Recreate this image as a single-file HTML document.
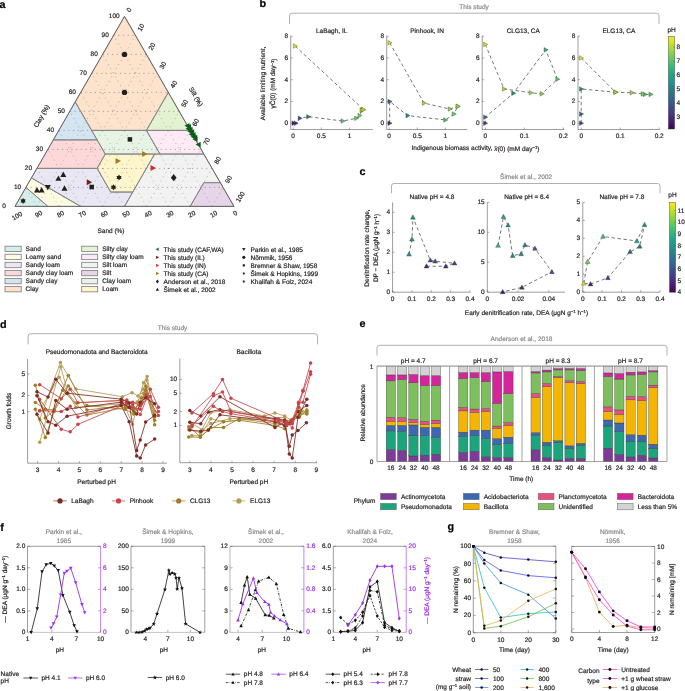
<!DOCTYPE html><html><head><meta charset="utf-8"><style>html,body{margin:0;padding:0;background:#fff;width:685px;height:691px;overflow:hidden}</style></head><body><svg width="685" height="691" viewBox="0 0 685 691" style="display:block;will-change:transform;text-rendering:geometricPrecision;font-family:'Liberation Sans',sans-serif"><text x="-0.40" y="7.80" font-size="10.8" text-anchor="start" fill="#000" stroke="#000" stroke-width="0.2" font-weight="bold">a</text>
<polygon points="15.00,206.40 47.85,206.40 25.95,187.40" fill="#d5eeea" stroke="none" stroke-width="0.6" stroke-linejoin="round" />
<polygon points="25.95,187.40 47.85,206.40 80.70,206.40 31.43,177.90" fill="#fdfbe1" stroke="none" stroke-width="0.6" stroke-linejoin="round" />
<polygon points="31.43,177.90 80.70,206.40 124.50,206.40 132.77,192.06 110.76,192.06 97.12,168.40 36.90,168.40" fill="#e9e7f4" stroke="none" stroke-width="0.6" stroke-linejoin="round" />
<polygon points="36.90,168.40 97.12,168.40 105.28,154.06 97.12,139.90 53.33,139.90" fill="#fcd8d8" stroke="none" stroke-width="0.6" stroke-linejoin="round" />
<polygon points="53.33,139.90 97.12,139.90 75.22,101.90" fill="#d5e4f1" stroke="none" stroke-width="0.6" stroke-linejoin="round" />
<polygon points="75.22,101.90 91.65,130.40 146.40,130.40 168.30,92.40 124.50,16.40" fill="#fde2cc" stroke="none" stroke-width="0.6" stroke-linejoin="round" />
<polygon points="146.40,130.40 190.20,130.40 168.30,92.40" fill="#e3f2d0" stroke="none" stroke-width="0.6" stroke-linejoin="round" />
<polygon points="160.03,154.06 203.83,154.06 190.20,130.40 146.40,130.40" fill="#fdeaf4" stroke="none" stroke-width="0.6" stroke-linejoin="round" />
<polygon points="124.50,206.40 190.20,206.40 203.89,182.65 220.31,182.65 203.83,154.06 154.67,154.06 132.77,192.06" fill="#f2f2f2" stroke="none" stroke-width="0.6" stroke-linejoin="round" />
<polygon points="190.20,206.40 234.00,206.40 220.31,182.65 203.89,182.65" fill="#e6d4e8" stroke="none" stroke-width="0.6" stroke-linejoin="round" />
<polygon points="105.28,154.06 160.03,154.06 146.40,130.40 91.65,130.40" fill="#e7f4e5" stroke="none" stroke-width="0.6" stroke-linejoin="round" />
<polygon points="132.77,192.06 110.76,192.06 97.12,168.40 105.28,154.06 154.67,154.06" fill="#fdf6cc" stroke="none" stroke-width="0.6" stroke-linejoin="round" />
<line x1="25.95" y1="187.40" x2="223.05" y2="187.40" stroke="#6a6a6a" stroke-width="0.55" stroke-dasharray="1.2 3.5" />
<line x1="212.10" y1="206.40" x2="113.55" y2="35.40" stroke="#7a7a7a" stroke-width="0.5" stroke-dasharray="1.1 3.7" />
<line x1="36.90" y1="206.40" x2="135.45" y2="35.40" stroke="#7a7a7a" stroke-width="0.5" stroke-dasharray="1.1 3.7" />
<line x1="36.90" y1="168.40" x2="212.10" y2="168.40" stroke="#6a6a6a" stroke-width="0.55" stroke-dasharray="1.2 3.5" />
<line x1="190.20" y1="206.40" x2="102.60" y2="54.40" stroke="#7a7a7a" stroke-width="0.5" stroke-dasharray="1.1 3.7" />
<line x1="58.80" y1="206.40" x2="146.40" y2="54.40" stroke="#7a7a7a" stroke-width="0.5" stroke-dasharray="1.1 3.7" />
<line x1="47.85" y1="149.40" x2="201.15" y2="149.40" stroke="#6a6a6a" stroke-width="0.55" stroke-dasharray="1.2 3.5" />
<line x1="168.30" y1="206.40" x2="91.65" y2="73.40" stroke="#7a7a7a" stroke-width="0.5" stroke-dasharray="1.1 3.7" />
<line x1="80.70" y1="206.40" x2="157.35" y2="73.40" stroke="#7a7a7a" stroke-width="0.5" stroke-dasharray="1.1 3.7" />
<line x1="58.80" y1="130.40" x2="190.20" y2="130.40" stroke="#6a6a6a" stroke-width="0.55" stroke-dasharray="1.2 3.5" />
<line x1="146.40" y1="206.40" x2="80.70" y2="92.40" stroke="#7a7a7a" stroke-width="0.5" stroke-dasharray="1.1 3.7" />
<line x1="102.60" y1="206.40" x2="168.30" y2="92.40" stroke="#7a7a7a" stroke-width="0.5" stroke-dasharray="1.1 3.7" />
<line x1="69.75" y1="111.40" x2="179.25" y2="111.40" stroke="#6a6a6a" stroke-width="0.55" stroke-dasharray="1.2 3.5" />
<line x1="124.50" y1="206.40" x2="69.75" y2="111.40" stroke="#7a7a7a" stroke-width="0.5" stroke-dasharray="1.1 3.7" />
<line x1="124.50" y1="206.40" x2="179.25" y2="111.40" stroke="#7a7a7a" stroke-width="0.5" stroke-dasharray="1.1 3.7" />
<line x1="80.70" y1="92.40" x2="168.30" y2="92.40" stroke="#6a6a6a" stroke-width="0.55" stroke-dasharray="1.2 3.5" />
<line x1="102.60" y1="206.40" x2="58.80" y2="130.40" stroke="#7a7a7a" stroke-width="0.5" stroke-dasharray="1.1 3.7" />
<line x1="146.40" y1="206.40" x2="190.20" y2="130.40" stroke="#7a7a7a" stroke-width="0.5" stroke-dasharray="1.1 3.7" />
<line x1="91.65" y1="73.40" x2="157.35" y2="73.40" stroke="#6a6a6a" stroke-width="0.55" stroke-dasharray="1.2 3.5" />
<line x1="80.70" y1="206.40" x2="47.85" y2="149.40" stroke="#7a7a7a" stroke-width="0.5" stroke-dasharray="1.1 3.7" />
<line x1="168.30" y1="206.40" x2="201.15" y2="149.40" stroke="#7a7a7a" stroke-width="0.5" stroke-dasharray="1.1 3.7" />
<line x1="102.60" y1="54.40" x2="146.40" y2="54.40" stroke="#6a6a6a" stroke-width="0.55" stroke-dasharray="1.2 3.5" />
<line x1="58.80" y1="206.40" x2="36.90" y2="168.40" stroke="#7a7a7a" stroke-width="0.5" stroke-dasharray="1.1 3.7" />
<line x1="190.20" y1="206.40" x2="212.10" y2="168.40" stroke="#7a7a7a" stroke-width="0.5" stroke-dasharray="1.1 3.7" />
<line x1="113.55" y1="35.40" x2="135.45" y2="35.40" stroke="#6a6a6a" stroke-width="0.55" stroke-dasharray="1.2 3.5" />
<line x1="36.90" y1="206.40" x2="25.95" y2="187.40" stroke="#7a7a7a" stroke-width="0.5" stroke-dasharray="1.1 3.7" />
<line x1="212.10" y1="206.40" x2="223.05" y2="187.40" stroke="#7a7a7a" stroke-width="0.5" stroke-dasharray="1.1 3.7" />
<polygon points="15.00,206.40 47.85,206.40 25.95,187.40" fill="none" stroke="#858585" stroke-width="0.9" stroke-linejoin="round" />
<polygon points="25.95,187.40 47.85,206.40 80.70,206.40 31.43,177.90" fill="none" stroke="#858585" stroke-width="0.9" stroke-linejoin="round" />
<polygon points="31.43,177.90 80.70,206.40 124.50,206.40 132.77,192.06 110.76,192.06 97.12,168.40 36.90,168.40" fill="none" stroke="#858585" stroke-width="0.9" stroke-linejoin="round" />
<polygon points="36.90,168.40 97.12,168.40 105.28,154.06 97.12,139.90 53.33,139.90" fill="none" stroke="#858585" stroke-width="0.9" stroke-linejoin="round" />
<polygon points="53.33,139.90 97.12,139.90 75.22,101.90" fill="none" stroke="#858585" stroke-width="0.9" stroke-linejoin="round" />
<polygon points="75.22,101.90 91.65,130.40 146.40,130.40 168.30,92.40 124.50,16.40" fill="none" stroke="#858585" stroke-width="0.9" stroke-linejoin="round" />
<polygon points="146.40,130.40 190.20,130.40 168.30,92.40" fill="none" stroke="#858585" stroke-width="0.9" stroke-linejoin="round" />
<polygon points="160.03,154.06 203.83,154.06 190.20,130.40 146.40,130.40" fill="none" stroke="#858585" stroke-width="0.9" stroke-linejoin="round" />
<polygon points="124.50,206.40 190.20,206.40 203.89,182.65 220.31,182.65 203.83,154.06 154.67,154.06 132.77,192.06" fill="none" stroke="#858585" stroke-width="0.9" stroke-linejoin="round" />
<polygon points="190.20,206.40 234.00,206.40 220.31,182.65 203.89,182.65" fill="none" stroke="#858585" stroke-width="0.9" stroke-linejoin="round" />
<polygon points="105.28,154.06 160.03,154.06 146.40,130.40 91.65,130.40" fill="none" stroke="#858585" stroke-width="0.9" stroke-linejoin="round" />
<polygon points="132.77,192.06 110.76,192.06 97.12,168.40 105.28,154.06 154.67,154.06" fill="none" stroke="#858585" stroke-width="0.9" stroke-linejoin="round" />
<polygon points="124.50,16.40 15.00,206.40 234.00,206.40" fill="none" stroke="#555" stroke-width="0.7" stroke-linejoin="round" />
<text x="5.80" y="206.90" font-size="6.5" text-anchor="end" fill="#231f20" stroke="#231f20" stroke-width="0.2" dominant-baseline="central">0</text>
<text x="21.15" y="187.90" font-size="6.5" text-anchor="end" fill="#231f20" stroke="#231f20" stroke-width="0.2" dominant-baseline="central">10</text>
<text x="32.10" y="168.90" font-size="6.5" text-anchor="end" fill="#231f20" stroke="#231f20" stroke-width="0.2" dominant-baseline="central">20</text>
<text x="43.05" y="149.90" font-size="6.5" text-anchor="end" fill="#231f20" stroke="#231f20" stroke-width="0.2" dominant-baseline="central">30</text>
<text x="54.00" y="130.90" font-size="6.5" text-anchor="end" fill="#231f20" stroke="#231f20" stroke-width="0.2" dominant-baseline="central">40</text>
<text x="64.95" y="111.90" font-size="6.5" text-anchor="end" fill="#231f20" stroke="#231f20" stroke-width="0.2" dominant-baseline="central">50</text>
<text x="75.90" y="92.90" font-size="6.5" text-anchor="end" fill="#231f20" stroke="#231f20" stroke-width="0.2" dominant-baseline="central">60</text>
<text x="86.85" y="73.90" font-size="6.5" text-anchor="end" fill="#231f20" stroke="#231f20" stroke-width="0.2" dominant-baseline="central">70</text>
<text x="97.80" y="54.90" font-size="6.5" text-anchor="end" fill="#231f20" stroke="#231f20" stroke-width="0.2" dominant-baseline="central">80</text>
<text x="108.75" y="35.90" font-size="6.5" text-anchor="end" fill="#231f20" stroke="#231f20" stroke-width="0.2" dominant-baseline="central">90</text>
<text x="119.70" y="16.90" font-size="6.5" text-anchor="end" fill="#231f20" stroke="#231f20" stroke-width="0.2" dominant-baseline="central">100</text>
<text x="129.68" y="10.28" font-size="6.5" text-anchor="middle" fill="#231f20" stroke="#231f20" stroke-width="0.2" dominant-baseline="central" transform="rotate(-60 129.68 10.28)">0</text>
<text x="141.50" y="27.77" font-size="6.5" text-anchor="middle" fill="#231f20" stroke="#231f20" stroke-width="0.2" dominant-baseline="central" transform="rotate(-60 141.50 27.77)">10</text>
<text x="152.45" y="46.77" font-size="6.5" text-anchor="middle" fill="#231f20" stroke="#231f20" stroke-width="0.2" dominant-baseline="central" transform="rotate(-60 152.45 46.77)">20</text>
<text x="163.40" y="65.77" font-size="6.5" text-anchor="middle" fill="#231f20" stroke="#231f20" stroke-width="0.2" dominant-baseline="central" transform="rotate(-60 163.40 65.77)">30</text>
<text x="174.35" y="84.77" font-size="6.5" text-anchor="middle" fill="#231f20" stroke="#231f20" stroke-width="0.2" dominant-baseline="central" transform="rotate(-60 174.35 84.77)">40</text>
<text x="185.30" y="103.77" font-size="6.5" text-anchor="middle" fill="#231f20" stroke="#231f20" stroke-width="0.2" dominant-baseline="central" transform="rotate(-60 185.30 103.77)">50</text>
<text x="196.25" y="122.77" font-size="6.5" text-anchor="middle" fill="#231f20" stroke="#231f20" stroke-width="0.2" dominant-baseline="central" transform="rotate(-60 196.25 122.77)">60</text>
<text x="207.20" y="141.77" font-size="6.5" text-anchor="middle" fill="#231f20" stroke="#231f20" stroke-width="0.2" dominant-baseline="central" transform="rotate(-60 207.20 141.77)">70</text>
<text x="218.15" y="160.77" font-size="6.5" text-anchor="middle" fill="#231f20" stroke="#231f20" stroke-width="0.2" dominant-baseline="central" transform="rotate(-60 218.15 160.77)">80</text>
<text x="229.10" y="179.77" font-size="6.5" text-anchor="middle" fill="#231f20" stroke="#231f20" stroke-width="0.2" dominant-baseline="central" transform="rotate(-60 229.10 179.77)">90</text>
<text x="240.93" y="197.25" font-size="6.5" text-anchor="middle" fill="#231f20" stroke="#231f20" stroke-width="0.2" dominant-baseline="central" transform="rotate(-60 240.93 197.25)">100</text>
<text x="235.65" y="213.88" font-size="6.5" text-anchor="middle" fill="#231f20" stroke="#231f20" stroke-width="0.2" dominant-baseline="central" transform="rotate(-30 235.65 213.88)">0</text>
<text x="214.10" y="214.75" font-size="6.5" text-anchor="middle" fill="#231f20" stroke="#231f20" stroke-width="0.2" dominant-baseline="central" transform="rotate(-30 214.10 214.75)">10</text>
<text x="192.20" y="214.75" font-size="6.5" text-anchor="middle" fill="#231f20" stroke="#231f20" stroke-width="0.2" dominant-baseline="central" transform="rotate(-30 192.20 214.75)">20</text>
<text x="170.30" y="214.75" font-size="6.5" text-anchor="middle" fill="#231f20" stroke="#231f20" stroke-width="0.2" dominant-baseline="central" transform="rotate(-30 170.30 214.75)">30</text>
<text x="148.40" y="214.75" font-size="6.5" text-anchor="middle" fill="#231f20" stroke="#231f20" stroke-width="0.2" dominant-baseline="central" transform="rotate(-30 148.40 214.75)">40</text>
<text x="126.50" y="214.75" font-size="6.5" text-anchor="middle" fill="#231f20" stroke="#231f20" stroke-width="0.2" dominant-baseline="central" transform="rotate(-30 126.50 214.75)">50</text>
<text x="104.60" y="214.75" font-size="6.5" text-anchor="middle" fill="#231f20" stroke="#231f20" stroke-width="0.2" dominant-baseline="central" transform="rotate(-30 104.60 214.75)">60</text>
<text x="82.70" y="214.75" font-size="6.5" text-anchor="middle" fill="#231f20" stroke="#231f20" stroke-width="0.2" dominant-baseline="central" transform="rotate(-30 82.70 214.75)">70</text>
<text x="60.80" y="214.75" font-size="6.5" text-anchor="middle" fill="#231f20" stroke="#231f20" stroke-width="0.2" dominant-baseline="central" transform="rotate(-30 60.80 214.75)">80</text>
<text x="38.90" y="214.75" font-size="6.5" text-anchor="middle" fill="#231f20" stroke="#231f20" stroke-width="0.2" dominant-baseline="central" transform="rotate(-30 38.90 214.75)">90</text>
<text x="17.35" y="216.53" font-size="6.5" text-anchor="middle" fill="#231f20" stroke="#231f20" stroke-width="0.2" dominant-baseline="central" transform="rotate(-30 17.35 216.53)">100</text>
<text x="111.00" y="231.70" font-size="6.5" text-anchor="middle" fill="#231f20" stroke="#231f20" stroke-width="0.2" dominant-baseline="central">Sand (%)</text>
<text x="42.10" y="116.40" font-size="6.5" text-anchor="middle" fill="#231f20" stroke="#231f20" stroke-width="0.2" dominant-baseline="central" transform="rotate(-60 42.10 116.40)">Clay (%)</text>
<text x="195.40" y="97.10" font-size="6.5" text-anchor="middle" fill="#231f20" stroke="#231f20" stroke-width="0.2" dominant-baseline="central" transform="rotate(60 195.40 97.10)">Silt (%)</text>
<circle cx="124.50" cy="54.40" r="2.70" fill="#231f20" stroke="none" stroke-width="0.5"/>
<circle cx="124.50" cy="92.40" r="2.70" fill="#231f20" stroke="none" stroke-width="0.5"/>
<rect x="127.65" y="137.15" width="4.50" height="4.50" fill="#231f20" stroke="none" stroke-width="0.6" />
<rect x="89.45" y="184.75" width="4.50" height="4.50" fill="#231f20" stroke="none" stroke-width="0.6" />
<polygon points="173.70,174.10 176.58,177.70 173.70,181.30 170.82,177.70" fill="#231f20" stroke="none" stroke-width="0.6" stroke-linejoin="round" />
<polygon points="119.00,174.50 118.10,175.94 116.40,176.00 117.20,177.50 116.40,179.00 118.10,179.06 119.00,180.50 119.90,179.06 121.60,179.00 120.80,177.50 121.60,176.00 119.90,175.94" fill="#231f20" stroke="none" stroke-width="0.6" stroke-linejoin="round" />
<polygon points="113.50,184.30 112.60,185.74 110.90,185.80 111.70,187.30 110.90,188.80 112.60,188.86 113.50,190.30 114.40,188.86 116.10,188.80 115.30,187.30 116.10,185.80 114.40,185.74" fill="#231f20" stroke="none" stroke-width="0.6" stroke-linejoin="round" />
<polygon points="23.10,197.90 22.20,199.34 20.50,199.40 21.30,200.90 20.50,202.40 22.20,202.46 23.10,203.90 24.00,202.46 25.70,202.40 24.90,200.90 25.70,199.40 24.00,199.34" fill="#231f20" stroke="none" stroke-width="0.6" stroke-linejoin="round" />
<polygon points="63.30,171.55 66.30,176.95 60.30,176.95" fill="#231f20" stroke="none" stroke-width="0.4" stroke-linejoin="round" />
<polygon points="58.40,175.45 61.40,180.85 55.40,180.85" fill="#231f20" stroke="none" stroke-width="0.4" stroke-linejoin="round" />
<polygon points="64.50,185.25 67.50,190.65 61.50,190.65" fill="#231f20" stroke="none" stroke-width="0.4" stroke-linejoin="round" />
<polygon points="37.00,187.05 40.00,192.45 34.00,192.45" fill="#231f20" stroke="none" stroke-width="0.4" stroke-linejoin="round" />
<polygon points="41.60,187.05 44.60,192.45 38.60,192.45" fill="#231f20" stroke="none" stroke-width="0.4" stroke-linejoin="round" />
<polygon points="47.80,190.35 50.80,184.95 44.80,184.95" fill="#231f20" stroke="none" stroke-width="0.4" stroke-linejoin="round" />
<polygon points="120.95,161.00 115.55,158.00 115.55,164.00" fill="#a27b1f" stroke="none" stroke-width="0.4" stroke-linejoin="round" />
<polygon points="147.55,154.00 142.15,151.00 142.15,157.00" fill="#a27b1f" stroke="none" stroke-width="0.4" stroke-linejoin="round" />
<polygon points="155.95,167.90 150.55,164.90 150.55,170.90" fill="#d02a2a" stroke="none" stroke-width="0.4" stroke-linejoin="round" />
<polygon points="92.15,182.30 86.75,179.30 86.75,185.30" fill="#7a1f14" stroke="none" stroke-width="0.4" stroke-linejoin="round" />
<polygon points="184.46,125.80 189.50,123.00 189.50,128.60" fill="#0b5e17" stroke="none" stroke-width="0.4" stroke-linejoin="round" />
<polygon points="186.04,126.69 191.08,123.89 191.08,129.49" fill="#0b5e17" stroke="none" stroke-width="0.4" stroke-linejoin="round" />
<polygon points="185.54,128.78 190.58,125.98 190.58,131.58" fill="#0b5e17" stroke="none" stroke-width="0.4" stroke-linejoin="round" />
<polygon points="187.47,129.47 192.51,126.67 192.51,132.27" fill="#0b5e17" stroke="none" stroke-width="0.4" stroke-linejoin="round" />
<polygon points="187.31,131.36 192.35,128.56 192.35,134.16" fill="#0b5e17" stroke="none" stroke-width="0.4" stroke-linejoin="round" />
<polygon points="189.15,132.10 194.19,129.30 194.19,134.90" fill="#0b5e17" stroke="none" stroke-width="0.4" stroke-linejoin="round" />
<polygon points="188.65,134.19 193.69,131.39 193.69,136.99" fill="#0b5e17" stroke="none" stroke-width="0.4" stroke-linejoin="round" />
<polygon points="190.49,134.93 195.53,132.13 195.53,137.73" fill="#0b5e17" stroke="none" stroke-width="0.4" stroke-linejoin="round" />
<polygon points="190.60,136.67 195.64,133.87 195.64,139.47" fill="#0b5e17" stroke="none" stroke-width="0.4" stroke-linejoin="round" />
<polygon points="192.18,137.56 197.22,134.76 197.22,140.36" fill="#0b5e17" stroke="none" stroke-width="0.4" stroke-linejoin="round" />
<polygon points="192.46,139.20 197.50,136.40 197.50,142.00" fill="#0b5e17" stroke="none" stroke-width="0.4" stroke-linejoin="round" />
<polygon points="195.66,144.60 200.70,141.80 200.70,147.40" fill="#0b5e17" stroke="none" stroke-width="0.4" stroke-linejoin="round" />
<rect x="5.00" y="246.20" width="16.20" height="5.40" fill="#d5eeea" stroke="#7c7c7c" stroke-width="0.8" />
<text x="25.60" y="249.40" font-size="6.5" text-anchor="start" fill="#231f20" stroke="#231f20" stroke-width="0.2" dominant-baseline="central">Sand</text>
<rect x="5.00" y="254.25" width="16.20" height="5.40" fill="#fdfbe1" stroke="#7c7c7c" stroke-width="0.8" />
<text x="25.60" y="257.45" font-size="6.5" text-anchor="start" fill="#231f20" stroke="#231f20" stroke-width="0.2" dominant-baseline="central">Loamy sand</text>
<rect x="5.00" y="262.30" width="16.20" height="5.40" fill="#e9e7f4" stroke="#7c7c7c" stroke-width="0.8" />
<text x="25.60" y="265.50" font-size="6.5" text-anchor="start" fill="#231f20" stroke="#231f20" stroke-width="0.2" dominant-baseline="central">Sandy loam</text>
<rect x="5.00" y="270.35" width="16.20" height="5.40" fill="#fcd8d8" stroke="#7c7c7c" stroke-width="0.8" />
<text x="25.60" y="273.55" font-size="6.5" text-anchor="start" fill="#231f20" stroke="#231f20" stroke-width="0.2" dominant-baseline="central">Sandy clay loam</text>
<rect x="5.00" y="278.40" width="16.20" height="5.40" fill="#d5e4f1" stroke="#7c7c7c" stroke-width="0.8" />
<text x="25.60" y="281.60" font-size="6.5" text-anchor="start" fill="#231f20" stroke="#231f20" stroke-width="0.2" dominant-baseline="central">Sandy clay</text>
<rect x="5.00" y="286.45" width="16.20" height="5.40" fill="#fde2cc" stroke="#7c7c7c" stroke-width="0.8" />
<text x="25.60" y="289.65" font-size="6.5" text-anchor="start" fill="#231f20" stroke="#231f20" stroke-width="0.2" dominant-baseline="central">Clay</text>
<rect x="81.70" y="246.20" width="16.00" height="5.40" fill="#e3f2d0" stroke="#7c7c7c" stroke-width="0.8" />
<text x="102.20" y="249.40" font-size="6.5" text-anchor="start" fill="#231f20" stroke="#231f20" stroke-width="0.2" dominant-baseline="central">Silty clay</text>
<rect x="81.70" y="254.25" width="16.00" height="5.40" fill="#fdeaf4" stroke="#7c7c7c" stroke-width="0.8" />
<text x="102.20" y="257.45" font-size="6.5" text-anchor="start" fill="#231f20" stroke="#231f20" stroke-width="0.2" dominant-baseline="central">Silty clay loam</text>
<rect x="81.70" y="262.30" width="16.00" height="5.40" fill="#f2f2f2" stroke="#7c7c7c" stroke-width="0.8" />
<text x="102.20" y="265.50" font-size="6.5" text-anchor="start" fill="#231f20" stroke="#231f20" stroke-width="0.2" dominant-baseline="central">Silt loam</text>
<rect x="81.70" y="270.35" width="16.00" height="5.40" fill="#e6d4e8" stroke="#7c7c7c" stroke-width="0.8" />
<text x="102.20" y="273.55" font-size="6.5" text-anchor="start" fill="#231f20" stroke="#231f20" stroke-width="0.2" dominant-baseline="central">Silt</text>
<rect x="81.70" y="278.40" width="16.00" height="5.40" fill="#e7f4e5" stroke="#7c7c7c" stroke-width="0.8" />
<text x="102.20" y="281.60" font-size="6.5" text-anchor="start" fill="#231f20" stroke="#231f20" stroke-width="0.2" dominant-baseline="central">Clay loam</text>
<rect x="81.70" y="286.45" width="16.00" height="5.40" fill="#fdf6cc" stroke="#7c7c7c" stroke-width="0.8" />
<text x="102.20" y="289.65" font-size="6.5" text-anchor="start" fill="#231f20" stroke="#231f20" stroke-width="0.2" dominant-baseline="central">Loam</text>
<polygon points="155.62,249.30 158.68,247.60 158.68,251.00" fill="#1f6b2a" stroke="none" stroke-width="0.4" stroke-linejoin="round" />
<text x="163.60" y="250.20" font-size="6.5" text-anchor="start" fill="#231f20" stroke="#231f20" stroke-width="0.2" dominant-baseline="central">This study (CAF,WA)</text>
<polygon points="159.19,257.35 156.12,255.65 156.12,259.05" fill="#7a1f14" stroke="none" stroke-width="0.4" stroke-linejoin="round" />
<text x="163.60" y="258.25" font-size="6.5" text-anchor="start" fill="#231f20" stroke="#231f20" stroke-width="0.2" dominant-baseline="central">This study (IL)</text>
<polygon points="159.19,265.40 156.12,263.70 156.12,267.10" fill="#d02a2a" stroke="none" stroke-width="0.4" stroke-linejoin="round" />
<text x="163.60" y="266.30" font-size="6.5" text-anchor="start" fill="#231f20" stroke="#231f20" stroke-width="0.2" dominant-baseline="central">This study (IN)</text>
<polygon points="159.19,273.45 156.12,271.75 156.12,275.15" fill="#a27b1f" stroke="none" stroke-width="0.4" stroke-linejoin="round" />
<text x="163.60" y="274.35" font-size="6.5" text-anchor="start" fill="#231f20" stroke="#231f20" stroke-width="0.2" dominant-baseline="central">This study (CA)</text>
<polygon points="157.40,279.60 158.92,281.50 157.40,283.40 155.88,281.50" fill="#231f20" stroke="none" stroke-width="0.6" stroke-linejoin="round" />
<text x="163.60" y="282.40" font-size="6.5" text-anchor="start" fill="#231f20" stroke="#231f20" stroke-width="0.2" dominant-baseline="central">Anderson et al., 2018</text>
<polygon points="157.40,287.76 159.10,290.82 155.70,290.82" fill="#231f20" stroke="none" stroke-width="0.4" stroke-linejoin="round" />
<text x="163.60" y="290.45" font-size="6.5" text-anchor="start" fill="#231f20" stroke="#231f20" stroke-width="0.2" dominant-baseline="central">Šimek et al., 2002</text>
<polygon points="243.80,251.09 245.50,248.03 242.10,248.03" fill="#231f20" stroke="none" stroke-width="0.4" stroke-linejoin="round" />
<text x="250.50" y="250.20" font-size="6.5" text-anchor="start" fill="#231f20" stroke="#231f20" stroke-width="0.2" dominant-baseline="central">Parkin et al., 1985</text>
<circle cx="243.80" cy="257.35" r="1.60" fill="#231f20" stroke="none" stroke-width="0.5"/>
<text x="250.50" y="258.25" font-size="6.5" text-anchor="start" fill="#231f20" stroke="#231f20" stroke-width="0.2" dominant-baseline="central">Nõmmik, 1956</text>
<rect x="242.70" y="264.30" width="2.20" height="2.20" fill="#231f20" stroke="none" stroke-width="0.6" />
<text x="250.50" y="266.30" font-size="6.5" text-anchor="start" fill="#231f20" stroke="#231f20" stroke-width="0.2" dominant-baseline="central">Bremner &amp; Shaw, 1958</text>
<polygon points="243.80,272.05 243.38,272.72 242.59,272.75 242.96,273.45 242.59,274.15 243.38,274.18 243.80,274.85 244.22,274.18 245.01,274.15 244.64,273.45 245.01,272.75 244.22,272.72" fill="#231f20" stroke="none" stroke-width="0.6" stroke-linejoin="round" />
<text x="250.50" y="274.35" font-size="6.5" text-anchor="start" fill="#231f20" stroke="#231f20" stroke-width="0.2" dominant-baseline="central">Šimek &amp; Hopkins, 1999</text>
<polygon points="243.80,280.10 243.38,280.77 242.59,280.80 242.96,281.50 242.59,282.20 243.38,282.23 243.80,282.90 244.22,282.23 245.01,282.20 244.64,281.50 245.01,280.80 244.22,280.77" fill="#231f20" stroke="none" stroke-width="0.6" stroke-linejoin="round" />
<text x="250.50" y="282.40" font-size="6.5" text-anchor="start" fill="#231f20" stroke="#231f20" stroke-width="0.2" dominant-baseline="central">Khalifah &amp; Folz, 2024</text>
<text x="259.40" y="7.30" font-size="10.8" text-anchor="start" fill="#000" stroke="#000" stroke-width="0.2" font-weight="bold">b</text>
<path d="M289.50,24.00 L289.50,15.70 Q289.50,13.20 292.00,13.20 L656.50,13.20 Q659.00,13.20 659.00,15.70 L659.00,24.00" fill="none" stroke="#8f8f8f" stroke-width="0.7"/>
<text x="474.00" y="7.70" font-size="6.5" text-anchor="middle" fill="#8a8a8a" stroke="#8a8a8a" stroke-width="0.2" dominant-baseline="central">This study</text>
<text x="331.65" y="31.30" font-size="6.5" text-anchor="middle" fill="#231f20" stroke="#231f20" stroke-width="0.2" dominant-baseline="central">LaBagh, IL</text>
<line x1="290.70" y1="35.80" x2="290.70" y2="129.50" stroke="#5a5a5a" stroke-width="0.6" />
<line x1="290.70" y1="129.50" x2="372.60" y2="129.50" stroke="#5a5a5a" stroke-width="0.6" />
<line x1="290.70" y1="123.20" x2="292.70" y2="123.20" stroke="#5a5a5a" stroke-width="0.5" />
<text x="288.10" y="123.70" font-size="6.5" text-anchor="end" fill="#231f20" stroke="#231f20" stroke-width="0.2" dominant-baseline="central">0</text>
<line x1="290.70" y1="101.46" x2="292.70" y2="101.46" stroke="#5a5a5a" stroke-width="0.5" />
<text x="288.10" y="101.96" font-size="6.5" text-anchor="end" fill="#231f20" stroke="#231f20" stroke-width="0.2" dominant-baseline="central">2</text>
<line x1="290.70" y1="79.72" x2="292.70" y2="79.72" stroke="#5a5a5a" stroke-width="0.5" />
<text x="288.10" y="80.22" font-size="6.5" text-anchor="end" fill="#231f20" stroke="#231f20" stroke-width="0.2" dominant-baseline="central">4</text>
<line x1="290.70" y1="57.98" x2="292.70" y2="57.98" stroke="#5a5a5a" stroke-width="0.5" />
<text x="288.10" y="58.48" font-size="6.5" text-anchor="end" fill="#231f20" stroke="#231f20" stroke-width="0.2" dominant-baseline="central">6</text>
<line x1="290.70" y1="36.24" x2="292.70" y2="36.24" stroke="#5a5a5a" stroke-width="0.5" />
<text x="288.10" y="36.74" font-size="6.5" text-anchor="end" fill="#231f20" stroke="#231f20" stroke-width="0.2" dominant-baseline="central">8</text>
<line x1="293.10" y1="129.50" x2="293.10" y2="127.50" stroke="#5a5a5a" stroke-width="0.5" />
<text x="293.10" y="136.80" font-size="6.5" text-anchor="middle" fill="#231f20" stroke="#231f20" stroke-width="0.2" dominant-baseline="central">0</text>
<line x1="321.30" y1="129.50" x2="321.30" y2="127.50" stroke="#5a5a5a" stroke-width="0.5" />
<text x="321.30" y="136.80" font-size="6.5" text-anchor="middle" fill="#231f20" stroke="#231f20" stroke-width="0.2" dominant-baseline="central">0.5</text>
<line x1="349.50" y1="129.50" x2="349.50" y2="127.50" stroke="#5a5a5a" stroke-width="0.5" />
<text x="349.50" y="136.80" font-size="6.5" text-anchor="middle" fill="#231f20" stroke="#231f20" stroke-width="0.2" dominant-baseline="central">1</text>
<polyline points="295.07,46.02 363.60,109.61 361.91,110.16" fill="none" stroke="#4a4a4a" stroke-width="0.75" stroke-dasharray="3.4 2.6" stroke-linejoin="round" />
<polyline points="293.66,123.20 295.92,123.20 299.87,118.31 308.33,116.68 342.73,121.03 356.27,118.31 359.65,115.59 361.91,110.16" fill="none" stroke="#4a4a4a" stroke-width="0.75" stroke-dasharray="3.4 2.6" stroke-linejoin="round" />
<polygon points="296.08,123.20 291.94,120.90 291.94,125.50" fill="#471c6d" stroke="#333" stroke-width="0.35" stroke-linejoin="round" />
<polygon points="298.34,123.20 294.19,120.90 294.19,125.50" fill="#45307c" stroke="#333" stroke-width="0.35" stroke-linejoin="round" />
<polygon points="302.28,118.31 298.14,116.01 298.14,120.61" fill="#38588b" stroke="#333" stroke-width="0.35" stroke-linejoin="round" />
<polygon points="310.74,116.68 306.60,114.38 306.60,118.98" fill="#287e8e" stroke="#333" stroke-width="0.35" stroke-linejoin="round" />
<polygon points="345.15,121.03 341.01,118.73 341.01,123.33" fill="#53c468" stroke="#333" stroke-width="0.35" stroke-linejoin="round" />
<polygon points="358.68,118.31 354.54,116.01 354.54,120.61" fill="#63c95e" stroke="#333" stroke-width="0.35" stroke-linejoin="round" />
<polygon points="362.07,115.59 357.93,113.29 357.93,117.89" fill="#73cf55" stroke="#333" stroke-width="0.35" stroke-linejoin="round" />
<polygon points="364.32,110.16 360.18,107.86 360.18,112.46" fill="#a5da36" stroke="#333" stroke-width="0.35" stroke-linejoin="round" />
<polygon points="364.32,110.16 360.18,107.86 360.18,112.46" fill="#a5da36" stroke="#333" stroke-width="0.35" stroke-linejoin="round" />
<polygon points="366.02,109.61 361.88,107.31 361.88,111.91" fill="#afdc2f" stroke="#333" stroke-width="0.35" stroke-linejoin="round" />
<polygon points="297.49,46.02 293.35,43.72 293.35,48.32" fill="#d6e226" stroke="#333" stroke-width="0.35" stroke-linejoin="round" />
<text x="427.05" y="31.30" font-size="6.5" text-anchor="middle" fill="#231f20" stroke="#231f20" stroke-width="0.2" dominant-baseline="central">Pinhook, IN</text>
<line x1="386.70" y1="35.80" x2="386.70" y2="129.50" stroke="#5a5a5a" stroke-width="0.6" />
<line x1="386.70" y1="129.50" x2="467.40" y2="129.50" stroke="#5a5a5a" stroke-width="0.6" />
<line x1="386.70" y1="123.20" x2="388.70" y2="123.20" stroke="#5a5a5a" stroke-width="0.5" />
<text x="384.10" y="123.70" font-size="6.5" text-anchor="end" fill="#231f20" stroke="#231f20" stroke-width="0.2" dominant-baseline="central">0</text>
<line x1="386.70" y1="101.46" x2="388.70" y2="101.46" stroke="#5a5a5a" stroke-width="0.5" />
<text x="384.10" y="101.96" font-size="6.5" text-anchor="end" fill="#231f20" stroke="#231f20" stroke-width="0.2" dominant-baseline="central">2</text>
<line x1="386.70" y1="79.72" x2="388.70" y2="79.72" stroke="#5a5a5a" stroke-width="0.5" />
<text x="384.10" y="80.22" font-size="6.5" text-anchor="end" fill="#231f20" stroke="#231f20" stroke-width="0.2" dominant-baseline="central">4</text>
<line x1="386.70" y1="57.98" x2="388.70" y2="57.98" stroke="#5a5a5a" stroke-width="0.5" />
<text x="384.10" y="58.48" font-size="6.5" text-anchor="end" fill="#231f20" stroke="#231f20" stroke-width="0.2" dominant-baseline="central">6</text>
<line x1="386.70" y1="36.24" x2="388.70" y2="36.24" stroke="#5a5a5a" stroke-width="0.5" />
<text x="384.10" y="36.74" font-size="6.5" text-anchor="end" fill="#231f20" stroke="#231f20" stroke-width="0.2" dominant-baseline="central">8</text>
<line x1="389.10" y1="129.50" x2="389.10" y2="127.50" stroke="#5a5a5a" stroke-width="0.5" />
<text x="389.10" y="136.80" font-size="6.5" text-anchor="middle" fill="#231f20" stroke="#231f20" stroke-width="0.2" dominant-baseline="central">0</text>
<line x1="417.25" y1="129.50" x2="417.25" y2="127.50" stroke="#5a5a5a" stroke-width="0.5" />
<text x="417.25" y="136.80" font-size="6.5" text-anchor="middle" fill="#231f20" stroke="#231f20" stroke-width="0.2" dominant-baseline="central">0.5</text>
<line x1="445.40" y1="129.50" x2="445.40" y2="127.50" stroke="#5a5a5a" stroke-width="0.5" />
<text x="445.40" y="136.80" font-size="6.5" text-anchor="middle" fill="#231f20" stroke="#231f20" stroke-width="0.2" dominant-baseline="central">1</text>
<polyline points="389.66,42.76 424.01,103.09 449.90,109.07 457.79,106.35" fill="none" stroke="#4a4a4a" stroke-width="0.75" stroke-dasharray="3.4 2.6" stroke-linejoin="round" />
<polyline points="389.66,123.20 389.66,101.46 407.68,115.59 445.40,119.94 453.85,113.96 457.79,106.35" fill="none" stroke="#4a4a4a" stroke-width="0.75" stroke-dasharray="3.4 2.6" stroke-linejoin="round" />
<polygon points="392.08,123.20 387.94,120.90 387.94,125.50" fill="#472b79" stroke="#333" stroke-width="0.35" stroke-linejoin="round" />
<polygon points="392.08,101.46 387.94,99.16 387.94,103.76" fill="#35608d" stroke="#333" stroke-width="0.35" stroke-linejoin="round" />
<polygon points="410.09,115.59 405.95,113.29 405.95,117.89" fill="#24898d" stroke="#333" stroke-width="0.35" stroke-linejoin="round" />
<polygon points="447.82,119.94 443.68,117.64 443.68,122.24" fill="#43be71" stroke="#333" stroke-width="0.35" stroke-linejoin="round" />
<polygon points="456.26,113.96 452.12,111.66 452.12,116.26" fill="#5bc763" stroke="#333" stroke-width="0.35" stroke-linejoin="round" />
<polygon points="452.32,109.07 448.18,106.77 448.18,111.37" fill="#86d449" stroke="#333" stroke-width="0.35" stroke-linejoin="round" />
<polygon points="426.42,103.09 422.28,100.79 422.28,105.39" fill="#9ad83c" stroke="#333" stroke-width="0.35" stroke-linejoin="round" />
<polygon points="460.20,106.35 456.06,104.05 456.06,108.65" fill="#9ad83c" stroke="#333" stroke-width="0.35" stroke-linejoin="round" />
<polygon points="460.20,106.35 456.06,104.05 456.06,108.65" fill="#9ad83c" stroke="#333" stroke-width="0.35" stroke-linejoin="round" />
<polygon points="392.08,42.76 387.94,40.46 387.94,45.06" fill="#d6e226" stroke="#333" stroke-width="0.35" stroke-linejoin="round" />
<text x="523.25" y="31.30" font-size="6.5" text-anchor="middle" fill="#231f20" stroke="#231f20" stroke-width="0.2" dominant-baseline="central">CLG13, CA</text>
<line x1="482.20" y1="35.80" x2="482.20" y2="129.50" stroke="#5a5a5a" stroke-width="0.6" />
<line x1="482.20" y1="129.50" x2="564.30" y2="129.50" stroke="#5a5a5a" stroke-width="0.6" />
<line x1="482.20" y1="123.20" x2="484.20" y2="123.20" stroke="#5a5a5a" stroke-width="0.5" />
<text x="479.60" y="123.70" font-size="6.5" text-anchor="end" fill="#231f20" stroke="#231f20" stroke-width="0.2" dominant-baseline="central">0</text>
<line x1="482.20" y1="101.46" x2="484.20" y2="101.46" stroke="#5a5a5a" stroke-width="0.5" />
<text x="479.60" y="101.96" font-size="6.5" text-anchor="end" fill="#231f20" stroke="#231f20" stroke-width="0.2" dominant-baseline="central">2</text>
<line x1="482.20" y1="79.72" x2="484.20" y2="79.72" stroke="#5a5a5a" stroke-width="0.5" />
<text x="479.60" y="80.22" font-size="6.5" text-anchor="end" fill="#231f20" stroke="#231f20" stroke-width="0.2" dominant-baseline="central">4</text>
<line x1="482.20" y1="57.98" x2="484.20" y2="57.98" stroke="#5a5a5a" stroke-width="0.5" />
<text x="479.60" y="58.48" font-size="6.5" text-anchor="end" fill="#231f20" stroke="#231f20" stroke-width="0.2" dominant-baseline="central">6</text>
<line x1="482.20" y1="36.24" x2="484.20" y2="36.24" stroke="#5a5a5a" stroke-width="0.5" />
<text x="479.60" y="36.74" font-size="6.5" text-anchor="end" fill="#231f20" stroke="#231f20" stroke-width="0.2" dominant-baseline="central">8</text>
<line x1="485.30" y1="129.50" x2="485.30" y2="127.50" stroke="#5a5a5a" stroke-width="0.5" />
<text x="485.30" y="136.80" font-size="6.5" text-anchor="middle" fill="#231f20" stroke="#231f20" stroke-width="0.2" dominant-baseline="central">0</text>
<line x1="524.30" y1="129.50" x2="524.30" y2="127.50" stroke="#5a5a5a" stroke-width="0.5" />
<text x="524.30" y="136.80" font-size="6.5" text-anchor="middle" fill="#231f20" stroke="#231f20" stroke-width="0.2" dominant-baseline="central">0.1</text>
<line x1="563.30" y1="129.50" x2="563.30" y2="127.50" stroke="#5a5a5a" stroke-width="0.5" />
<text x="563.30" y="136.80" font-size="6.5" text-anchor="middle" fill="#231f20" stroke="#231f20" stroke-width="0.2" dominant-baseline="central">0.2</text>
<polyline points="485.30,44.39 504.02,88.96 530.93,92.76 541.85,93.85 557.45,79.18 545.75,49.83 513.38,93.31 485.30,117.22 485.30,123.20" fill="none" stroke="#4a4a4a" stroke-width="0.75" stroke-dasharray="3.4 2.6" stroke-linejoin="round" />
<polygon points="487.72,123.20 483.57,120.90 483.57,125.50" fill="#423e84" stroke="#333" stroke-width="0.35" stroke-linejoin="round" />
<polygon points="487.72,117.22 483.57,114.92 483.57,119.52" fill="#33648d" stroke="#333" stroke-width="0.35" stroke-linejoin="round" />
<polygon points="515.79,93.31 511.65,91.01 511.65,95.61" fill="#228d8c" stroke="#333" stroke-width="0.35" stroke-linejoin="round" />
<polygon points="548.16,49.83 544.02,47.53 544.02,52.13" fill="#34b47a" stroke="#333" stroke-width="0.35" stroke-linejoin="round" />
<polygon points="559.87,79.18 555.73,76.88 555.73,81.48" fill="#53c468" stroke="#333" stroke-width="0.35" stroke-linejoin="round" />
<polygon points="544.26,93.85 540.12,91.55 540.12,96.15" fill="#86d449" stroke="#333" stroke-width="0.35" stroke-linejoin="round" />
<polygon points="533.35,92.76 529.21,90.46 529.21,95.06" fill="#9ad83c" stroke="#333" stroke-width="0.35" stroke-linejoin="round" />
<polygon points="506.44,88.96 502.29,86.66 502.29,91.26" fill="#a5da36" stroke="#333" stroke-width="0.35" stroke-linejoin="round" />
<polygon points="487.72,44.39 483.57,42.09 483.57,46.69" fill="#d6e226" stroke="#333" stroke-width="0.35" stroke-linejoin="round" />
<text x="618.85" y="31.30" font-size="6.5" text-anchor="middle" fill="#231f20" stroke="#231f20" stroke-width="0.2" dominant-baseline="central">ELG13, CA</text>
<line x1="578.00" y1="35.80" x2="578.00" y2="129.50" stroke="#5a5a5a" stroke-width="0.6" />
<line x1="578.00" y1="129.50" x2="659.70" y2="129.50" stroke="#5a5a5a" stroke-width="0.6" />
<line x1="578.00" y1="123.20" x2="580.00" y2="123.20" stroke="#5a5a5a" stroke-width="0.5" />
<text x="575.40" y="123.70" font-size="6.5" text-anchor="end" fill="#231f20" stroke="#231f20" stroke-width="0.2" dominant-baseline="central">0</text>
<line x1="578.00" y1="101.46" x2="580.00" y2="101.46" stroke="#5a5a5a" stroke-width="0.5" />
<text x="575.40" y="101.96" font-size="6.5" text-anchor="end" fill="#231f20" stroke="#231f20" stroke-width="0.2" dominant-baseline="central">2</text>
<line x1="578.00" y1="79.72" x2="580.00" y2="79.72" stroke="#5a5a5a" stroke-width="0.5" />
<text x="575.40" y="80.22" font-size="6.5" text-anchor="end" fill="#231f20" stroke="#231f20" stroke-width="0.2" dominant-baseline="central">4</text>
<line x1="578.00" y1="57.98" x2="580.00" y2="57.98" stroke="#5a5a5a" stroke-width="0.5" />
<text x="575.40" y="58.48" font-size="6.5" text-anchor="end" fill="#231f20" stroke="#231f20" stroke-width="0.2" dominant-baseline="central">6</text>
<line x1="578.00" y1="36.24" x2="580.00" y2="36.24" stroke="#5a5a5a" stroke-width="0.5" />
<text x="575.40" y="36.74" font-size="6.5" text-anchor="end" fill="#231f20" stroke="#231f20" stroke-width="0.2" dominant-baseline="central">8</text>
<line x1="581.20" y1="129.50" x2="581.20" y2="127.50" stroke="#5a5a5a" stroke-width="0.5" />
<text x="581.20" y="136.80" font-size="6.5" text-anchor="middle" fill="#231f20" stroke="#231f20" stroke-width="0.2" dominant-baseline="central">0</text>
<line x1="620.20" y1="129.50" x2="620.20" y2="127.50" stroke="#5a5a5a" stroke-width="0.5" />
<text x="620.20" y="136.80" font-size="6.5" text-anchor="middle" fill="#231f20" stroke="#231f20" stroke-width="0.2" dominant-baseline="central">0.1</text>
<line x1="659.20" y1="129.50" x2="659.20" y2="127.50" stroke="#5a5a5a" stroke-width="0.5" />
<text x="659.20" y="136.80" font-size="6.5" text-anchor="middle" fill="#231f20" stroke="#231f20" stroke-width="0.2" dominant-baseline="central">0.2</text>
<polyline points="581.20,57.98 615.52,92.22 631.90,92.76 642.82,93.85 644.77,94.39 650.62,94.39" fill="none" stroke="#4a4a4a" stroke-width="0.75" stroke-dasharray="3.4 2.6" stroke-linejoin="round" />
<polyline points="581.20,123.20 581.20,113.96 581.20,88.96 615.52,92.22" fill="none" stroke="#4a4a4a" stroke-width="0.75" stroke-dasharray="3.4 2.6" stroke-linejoin="round" />
<polygon points="583.62,123.20 579.48,120.90 579.48,125.50" fill="#404788" stroke="#333" stroke-width="0.35" stroke-linejoin="round" />
<polygon points="583.62,113.96 579.48,111.66 579.48,116.26" fill="#35608d" stroke="#333" stroke-width="0.35" stroke-linejoin="round" />
<polygon points="583.62,88.96 579.48,86.66 579.48,91.26" fill="#24898d" stroke="#333" stroke-width="0.35" stroke-linejoin="round" />
<polygon points="653.03,94.39 648.89,92.09 648.89,96.69" fill="#43be71" stroke="#333" stroke-width="0.35" stroke-linejoin="round" />
<polygon points="647.19,94.39 643.05,92.09 643.05,96.69" fill="#5bc763" stroke="#333" stroke-width="0.35" stroke-linejoin="round" />
<polygon points="645.24,93.85 641.10,91.55 641.10,96.15" fill="#6bcc59" stroke="#333" stroke-width="0.35" stroke-linejoin="round" />
<polygon points="634.32,92.76 630.18,90.46 630.18,95.06" fill="#90d643" stroke="#333" stroke-width="0.35" stroke-linejoin="round" />
<polygon points="617.94,92.22 613.80,89.92 613.80,94.52" fill="#a5da36" stroke="#333" stroke-width="0.35" stroke-linejoin="round" />
<polygon points="617.94,92.22 613.80,89.92 613.80,94.52" fill="#a5da36" stroke="#333" stroke-width="0.35" stroke-linejoin="round" />
<polygon points="583.62,57.98 579.48,55.68 579.48,60.28" fill="#d6e226" stroke="#333" stroke-width="0.35" stroke-linejoin="round" />
<text x="263.80" y="83.50" font-size="6.5" text-anchor="middle" fill="#231f20" stroke="#231f20" stroke-width="0.2" dominant-baseline="central" transform="rotate(-90 263.80 83.50)">Available limiting nutrient,</text>
<text x="273.60" y="83.50" font-size="6.5" text-anchor="middle" fill="#231f20" stroke="#231f20" stroke-width="0.2" dominant-baseline="central" transform="rotate(-90 273.60 83.50)">γC̃(0) (mM day<tspan dy="-2" font-size="4.3">−1</tspan><tspan dy="2">)</tspan></text>
<text x="475.50" y="148.80" font-size="6.5" text-anchor="middle" fill="#231f20" stroke="#231f20" stroke-width="0.2" dominant-baseline="central">Indigenous biomass activity, <tspan font-style="italic">x</tspan><tspan dx="-2.9" dy="-2.9" font-size="4.5">~</tspan><tspan dx="0.27" dy="2.9">(0) (mM day</tspan><tspan dy="-2" font-size="4.3">−1</tspan><tspan dy="2">)</tspan></text>
<defs><linearGradient id="gb" x1="0" y1="0" x2="0" y2="1"><stop offset="0.00" stop-color="#fde725"/><stop offset="0.10" stop-color="#bddf26"/><stop offset="0.20" stop-color="#7ad151"/><stop offset="0.30" stop-color="#44bf70"/><stop offset="0.40" stop-color="#22a884"/><stop offset="0.50" stop-color="#21918c"/><stop offset="0.60" stop-color="#2a788e"/><stop offset="0.70" stop-color="#355f8d"/><stop offset="0.80" stop-color="#414487"/><stop offset="0.90" stop-color="#482475"/><stop offset="1.00" stop-color="#440154"/></linearGradient></defs>
<rect x="668.40" y="36.20" width="6.20" height="92.80" fill="url(#gb)" stroke="#333" stroke-width="0.4" />
<line x1="673.30" y1="117.35" x2="674.60" y2="117.35" stroke="#333" stroke-width="0.4" />
<text x="676.60" y="117.85" font-size="6.5" text-anchor="start" fill="#231f20" stroke="#231f20" stroke-width="0.2" dominant-baseline="central">3</text>
<line x1="673.30" y1="103.30" x2="674.60" y2="103.30" stroke="#333" stroke-width="0.4" />
<text x="676.60" y="103.80" font-size="6.5" text-anchor="start" fill="#231f20" stroke="#231f20" stroke-width="0.2" dominant-baseline="central">4</text>
<line x1="673.30" y1="89.25" x2="674.60" y2="89.25" stroke="#333" stroke-width="0.4" />
<text x="676.60" y="89.75" font-size="6.5" text-anchor="start" fill="#231f20" stroke="#231f20" stroke-width="0.2" dominant-baseline="central">5</text>
<line x1="673.30" y1="75.20" x2="674.60" y2="75.20" stroke="#333" stroke-width="0.4" />
<text x="676.60" y="75.70" font-size="6.5" text-anchor="start" fill="#231f20" stroke="#231f20" stroke-width="0.2" dominant-baseline="central">6</text>
<line x1="673.30" y1="61.15" x2="674.60" y2="61.15" stroke="#333" stroke-width="0.4" />
<text x="676.60" y="61.65" font-size="6.5" text-anchor="start" fill="#231f20" stroke="#231f20" stroke-width="0.2" dominant-baseline="central">7</text>
<line x1="673.30" y1="47.10" x2="674.60" y2="47.10" stroke="#333" stroke-width="0.4" />
<text x="676.60" y="47.60" font-size="6.5" text-anchor="start" fill="#231f20" stroke="#231f20" stroke-width="0.2" dominant-baseline="central">8</text>
<text x="671.60" y="30.10" font-size="6.5" text-anchor="middle" fill="#231f20" stroke="#231f20" stroke-width="0.2" dominant-baseline="central">pH</text>
<text x="359.60" y="175.20" font-size="10.8" text-anchor="start" fill="#000" stroke="#000" stroke-width="0.2" font-weight="bold">c</text>
<path d="M391.50,193.30 L391.50,186.00 Q391.50,183.50 394.00,183.50 L657.50,183.50 Q660.00,183.50 660.00,186.00 L660.00,193.30" fill="none" stroke="#8f8f8f" stroke-width="0.7"/>
<text x="526.10" y="177.50" font-size="6.5" text-anchor="middle" fill="#8a8a8a" stroke="#8a8a8a" stroke-width="0.2" dominant-baseline="central">Šimek et al., 2002</text>
<text x="431.95" y="197.80" font-size="6.5" text-anchor="middle" fill="#231f20" stroke="#231f20" stroke-width="0.2" dominant-baseline="central">Native pH = 4.8</text>
<line x1="392.60" y1="202.40" x2="392.60" y2="292.20" stroke="#5a5a5a" stroke-width="0.6" />
<line x1="392.60" y1="292.20" x2="470.30" y2="292.20" stroke="#5a5a5a" stroke-width="0.6" />
<line x1="392.60" y1="292.20" x2="394.60" y2="292.20" stroke="#5a5a5a" stroke-width="0.5" />
<text x="390.00" y="292.70" font-size="6.5" text-anchor="end" fill="#231f20" stroke="#231f20" stroke-width="0.2" dominant-baseline="central">0</text>
<line x1="392.60" y1="272.24" x2="394.60" y2="272.24" stroke="#5a5a5a" stroke-width="0.5" />
<text x="390.00" y="272.74" font-size="6.5" text-anchor="end" fill="#231f20" stroke="#231f20" stroke-width="0.2" dominant-baseline="central">1</text>
<line x1="392.60" y1="252.29" x2="394.60" y2="252.29" stroke="#5a5a5a" stroke-width="0.5" />
<text x="390.00" y="252.79" font-size="6.5" text-anchor="end" fill="#231f20" stroke="#231f20" stroke-width="0.2" dominant-baseline="central">2</text>
<line x1="392.60" y1="232.33" x2="394.60" y2="232.33" stroke="#5a5a5a" stroke-width="0.5" />
<text x="390.00" y="232.83" font-size="6.5" text-anchor="end" fill="#231f20" stroke="#231f20" stroke-width="0.2" dominant-baseline="central">3</text>
<line x1="392.60" y1="212.38" x2="394.60" y2="212.38" stroke="#5a5a5a" stroke-width="0.5" />
<text x="390.00" y="212.88" font-size="6.5" text-anchor="end" fill="#231f20" stroke="#231f20" stroke-width="0.2" dominant-baseline="central">4</text>
<line x1="392.60" y1="292.20" x2="392.60" y2="290.20" stroke="#5a5a5a" stroke-width="0.5" />
<text x="392.60" y="299.50" font-size="6.5" text-anchor="middle" fill="#231f20" stroke="#231f20" stroke-width="0.2" dominant-baseline="central">0</text>
<line x1="411.95" y1="292.20" x2="411.95" y2="290.20" stroke="#5a5a5a" stroke-width="0.5" />
<text x="411.95" y="299.50" font-size="6.5" text-anchor="middle" fill="#231f20" stroke="#231f20" stroke-width="0.2" dominant-baseline="central">0.1</text>
<line x1="431.30" y1="292.20" x2="431.30" y2="290.20" stroke="#5a5a5a" stroke-width="0.5" />
<text x="431.30" y="299.50" font-size="6.5" text-anchor="middle" fill="#231f20" stroke="#231f20" stroke-width="0.2" dominant-baseline="central">0.2</text>
<line x1="450.65" y1="292.20" x2="450.65" y2="290.20" stroke="#5a5a5a" stroke-width="0.5" />
<text x="450.65" y="299.50" font-size="6.5" text-anchor="middle" fill="#231f20" stroke="#231f20" stroke-width="0.2" dominant-baseline="central">0.3</text>
<line x1="470.00" y1="292.20" x2="470.00" y2="290.20" stroke="#5a5a5a" stroke-width="0.5" />
<text x="470.00" y="299.50" font-size="6.5" text-anchor="middle" fill="#231f20" stroke="#231f20" stroke-width="0.2" dominant-baseline="central">0.4</text>
<polyline points="409.05,254.28 411.95,239.32 412.92,217.37 430.33,260.27 435.17,261.27 454.52,263.26" fill="none" stroke="#4a4a4a" stroke-width="0.75" stroke-dasharray="3.4 2.6" stroke-linejoin="round" />
<polyline points="426.46,266.26 445.81,266.26 454.52,263.26" fill="none" stroke="#4a4a4a" stroke-width="0.75" stroke-dasharray="3.4 2.6" stroke-linejoin="round" />
<polygon points="409.05,251.76 411.45,256.08 406.65,256.08" fill="#228f8c" stroke="#333" stroke-width="0.35" stroke-linejoin="round" />
<polygon points="411.95,236.80 414.35,241.12 409.55,241.12" fill="#21928b" stroke="#333" stroke-width="0.35" stroke-linejoin="round" />
<polygon points="412.92,214.85 415.32,219.17 410.52,219.17" fill="#238c8c" stroke="#333" stroke-width="0.35" stroke-linejoin="round" />
<polygon points="430.33,257.75 432.73,262.07 427.93,262.07" fill="#3a548b" stroke="#333" stroke-width="0.35" stroke-linejoin="round" />
<polygon points="435.17,258.75 437.57,263.07 432.77,263.07" fill="#3d4d89" stroke="#333" stroke-width="0.35" stroke-linejoin="round" />
<polygon points="454.52,260.74 456.92,265.06 452.12,265.06" fill="#423e84" stroke="#333" stroke-width="0.35" stroke-linejoin="round" />
<polygon points="426.46,263.74 428.86,268.06 424.06,268.06" fill="#472978" stroke="#333" stroke-width="0.35" stroke-linejoin="round" />
<polygon points="445.81,263.74 448.21,268.06 443.41,268.06" fill="#462e7a" stroke="#333" stroke-width="0.35" stroke-linejoin="round" />
<text x="526.65" y="197.80" font-size="6.5" text-anchor="middle" fill="#231f20" stroke="#231f20" stroke-width="0.2" dominant-baseline="central">Native pH = 6.4</text>
<line x1="487.30" y1="202.40" x2="487.30" y2="292.20" stroke="#5a5a5a" stroke-width="0.6" />
<line x1="487.30" y1="292.20" x2="565.00" y2="292.20" stroke="#5a5a5a" stroke-width="0.6" />
<line x1="487.30" y1="292.20" x2="489.30" y2="292.20" stroke="#5a5a5a" stroke-width="0.5" />
<text x="484.70" y="292.70" font-size="6.5" text-anchor="end" fill="#231f20" stroke="#231f20" stroke-width="0.2" dominant-baseline="central">0</text>
<line x1="487.30" y1="262.27" x2="489.30" y2="262.27" stroke="#5a5a5a" stroke-width="0.5" />
<text x="484.70" y="262.77" font-size="6.5" text-anchor="end" fill="#231f20" stroke="#231f20" stroke-width="0.2" dominant-baseline="central">5</text>
<line x1="487.30" y1="232.33" x2="489.30" y2="232.33" stroke="#5a5a5a" stroke-width="0.5" />
<text x="484.70" y="232.83" font-size="6.5" text-anchor="end" fill="#231f20" stroke="#231f20" stroke-width="0.2" dominant-baseline="central">10</text>
<line x1="487.30" y1="202.40" x2="489.30" y2="202.40" stroke="#5a5a5a" stroke-width="0.5" />
<text x="484.70" y="202.90" font-size="6.5" text-anchor="end" fill="#231f20" stroke="#231f20" stroke-width="0.2" dominant-baseline="central">15</text>
<line x1="487.30" y1="292.20" x2="487.30" y2="290.20" stroke="#5a5a5a" stroke-width="0.5" />
<text x="487.30" y="299.50" font-size="6.5" text-anchor="middle" fill="#231f20" stroke="#231f20" stroke-width="0.2" dominant-baseline="central">0</text>
<line x1="518.05" y1="292.20" x2="518.05" y2="290.20" stroke="#5a5a5a" stroke-width="0.5" />
<text x="518.05" y="299.50" font-size="6.5" text-anchor="middle" fill="#231f20" stroke="#231f20" stroke-width="0.2" dominant-baseline="central">0.02</text>
<line x1="548.80" y1="292.20" x2="548.80" y2="290.20" stroke="#5a5a5a" stroke-width="0.5" />
<text x="548.80" y="299.50" font-size="6.5" text-anchor="middle" fill="#231f20" stroke="#231f20" stroke-width="0.2" dominant-baseline="central">0.04</text>
<polyline points="498.06,245.50 503.44,216.77 508.06,225.15 512.67,255.68 521.12,253.89 524.97,244.91 534.96,248.50 551.88,271.85 521.89,287.41 502.68,291.90" fill="none" stroke="#4a4a4a" stroke-width="0.75" stroke-dasharray="3.4 2.6" stroke-linejoin="round" />
<polygon points="498.06,242.98 500.46,247.30 495.66,247.30" fill="#3cb975" stroke="#333" stroke-width="0.35" stroke-linejoin="round" />
<polygon points="503.44,214.25 505.84,218.57 501.04,218.57" fill="#22a784" stroke="#333" stroke-width="0.35" stroke-linejoin="round" />
<polygon points="508.06,222.63 510.46,226.95 505.66,226.95" fill="#21958a" stroke="#333" stroke-width="0.35" stroke-linejoin="round" />
<polygon points="512.67,253.16 515.07,257.48 510.27,257.48" fill="#238c8c" stroke="#333" stroke-width="0.35" stroke-linejoin="round" />
<polygon points="521.12,251.37 523.52,255.69 518.73,255.69" fill="#25868d" stroke="#333" stroke-width="0.35" stroke-linejoin="round" />
<polygon points="524.97,242.39 527.37,246.71 522.57,246.71" fill="#297c8e" stroke="#333" stroke-width="0.35" stroke-linejoin="round" />
<polygon points="534.96,245.98 537.36,250.30 532.56,250.30" fill="#375b8c" stroke="#333" stroke-width="0.35" stroke-linejoin="round" />
<polygon points="551.88,269.33 554.27,273.65 549.48,273.65" fill="#3b518a" stroke="#333" stroke-width="0.35" stroke-linejoin="round" />
<polygon points="521.89,284.89 524.29,289.21 519.49,289.21" fill="#472978" stroke="#333" stroke-width="0.35" stroke-linejoin="round" />
<polygon points="502.68,289.38 505.07,293.70 500.28,293.70" fill="#471869" stroke="#333" stroke-width="0.35" stroke-linejoin="round" />
<text x="621.90" y="197.80" font-size="6.5" text-anchor="middle" fill="#231f20" stroke="#231f20" stroke-width="0.2" dominant-baseline="central">Native pH = 7.8</text>
<line x1="582.80" y1="202.40" x2="582.80" y2="292.20" stroke="#5a5a5a" stroke-width="0.6" />
<line x1="582.80" y1="292.20" x2="660.00" y2="292.20" stroke="#5a5a5a" stroke-width="0.6" />
<line x1="582.80" y1="292.20" x2="584.80" y2="292.20" stroke="#5a5a5a" stroke-width="0.5" />
<text x="580.20" y="292.70" font-size="6.5" text-anchor="end" fill="#231f20" stroke="#231f20" stroke-width="0.2" dominant-baseline="central">0</text>
<line x1="582.80" y1="274.24" x2="584.80" y2="274.24" stroke="#5a5a5a" stroke-width="0.5" />
<text x="580.20" y="274.74" font-size="6.5" text-anchor="end" fill="#231f20" stroke="#231f20" stroke-width="0.2" dominant-baseline="central">1</text>
<line x1="582.80" y1="256.28" x2="584.80" y2="256.28" stroke="#5a5a5a" stroke-width="0.5" />
<text x="580.20" y="256.78" font-size="6.5" text-anchor="end" fill="#231f20" stroke="#231f20" stroke-width="0.2" dominant-baseline="central">2</text>
<line x1="582.80" y1="238.32" x2="584.80" y2="238.32" stroke="#5a5a5a" stroke-width="0.5" />
<text x="580.20" y="238.82" font-size="6.5" text-anchor="end" fill="#231f20" stroke="#231f20" stroke-width="0.2" dominant-baseline="central">3</text>
<line x1="582.80" y1="220.36" x2="584.80" y2="220.36" stroke="#5a5a5a" stroke-width="0.5" />
<text x="580.20" y="220.86" font-size="6.5" text-anchor="end" fill="#231f20" stroke="#231f20" stroke-width="0.2" dominant-baseline="central">4</text>
<line x1="582.80" y1="202.40" x2="584.80" y2="202.40" stroke="#5a5a5a" stroke-width="0.5" />
<text x="580.20" y="202.90" font-size="6.5" text-anchor="end" fill="#231f20" stroke="#231f20" stroke-width="0.2" dominant-baseline="central">5</text>
<line x1="582.80" y1="292.20" x2="582.80" y2="290.20" stroke="#5a5a5a" stroke-width="0.5" />
<text x="582.80" y="299.50" font-size="6.5" text-anchor="middle" fill="#231f20" stroke="#231f20" stroke-width="0.2" dominant-baseline="central">0</text>
<line x1="602.10" y1="292.20" x2="602.10" y2="290.20" stroke="#5a5a5a" stroke-width="0.5" />
<text x="602.10" y="299.50" font-size="6.5" text-anchor="middle" fill="#231f20" stroke="#231f20" stroke-width="0.2" dominant-baseline="central">0.1</text>
<line x1="621.40" y1="292.20" x2="621.40" y2="290.20" stroke="#5a5a5a" stroke-width="0.5" />
<text x="621.40" y="299.50" font-size="6.5" text-anchor="middle" fill="#231f20" stroke="#231f20" stroke-width="0.2" dominant-baseline="central">0.2</text>
<line x1="640.70" y1="292.20" x2="640.70" y2="290.20" stroke="#5a5a5a" stroke-width="0.5" />
<text x="640.70" y="299.50" font-size="6.5" text-anchor="middle" fill="#231f20" stroke="#231f20" stroke-width="0.2" dominant-baseline="central">0.3</text>
<line x1="660.00" y1="292.20" x2="660.00" y2="290.20" stroke="#5a5a5a" stroke-width="0.5" />
<text x="660.00" y="299.50" font-size="6.5" text-anchor="middle" fill="#231f20" stroke="#231f20" stroke-width="0.2" dominant-baseline="central">0.4</text>
<polyline points="583.76,283.22 587.62,261.67 603.06,236.52 636.84,241.01 644.56,224.85 639.73,246.40 630.08,251.79 607.89,277.83 590.52,284.12 583.76,283.22" fill="none" stroke="#4a4a4a" stroke-width="0.75" stroke-dasharray="3.4 2.6" stroke-linejoin="round" />
<polygon points="583.76,280.70 586.16,285.02 581.37,285.02" fill="#dce326" stroke="#333" stroke-width="0.35" stroke-linejoin="round" />
<polygon points="587.62,259.15 590.02,263.47 585.23,263.47" fill="#68cb5b" stroke="#333" stroke-width="0.35" stroke-linejoin="round" />
<polygon points="603.06,234.00 605.46,238.32 600.66,238.32" fill="#40bc72" stroke="#333" stroke-width="0.35" stroke-linejoin="round" />
<polygon points="636.84,238.49 639.24,242.81 634.44,242.81" fill="#22a784" stroke="#333" stroke-width="0.35" stroke-linejoin="round" />
<polygon points="644.56,222.33 646.96,226.65 642.16,226.65" fill="#238c8c" stroke="#333" stroke-width="0.35" stroke-linejoin="round" />
<polygon points="639.73,243.88 642.13,248.20 637.33,248.20" fill="#2d728e" stroke="#333" stroke-width="0.35" stroke-linejoin="round" />
<polygon points="630.08,249.27 632.48,253.59 627.68,253.59" fill="#375b8c" stroke="#333" stroke-width="0.35" stroke-linejoin="round" />
<polygon points="607.89,275.31 610.29,279.63 605.49,279.63" fill="#404687" stroke="#333" stroke-width="0.35" stroke-linejoin="round" />
<polygon points="590.52,281.60 592.92,285.92 588.12,285.92" fill="#482576" stroke="#333" stroke-width="0.35" stroke-linejoin="round" />
<text x="367.80" y="248.00" font-size="6.5" text-anchor="middle" fill="#231f20" stroke="#231f20" stroke-width="0.2" dominant-baseline="central" transform="rotate(-90 367.80 248.00)">Denitrification rate change,</text>
<text x="376.80" y="248.00" font-size="6.5" text-anchor="middle" fill="#231f20" stroke="#231f20" stroke-width="0.2" dominant-baseline="central" transform="rotate(-90 376.80 248.00)">DP − DEA (μgN g<tspan dy="-2" font-size="4.3">−1</tspan><tspan dy="2"> h</tspan><tspan dy="-2" font-size="4.3">−1</tspan><tspan dy="2">)</tspan></text>
<text x="526.50" y="313.10" font-size="6.5" text-anchor="middle" fill="#231f20" stroke="#231f20" stroke-width="0.2" dominant-baseline="central">Early denitrification rate, DEA (μgN g<tspan dy="-2" font-size="4.3">−1</tspan><tspan dy="2"> h</tspan><tspan dy="-2" font-size="4.3">−1</tspan><tspan dy="2">)</tspan></text>
<defs><linearGradient id="gc" x1="0" y1="0" x2="0" y2="1"><stop offset="0.00" stop-color="#fde725"/><stop offset="0.10" stop-color="#bddf26"/><stop offset="0.20" stop-color="#7ad151"/><stop offset="0.30" stop-color="#44bf70"/><stop offset="0.40" stop-color="#22a884"/><stop offset="0.50" stop-color="#21918c"/><stop offset="0.60" stop-color="#2a788e"/><stop offset="0.70" stop-color="#355f8d"/><stop offset="0.80" stop-color="#414487"/><stop offset="0.90" stop-color="#482475"/><stop offset="1.00" stop-color="#440154"/></linearGradient></defs>
<rect x="669.50" y="202.40" width="6.10" height="89.80" fill="url(#gc)" stroke="#333" stroke-width="0.4" />
<line x1="674.30" y1="292.20" x2="675.60" y2="292.20" stroke="#333" stroke-width="0.4" />
<text x="677.60" y="292.70" font-size="6.5" text-anchor="start" fill="#231f20" stroke="#231f20" stroke-width="0.2" dominant-baseline="central">4</text>
<line x1="674.30" y1="280.55" x2="675.60" y2="280.55" stroke="#333" stroke-width="0.4" />
<text x="677.60" y="281.05" font-size="6.5" text-anchor="start" fill="#231f20" stroke="#231f20" stroke-width="0.2" dominant-baseline="central">5</text>
<line x1="674.30" y1="268.90" x2="675.60" y2="268.90" stroke="#333" stroke-width="0.4" />
<text x="677.60" y="269.40" font-size="6.5" text-anchor="start" fill="#231f20" stroke="#231f20" stroke-width="0.2" dominant-baseline="central">6</text>
<line x1="674.30" y1="257.25" x2="675.60" y2="257.25" stroke="#333" stroke-width="0.4" />
<text x="677.60" y="257.75" font-size="6.5" text-anchor="start" fill="#231f20" stroke="#231f20" stroke-width="0.2" dominant-baseline="central">7</text>
<line x1="674.30" y1="245.60" x2="675.60" y2="245.60" stroke="#333" stroke-width="0.4" />
<text x="677.60" y="246.10" font-size="6.5" text-anchor="start" fill="#231f20" stroke="#231f20" stroke-width="0.2" dominant-baseline="central">8</text>
<line x1="674.30" y1="233.95" x2="675.60" y2="233.95" stroke="#333" stroke-width="0.4" />
<text x="677.60" y="234.45" font-size="6.5" text-anchor="start" fill="#231f20" stroke="#231f20" stroke-width="0.2" dominant-baseline="central">9</text>
<line x1="674.30" y1="222.30" x2="675.60" y2="222.30" stroke="#333" stroke-width="0.4" />
<text x="677.60" y="222.80" font-size="6.5" text-anchor="start" fill="#231f20" stroke="#231f20" stroke-width="0.2" dominant-baseline="central">10</text>
<line x1="674.30" y1="210.65" x2="675.60" y2="210.65" stroke="#333" stroke-width="0.4" />
<text x="677.60" y="211.15" font-size="6.5" text-anchor="start" fill="#231f20" stroke="#231f20" stroke-width="0.2" dominant-baseline="central">11</text>
<text x="672.50" y="195.90" font-size="6.5" text-anchor="middle" fill="#231f20" stroke="#231f20" stroke-width="0.2" dominant-baseline="central">pH</text>
<text x="0.00" y="327.80" font-size="10.8" text-anchor="start" fill="#000" stroke="#000" stroke-width="0.2" font-weight="bold">d</text>
<path d="M28.10,344.40 L28.10,336.20 Q28.10,333.70 30.60,333.70 L315.00,333.70 Q317.50,333.70 317.50,336.20 L317.50,344.40" fill="none" stroke="#8f8f8f" stroke-width="0.7"/>
<text x="172.50" y="328.60" font-size="6.5" text-anchor="middle" fill="#8a8a8a" stroke="#8a8a8a" stroke-width="0.2" dominant-baseline="central">This study</text>
<text x="96.60" y="352.80" font-size="6.5" text-anchor="middle" fill="#231f20" stroke="#231f20" stroke-width="0.2" dominant-baseline="central">Pseudomonadota and Bacteroidota</text>
<line x1="27.60" y1="359.00" x2="27.60" y2="463.20" stroke="#5a5a5a" stroke-width="0.6" />
<line x1="27.60" y1="463.20" x2="167.00" y2="463.20" stroke="#5a5a5a" stroke-width="0.6" />
<line x1="27.60" y1="411.60" x2="29.60" y2="411.60" stroke="#5a5a5a" stroke-width="0.5" />
<text x="25.00" y="412.10" font-size="6.5" text-anchor="end" fill="#231f20" stroke="#231f20" stroke-width="0.2" dominant-baseline="central">1</text>
<line x1="27.60" y1="395.40" x2="29.60" y2="395.40" stroke="#5a5a5a" stroke-width="0.5" />
<text x="25.00" y="395.90" font-size="6.5" text-anchor="end" fill="#231f20" stroke="#231f20" stroke-width="0.2" dominant-baseline="central">2</text>
<line x1="27.60" y1="374.00" x2="29.60" y2="374.00" stroke="#5a5a5a" stroke-width="0.5" />
<text x="25.00" y="374.50" font-size="6.5" text-anchor="end" fill="#231f20" stroke="#231f20" stroke-width="0.2" dominant-baseline="central">5</text>
<line x1="37.60" y1="463.20" x2="37.60" y2="461.20" stroke="#5a5a5a" stroke-width="0.5" />
<text x="37.60" y="470.50" font-size="6.5" text-anchor="middle" fill="#231f20" stroke="#231f20" stroke-width="0.2" dominant-baseline="central">3</text>
<line x1="58.50" y1="463.20" x2="58.50" y2="461.20" stroke="#5a5a5a" stroke-width="0.5" />
<text x="58.50" y="470.50" font-size="6.5" text-anchor="middle" fill="#231f20" stroke="#231f20" stroke-width="0.2" dominant-baseline="central">4</text>
<line x1="79.40" y1="463.20" x2="79.40" y2="461.20" stroke="#5a5a5a" stroke-width="0.5" />
<text x="79.40" y="470.50" font-size="6.5" text-anchor="middle" fill="#231f20" stroke="#231f20" stroke-width="0.2" dominant-baseline="central">5</text>
<line x1="100.30" y1="463.20" x2="100.30" y2="461.20" stroke="#5a5a5a" stroke-width="0.5" />
<text x="100.30" y="470.50" font-size="6.5" text-anchor="middle" fill="#231f20" stroke="#231f20" stroke-width="0.2" dominant-baseline="central">6</text>
<line x1="121.20" y1="463.20" x2="121.20" y2="461.20" stroke="#5a5a5a" stroke-width="0.5" />
<text x="121.20" y="470.50" font-size="6.5" text-anchor="middle" fill="#231f20" stroke="#231f20" stroke-width="0.2" dominant-baseline="central">7</text>
<line x1="142.10" y1="463.20" x2="142.10" y2="461.20" stroke="#5a5a5a" stroke-width="0.5" />
<text x="142.10" y="470.50" font-size="6.5" text-anchor="middle" fill="#231f20" stroke="#231f20" stroke-width="0.2" dominant-baseline="central">8</text>
<line x1="163.00" y1="463.20" x2="163.00" y2="461.20" stroke="#5a5a5a" stroke-width="0.5" />
<text x="163.00" y="470.50" font-size="6.5" text-anchor="middle" fill="#231f20" stroke="#231f20" stroke-width="0.2" dominant-baseline="central">9</text>
<polyline points="39.69,419.28 60.38,362.58 75.85,388.92 122.45,396.73 132.07,392.65 137.92,396.00 143.15,389.18 146.70,380.10 154.64,411.60" fill="none" stroke="#b49c55" stroke-width="0.85" stroke-linejoin="round" />
<circle cx="39.69" cy="419.28" r="1.75" fill="#b49c55" stroke="none" stroke-width="0.5"/>
<circle cx="60.38" cy="362.58" r="1.75" fill="#b49c55" stroke="none" stroke-width="0.5"/>
<circle cx="75.85" cy="388.92" r="1.75" fill="#b49c55" stroke="none" stroke-width="0.5"/>
<circle cx="122.45" cy="396.73" r="1.75" fill="#b49c55" stroke="none" stroke-width="0.5"/>
<circle cx="132.07" cy="392.65" r="1.75" fill="#b49c55" stroke="none" stroke-width="0.5"/>
<circle cx="137.92" cy="396.00" r="1.75" fill="#b49c55" stroke="none" stroke-width="0.5"/>
<circle cx="143.15" cy="389.18" r="1.75" fill="#b49c55" stroke="none" stroke-width="0.5"/>
<circle cx="146.70" cy="380.10" r="1.75" fill="#b49c55" stroke="none" stroke-width="0.5"/>
<circle cx="154.64" cy="411.60" r="1.75" fill="#b49c55" stroke="none" stroke-width="0.5"/>
<polyline points="39.69,442.19 60.80,366.81 67.91,393.18 75.85,402.76 122.45,400.62 132.49,424.33 137.92,402.13 143.56,382.80 147.12,376.51 154.64,416.81" fill="none" stroke="#b49c55" stroke-width="0.85" stroke-linejoin="round" />
<circle cx="39.69" cy="442.19" r="1.75" fill="#b49c55" stroke="none" stroke-width="0.5"/>
<circle cx="60.80" cy="366.81" r="1.75" fill="#b49c55" stroke="none" stroke-width="0.5"/>
<circle cx="67.91" cy="393.18" r="1.75" fill="#b49c55" stroke="none" stroke-width="0.5"/>
<circle cx="75.85" cy="402.76" r="1.75" fill="#b49c55" stroke="none" stroke-width="0.5"/>
<circle cx="122.45" cy="400.62" r="1.75" fill="#b49c55" stroke="none" stroke-width="0.5"/>
<circle cx="132.49" cy="424.33" r="1.75" fill="#b49c55" stroke="none" stroke-width="0.5"/>
<circle cx="137.92" cy="402.13" r="1.75" fill="#b49c55" stroke="none" stroke-width="0.5"/>
<circle cx="143.56" cy="382.80" r="1.75" fill="#b49c55" stroke="none" stroke-width="0.5"/>
<circle cx="147.12" cy="376.51" r="1.75" fill="#b49c55" stroke="none" stroke-width="0.5"/>
<circle cx="154.64" cy="416.81" r="1.75" fill="#b49c55" stroke="none" stroke-width="0.5"/>
<polyline points="39.69,410.68 59.13,377.30 75.85,407.34 122.45,403.74 127.47,407.34 137.08,401.97 143.15,393.18 146.28,387.54 154.64,414.06" fill="none" stroke="#b49c55" stroke-width="0.85" stroke-linejoin="round" />
<circle cx="39.69" cy="410.68" r="1.75" fill="#b49c55" stroke="none" stroke-width="0.5"/>
<circle cx="59.13" cy="377.30" r="1.75" fill="#b49c55" stroke="none" stroke-width="0.5"/>
<circle cx="75.85" cy="407.34" r="1.75" fill="#b49c55" stroke="none" stroke-width="0.5"/>
<circle cx="122.45" cy="403.74" r="1.75" fill="#b49c55" stroke="none" stroke-width="0.5"/>
<circle cx="127.47" cy="407.34" r="1.75" fill="#b49c55" stroke="none" stroke-width="0.5"/>
<circle cx="137.08" cy="401.97" r="1.75" fill="#b49c55" stroke="none" stroke-width="0.5"/>
<circle cx="143.15" cy="393.18" r="1.75" fill="#b49c55" stroke="none" stroke-width="0.5"/>
<circle cx="146.28" cy="387.54" r="1.75" fill="#b49c55" stroke="none" stroke-width="0.5"/>
<circle cx="154.64" cy="414.06" r="1.75" fill="#b49c55" stroke="none" stroke-width="0.5"/>
<polyline points="35.30,385.16 45.33,418.01 54.11,410.02 68.32,375.44 86.92,410.02 125.38,405.47 133.74,411.60 141.68,398.00 145.86,394.04 154.64,420.27" fill="none" stroke="#a27b27" stroke-width="0.85" stroke-linejoin="round" />
<circle cx="35.30" cy="385.16" r="1.75" fill="#a27b27" stroke="none" stroke-width="0.5"/>
<circle cx="45.33" cy="418.01" r="1.75" fill="#a27b27" stroke="none" stroke-width="0.5"/>
<circle cx="54.11" cy="410.02" r="1.75" fill="#a27b27" stroke="none" stroke-width="0.5"/>
<circle cx="68.32" cy="375.44" r="1.75" fill="#a27b27" stroke="none" stroke-width="0.5"/>
<circle cx="86.92" cy="410.02" r="1.75" fill="#a27b27" stroke="none" stroke-width="0.5"/>
<circle cx="125.38" cy="405.47" r="1.75" fill="#a27b27" stroke="none" stroke-width="0.5"/>
<circle cx="133.74" cy="411.60" r="1.75" fill="#a27b27" stroke="none" stroke-width="0.5"/>
<circle cx="141.68" cy="398.00" r="1.75" fill="#a27b27" stroke="none" stroke-width="0.5"/>
<circle cx="145.86" cy="394.04" r="1.75" fill="#a27b27" stroke="none" stroke-width="0.5"/>
<circle cx="154.64" cy="420.27" r="1.75" fill="#a27b27" stroke="none" stroke-width="0.5"/>
<polyline points="35.30,402.44 45.33,409.16 54.11,410.02 62.68,390.19 86.92,415.12 125.38,407.34 133.74,409.37 141.68,402.13 145.86,385.93 154.64,424.73" fill="none" stroke="#a27b27" stroke-width="0.85" stroke-linejoin="round" />
<circle cx="35.30" cy="402.44" r="1.75" fill="#a27b27" stroke="none" stroke-width="0.5"/>
<circle cx="45.33" cy="409.16" r="1.75" fill="#a27b27" stroke="none" stroke-width="0.5"/>
<circle cx="54.11" cy="410.02" r="1.75" fill="#a27b27" stroke="none" stroke-width="0.5"/>
<circle cx="62.68" cy="390.19" r="1.75" fill="#a27b27" stroke="none" stroke-width="0.5"/>
<circle cx="86.92" cy="415.12" r="1.75" fill="#a27b27" stroke="none" stroke-width="0.5"/>
<circle cx="125.38" cy="407.34" r="1.75" fill="#a27b27" stroke="none" stroke-width="0.5"/>
<circle cx="133.74" cy="409.37" r="1.75" fill="#a27b27" stroke="none" stroke-width="0.5"/>
<circle cx="141.68" cy="402.13" r="1.75" fill="#a27b27" stroke="none" stroke-width="0.5"/>
<circle cx="145.86" cy="385.93" r="1.75" fill="#a27b27" stroke="none" stroke-width="0.5"/>
<circle cx="154.64" cy="424.73" r="1.75" fill="#a27b27" stroke="none" stroke-width="0.5"/>
<polyline points="35.30,409.37 45.33,437.50 54.11,411.60 68.32,385.93 86.92,405.47 125.38,409.37 133.74,414.06 141.68,403.74 145.86,390.19 154.64,416.81" fill="none" stroke="#a27b27" stroke-width="0.85" stroke-linejoin="round" />
<circle cx="35.30" cy="409.37" r="1.75" fill="#a27b27" stroke="none" stroke-width="0.5"/>
<circle cx="45.33" cy="437.50" r="1.75" fill="#a27b27" stroke="none" stroke-width="0.5"/>
<circle cx="54.11" cy="411.60" r="1.75" fill="#a27b27" stroke="none" stroke-width="0.5"/>
<circle cx="68.32" cy="385.93" r="1.75" fill="#a27b27" stroke="none" stroke-width="0.5"/>
<circle cx="86.92" cy="405.47" r="1.75" fill="#a27b27" stroke="none" stroke-width="0.5"/>
<circle cx="125.38" cy="409.37" r="1.75" fill="#a27b27" stroke="none" stroke-width="0.5"/>
<circle cx="133.74" cy="414.06" r="1.75" fill="#a27b27" stroke="none" stroke-width="0.5"/>
<circle cx="141.68" cy="403.74" r="1.75" fill="#a27b27" stroke="none" stroke-width="0.5"/>
<circle cx="145.86" cy="390.19" r="1.75" fill="#a27b27" stroke="none" stroke-width="0.5"/>
<circle cx="154.64" cy="416.81" r="1.75" fill="#a27b27" stroke="none" stroke-width="0.5"/>
<polyline points="39.69,384.64 61.22,398.66 70.20,389.18 77.94,402.76 126.84,400.04 132.69,404.59 140.22,414.59 150.25,389.18 158.40,407.15" fill="none" stroke="#c9454d" stroke-width="0.85" stroke-linejoin="round" />
<circle cx="39.69" cy="384.64" r="1.75" fill="#c9454d" stroke="none" stroke-width="0.5"/>
<circle cx="61.22" cy="398.66" r="1.75" fill="#c9454d" stroke="none" stroke-width="0.5"/>
<circle cx="70.20" cy="389.18" r="1.75" fill="#c9454d" stroke="none" stroke-width="0.5"/>
<circle cx="77.94" cy="402.76" r="1.75" fill="#c9454d" stroke="none" stroke-width="0.5"/>
<circle cx="126.84" cy="400.04" r="1.75" fill="#c9454d" stroke="none" stroke-width="0.5"/>
<circle cx="132.69" cy="404.59" r="1.75" fill="#c9454d" stroke="none" stroke-width="0.5"/>
<circle cx="140.22" cy="414.59" r="1.75" fill="#c9454d" stroke="none" stroke-width="0.5"/>
<circle cx="150.25" cy="389.18" r="1.75" fill="#c9454d" stroke="none" stroke-width="0.5"/>
<circle cx="158.40" cy="407.15" r="1.75" fill="#c9454d" stroke="none" stroke-width="0.5"/>
<polyline points="39.69,399.48 61.22,429.24 70.20,431.87 77.94,424.33 126.84,403.74 132.69,407.34 140.22,409.37 146.28,395.40 158.40,415.40" fill="none" stroke="#c9454d" stroke-width="0.85" stroke-linejoin="round" />
<circle cx="39.69" cy="399.48" r="1.75" fill="#c9454d" stroke="none" stroke-width="0.5"/>
<circle cx="61.22" cy="429.24" r="1.75" fill="#c9454d" stroke="none" stroke-width="0.5"/>
<circle cx="70.20" cy="431.87" r="1.75" fill="#c9454d" stroke="none" stroke-width="0.5"/>
<circle cx="77.94" cy="424.33" r="1.75" fill="#c9454d" stroke="none" stroke-width="0.5"/>
<circle cx="126.84" cy="403.74" r="1.75" fill="#c9454d" stroke="none" stroke-width="0.5"/>
<circle cx="132.69" cy="407.34" r="1.75" fill="#c9454d" stroke="none" stroke-width="0.5"/>
<circle cx="140.22" cy="409.37" r="1.75" fill="#c9454d" stroke="none" stroke-width="0.5"/>
<circle cx="146.28" cy="395.40" r="1.75" fill="#c9454d" stroke="none" stroke-width="0.5"/>
<circle cx="158.40" cy="415.40" r="1.75" fill="#c9454d" stroke="none" stroke-width="0.5"/>
<polyline points="39.69,410.68 61.22,411.60 70.20,406.20 77.94,417.11 126.84,402.13 132.69,402.13 140.22,405.47 150.25,396.60 158.40,411.60" fill="none" stroke="#c9454d" stroke-width="0.85" stroke-linejoin="round" />
<circle cx="39.69" cy="410.68" r="1.75" fill="#c9454d" stroke="none" stroke-width="0.5"/>
<circle cx="61.22" cy="411.60" r="1.75" fill="#c9454d" stroke="none" stroke-width="0.5"/>
<circle cx="70.20" cy="406.20" r="1.75" fill="#c9454d" stroke="none" stroke-width="0.5"/>
<circle cx="77.94" cy="417.11" r="1.75" fill="#c9454d" stroke="none" stroke-width="0.5"/>
<circle cx="126.84" cy="402.13" r="1.75" fill="#c9454d" stroke="none" stroke-width="0.5"/>
<circle cx="132.69" cy="402.13" r="1.75" fill="#c9454d" stroke="none" stroke-width="0.5"/>
<circle cx="140.22" cy="405.47" r="1.75" fill="#c9454d" stroke="none" stroke-width="0.5"/>
<circle cx="150.25" cy="396.60" r="1.75" fill="#c9454d" stroke="none" stroke-width="0.5"/>
<circle cx="158.40" cy="411.60" r="1.75" fill="#c9454d" stroke="none" stroke-width="0.5"/>
<polyline points="36.97,391.64 48.05,397.10 55.78,379.21 67.07,393.18 121.20,399.20 129.14,402.92 136.67,450.40 140.22,440.04 145.65,422.03 154.64,415.40" fill="none" stroke="#7b2b22" stroke-width="0.85" stroke-linejoin="round" />
<circle cx="36.97" cy="391.64" r="1.75" fill="#7b2b22" stroke="none" stroke-width="0.5"/>
<circle cx="48.05" cy="397.10" r="1.75" fill="#7b2b22" stroke="none" stroke-width="0.5"/>
<circle cx="55.78" cy="379.21" r="1.75" fill="#7b2b22" stroke="none" stroke-width="0.5"/>
<circle cx="67.07" cy="393.18" r="1.75" fill="#7b2b22" stroke="none" stroke-width="0.5"/>
<circle cx="121.20" cy="399.20" r="1.75" fill="#7b2b22" stroke="none" stroke-width="0.5"/>
<circle cx="129.14" cy="402.92" r="1.75" fill="#7b2b22" stroke="none" stroke-width="0.5"/>
<circle cx="136.67" cy="450.40" r="1.75" fill="#7b2b22" stroke="none" stroke-width="0.5"/>
<circle cx="140.22" cy="440.04" r="1.75" fill="#7b2b22" stroke="none" stroke-width="0.5"/>
<circle cx="145.65" cy="422.03" r="1.75" fill="#7b2b22" stroke="none" stroke-width="0.5"/>
<circle cx="154.64" cy="415.40" r="1.75" fill="#7b2b22" stroke="none" stroke-width="0.5"/>
<polyline points="36.97,395.64 48.05,421.67 55.78,425.15 67.07,416.24 121.20,405.47 129.14,421.67 136.67,455.93 140.22,458.04 145.65,444.94 154.64,438.96" fill="none" stroke="#7b2b22" stroke-width="0.85" stroke-linejoin="round" />
<circle cx="36.97" cy="395.64" r="1.75" fill="#7b2b22" stroke="none" stroke-width="0.5"/>
<circle cx="48.05" cy="421.67" r="1.75" fill="#7b2b22" stroke="none" stroke-width="0.5"/>
<circle cx="55.78" cy="425.15" r="1.75" fill="#7b2b22" stroke="none" stroke-width="0.5"/>
<circle cx="67.07" cy="416.24" r="1.75" fill="#7b2b22" stroke="none" stroke-width="0.5"/>
<circle cx="121.20" cy="405.47" r="1.75" fill="#7b2b22" stroke="none" stroke-width="0.5"/>
<circle cx="129.14" cy="421.67" r="1.75" fill="#7b2b22" stroke="none" stroke-width="0.5"/>
<circle cx="136.67" cy="455.93" r="1.75" fill="#7b2b22" stroke="none" stroke-width="0.5"/>
<circle cx="140.22" cy="458.04" r="1.75" fill="#7b2b22" stroke="none" stroke-width="0.5"/>
<circle cx="145.65" cy="444.94" r="1.75" fill="#7b2b22" stroke="none" stroke-width="0.5"/>
<circle cx="154.64" cy="438.96" r="1.75" fill="#7b2b22" stroke="none" stroke-width="0.5"/>
<polyline points="36.97,414.32 48.05,433.01 55.78,400.62 67.07,409.16 121.20,402.13 129.14,407.34 136.67,414.06 140.22,402.13 145.65,397.87 154.64,403.74" fill="none" stroke="#7b2b22" stroke-width="0.85" stroke-linejoin="round" />
<circle cx="36.97" cy="414.32" r="1.75" fill="#7b2b22" stroke="none" stroke-width="0.5"/>
<circle cx="48.05" cy="433.01" r="1.75" fill="#7b2b22" stroke="none" stroke-width="0.5"/>
<circle cx="55.78" cy="400.62" r="1.75" fill="#7b2b22" stroke="none" stroke-width="0.5"/>
<circle cx="67.07" cy="409.16" r="1.75" fill="#7b2b22" stroke="none" stroke-width="0.5"/>
<circle cx="121.20" cy="402.13" r="1.75" fill="#7b2b22" stroke="none" stroke-width="0.5"/>
<circle cx="129.14" cy="407.34" r="1.75" fill="#7b2b22" stroke="none" stroke-width="0.5"/>
<circle cx="136.67" cy="414.06" r="1.75" fill="#7b2b22" stroke="none" stroke-width="0.5"/>
<circle cx="140.22" cy="402.13" r="1.75" fill="#7b2b22" stroke="none" stroke-width="0.5"/>
<circle cx="145.65" cy="397.87" r="1.75" fill="#7b2b22" stroke="none" stroke-width="0.5"/>
<circle cx="154.64" cy="403.74" r="1.75" fill="#7b2b22" stroke="none" stroke-width="0.5"/>
<text x="96.60" y="482.10" font-size="6.5" text-anchor="middle" fill="#231f20" stroke="#231f20" stroke-width="0.2" dominant-baseline="central">Perturbed pH</text>
<text x="248.80" y="352.80" font-size="6.5" text-anchor="middle" fill="#231f20" stroke="#231f20" stroke-width="0.2" dominant-baseline="central">Bacillota</text>
<line x1="179.80" y1="358.40" x2="179.80" y2="462.70" stroke="#5a5a5a" stroke-width="0.6" />
<line x1="179.80" y1="462.70" x2="317.00" y2="462.70" stroke="#5a5a5a" stroke-width="0.6" />
<line x1="179.80" y1="425.40" x2="181.80" y2="425.40" stroke="#5a5a5a" stroke-width="0.5" />
<text x="177.20" y="425.90" font-size="6.5" text-anchor="end" fill="#231f20" stroke="#231f20" stroke-width="0.2" dominant-baseline="central">1</text>
<line x1="179.80" y1="411.55" x2="181.80" y2="411.55" stroke="#5a5a5a" stroke-width="0.5" />
<text x="177.20" y="412.05" font-size="6.5" text-anchor="end" fill="#231f20" stroke="#231f20" stroke-width="0.2" dominant-baseline="central">2</text>
<line x1="179.80" y1="393.25" x2="181.80" y2="393.25" stroke="#5a5a5a" stroke-width="0.5" />
<text x="177.20" y="393.75" font-size="6.5" text-anchor="end" fill="#231f20" stroke="#231f20" stroke-width="0.2" dominant-baseline="central">5</text>
<line x1="179.80" y1="379.40" x2="181.80" y2="379.40" stroke="#5a5a5a" stroke-width="0.5" />
<text x="177.20" y="379.90" font-size="6.5" text-anchor="end" fill="#231f20" stroke="#231f20" stroke-width="0.2" dominant-baseline="central">10</text>
<line x1="189.80" y1="462.70" x2="189.80" y2="460.70" stroke="#5a5a5a" stroke-width="0.5" />
<text x="189.80" y="470.00" font-size="6.5" text-anchor="middle" fill="#231f20" stroke="#231f20" stroke-width="0.2" dominant-baseline="central">3</text>
<line x1="210.88" y1="462.70" x2="210.88" y2="460.70" stroke="#5a5a5a" stroke-width="0.5" />
<text x="210.88" y="470.00" font-size="6.5" text-anchor="middle" fill="#231f20" stroke="#231f20" stroke-width="0.2" dominant-baseline="central">4</text>
<line x1="231.96" y1="462.70" x2="231.96" y2="460.70" stroke="#5a5a5a" stroke-width="0.5" />
<text x="231.96" y="470.00" font-size="6.5" text-anchor="middle" fill="#231f20" stroke="#231f20" stroke-width="0.2" dominant-baseline="central">5</text>
<line x1="253.04" y1="462.70" x2="253.04" y2="460.70" stroke="#5a5a5a" stroke-width="0.5" />
<text x="253.04" y="470.00" font-size="6.5" text-anchor="middle" fill="#231f20" stroke="#231f20" stroke-width="0.2" dominant-baseline="central">6</text>
<line x1="274.12" y1="462.70" x2="274.12" y2="460.70" stroke="#5a5a5a" stroke-width="0.5" />
<text x="274.12" y="470.00" font-size="6.5" text-anchor="middle" fill="#231f20" stroke="#231f20" stroke-width="0.2" dominant-baseline="central">7</text>
<line x1="295.20" y1="462.70" x2="295.20" y2="460.70" stroke="#5a5a5a" stroke-width="0.5" />
<text x="295.20" y="470.00" font-size="6.5" text-anchor="middle" fill="#231f20" stroke="#231f20" stroke-width="0.2" dominant-baseline="central">8</text>
<line x1="316.28" y1="462.70" x2="316.28" y2="460.70" stroke="#5a5a5a" stroke-width="0.5" />
<text x="316.28" y="470.00" font-size="6.5" text-anchor="middle" fill="#231f20" stroke="#231f20" stroke-width="0.2" dominant-baseline="central">9</text>
<polyline points="188.75,429.86 200.34,432.53 210.88,412.58 229.85,409.65 264.63,416.01 274.96,412.90 284.66,416.01 290.98,420.16 299.42,417.30 306.79,409.65" fill="none" stroke="#b49c55" stroke-width="0.85" stroke-linejoin="round" />
<circle cx="188.75" cy="429.86" r="1.75" fill="#b49c55" stroke="none" stroke-width="0.5"/>
<circle cx="200.34" cy="432.53" r="1.75" fill="#b49c55" stroke="none" stroke-width="0.5"/>
<circle cx="210.88" cy="412.58" r="1.75" fill="#b49c55" stroke="none" stroke-width="0.5"/>
<circle cx="229.85" cy="409.65" r="1.75" fill="#b49c55" stroke="none" stroke-width="0.5"/>
<circle cx="264.63" cy="416.01" r="1.75" fill="#b49c55" stroke="none" stroke-width="0.5"/>
<circle cx="274.96" cy="412.90" r="1.75" fill="#b49c55" stroke="none" stroke-width="0.5"/>
<circle cx="284.66" cy="416.01" r="1.75" fill="#b49c55" stroke="none" stroke-width="0.5"/>
<circle cx="290.98" cy="420.16" r="1.75" fill="#b49c55" stroke="none" stroke-width="0.5"/>
<circle cx="299.42" cy="417.30" r="1.75" fill="#b49c55" stroke="none" stroke-width="0.5"/>
<circle cx="306.79" cy="409.65" r="1.75" fill="#b49c55" stroke="none" stroke-width="0.5"/>
<polyline points="191.91,435.61 200.34,435.61 210.88,418.68 223.53,421.76 239.13,420.16 264.63,418.68 284.66,417.30 290.98,423.50 299.42,407.91 306.79,412.58" fill="none" stroke="#b49c55" stroke-width="0.85" stroke-linejoin="round" />
<circle cx="191.91" cy="435.61" r="1.75" fill="#b49c55" stroke="none" stroke-width="0.5"/>
<circle cx="200.34" cy="435.61" r="1.75" fill="#b49c55" stroke="none" stroke-width="0.5"/>
<circle cx="210.88" cy="418.68" r="1.75" fill="#b49c55" stroke="none" stroke-width="0.5"/>
<circle cx="223.53" cy="421.76" r="1.75" fill="#b49c55" stroke="none" stroke-width="0.5"/>
<circle cx="239.13" cy="420.16" r="1.75" fill="#b49c55" stroke="none" stroke-width="0.5"/>
<circle cx="264.63" cy="418.68" r="1.75" fill="#b49c55" stroke="none" stroke-width="0.5"/>
<circle cx="284.66" cy="417.30" r="1.75" fill="#b49c55" stroke="none" stroke-width="0.5"/>
<circle cx="290.98" cy="423.50" r="1.75" fill="#b49c55" stroke="none" stroke-width="0.5"/>
<circle cx="299.42" cy="407.91" r="1.75" fill="#b49c55" stroke="none" stroke-width="0.5"/>
<circle cx="306.79" cy="412.58" r="1.75" fill="#b49c55" stroke="none" stroke-width="0.5"/>
<polyline points="191.91,423.50 202.45,429.86 210.88,423.50 229.85,418.68 264.63,417.30 280.44,420.16 286.77,421.76 295.20,416.01 301.52,411.55 306.79,411.55" fill="none" stroke="#b49c55" stroke-width="0.85" stroke-linejoin="round" />
<circle cx="191.91" cy="423.50" r="1.75" fill="#b49c55" stroke="none" stroke-width="0.5"/>
<circle cx="202.45" cy="429.86" r="1.75" fill="#b49c55" stroke="none" stroke-width="0.5"/>
<circle cx="210.88" cy="423.50" r="1.75" fill="#b49c55" stroke="none" stroke-width="0.5"/>
<circle cx="229.85" cy="418.68" r="1.75" fill="#b49c55" stroke="none" stroke-width="0.5"/>
<circle cx="264.63" cy="417.30" r="1.75" fill="#b49c55" stroke="none" stroke-width="0.5"/>
<circle cx="280.44" cy="420.16" r="1.75" fill="#b49c55" stroke="none" stroke-width="0.5"/>
<circle cx="286.77" cy="421.76" r="1.75" fill="#b49c55" stroke="none" stroke-width="0.5"/>
<circle cx="295.20" cy="416.01" r="1.75" fill="#b49c55" stroke="none" stroke-width="0.5"/>
<circle cx="301.52" cy="411.55" r="1.75" fill="#b49c55" stroke="none" stroke-width="0.5"/>
<circle cx="306.79" cy="411.55" r="1.75" fill="#b49c55" stroke="none" stroke-width="0.5"/>
<polyline points="188.75,426.85 200.34,436.63 208.35,430.11 223.53,421.76 239.13,420.31 274.96,425.40 284.66,428.65 290.98,421.76 299.42,416.01 306.79,410.87" fill="none" stroke="#a27b27" stroke-width="0.85" stroke-linejoin="round" />
<circle cx="188.75" cy="426.85" r="1.75" fill="#a27b27" stroke="none" stroke-width="0.5"/>
<circle cx="200.34" cy="436.63" r="1.75" fill="#a27b27" stroke="none" stroke-width="0.5"/>
<circle cx="208.35" cy="430.11" r="1.75" fill="#a27b27" stroke="none" stroke-width="0.5"/>
<circle cx="223.53" cy="421.76" r="1.75" fill="#a27b27" stroke="none" stroke-width="0.5"/>
<circle cx="239.13" cy="420.31" r="1.75" fill="#a27b27" stroke="none" stroke-width="0.5"/>
<circle cx="274.96" cy="425.40" r="1.75" fill="#a27b27" stroke="none" stroke-width="0.5"/>
<circle cx="284.66" cy="428.65" r="1.75" fill="#a27b27" stroke="none" stroke-width="0.5"/>
<circle cx="290.98" cy="421.76" r="1.75" fill="#a27b27" stroke="none" stroke-width="0.5"/>
<circle cx="299.42" cy="416.01" r="1.75" fill="#a27b27" stroke="none" stroke-width="0.5"/>
<circle cx="306.79" cy="410.87" r="1.75" fill="#a27b27" stroke="none" stroke-width="0.5"/>
<polyline points="188.75,436.98 200.34,437.34 210.88,427.50 223.53,427.50 239.13,418.68 274.96,423.50 284.66,425.40 290.98,420.16 299.42,413.66 306.79,414.11" fill="none" stroke="#a27b27" stroke-width="0.85" stroke-linejoin="round" />
<circle cx="188.75" cy="436.98" r="1.75" fill="#a27b27" stroke="none" stroke-width="0.5"/>
<circle cx="200.34" cy="437.34" r="1.75" fill="#a27b27" stroke="none" stroke-width="0.5"/>
<circle cx="210.88" cy="427.50" r="1.75" fill="#a27b27" stroke="none" stroke-width="0.5"/>
<circle cx="223.53" cy="427.50" r="1.75" fill="#a27b27" stroke="none" stroke-width="0.5"/>
<circle cx="239.13" cy="418.68" r="1.75" fill="#a27b27" stroke="none" stroke-width="0.5"/>
<circle cx="274.96" cy="423.50" r="1.75" fill="#a27b27" stroke="none" stroke-width="0.5"/>
<circle cx="284.66" cy="425.40" r="1.75" fill="#a27b27" stroke="none" stroke-width="0.5"/>
<circle cx="290.98" cy="420.16" r="1.75" fill="#a27b27" stroke="none" stroke-width="0.5"/>
<circle cx="299.42" cy="413.66" r="1.75" fill="#a27b27" stroke="none" stroke-width="0.5"/>
<circle cx="306.79" cy="414.11" r="1.75" fill="#a27b27" stroke="none" stroke-width="0.5"/>
<polyline points="189.80,410.58 200.76,416.01 219.94,396.73 274.96,427.50 284.66,421.76 289.30,446.37 292.25,434.95 297.94,430.62 306.37,422.78" fill="none" stroke="#7b2b22" stroke-width="0.85" stroke-linejoin="round" />
<circle cx="189.80" cy="410.58" r="1.75" fill="#7b2b22" stroke="none" stroke-width="0.5"/>
<circle cx="200.76" cy="416.01" r="1.75" fill="#7b2b22" stroke="none" stroke-width="0.5"/>
<circle cx="219.94" cy="396.73" r="1.75" fill="#7b2b22" stroke="none" stroke-width="0.5"/>
<circle cx="274.96" cy="427.50" r="1.75" fill="#7b2b22" stroke="none" stroke-width="0.5"/>
<circle cx="284.66" cy="421.76" r="1.75" fill="#7b2b22" stroke="none" stroke-width="0.5"/>
<circle cx="289.30" cy="446.37" r="1.75" fill="#7b2b22" stroke="none" stroke-width="0.5"/>
<circle cx="292.25" cy="434.95" r="1.75" fill="#7b2b22" stroke="none" stroke-width="0.5"/>
<circle cx="297.94" cy="430.62" r="1.75" fill="#7b2b22" stroke="none" stroke-width="0.5"/>
<circle cx="306.37" cy="422.78" r="1.75" fill="#7b2b22" stroke="none" stroke-width="0.5"/>
<polyline points="189.80,422.26 200.76,423.68 208.35,412.06 219.94,409.65 274.96,418.68 284.66,420.16 289.30,453.91 292.25,458.06 297.94,417.30 306.79,399.26" fill="none" stroke="#7b2b22" stroke-width="0.85" stroke-linejoin="round" />
<circle cx="189.80" cy="422.26" r="1.75" fill="#7b2b22" stroke="none" stroke-width="0.5"/>
<circle cx="200.76" cy="423.68" r="1.75" fill="#7b2b22" stroke="none" stroke-width="0.5"/>
<circle cx="208.35" cy="412.06" r="1.75" fill="#7b2b22" stroke="none" stroke-width="0.5"/>
<circle cx="219.94" cy="409.65" r="1.75" fill="#7b2b22" stroke="none" stroke-width="0.5"/>
<circle cx="274.96" cy="418.68" r="1.75" fill="#7b2b22" stroke="none" stroke-width="0.5"/>
<circle cx="284.66" cy="420.16" r="1.75" fill="#7b2b22" stroke="none" stroke-width="0.5"/>
<circle cx="289.30" cy="453.91" r="1.75" fill="#7b2b22" stroke="none" stroke-width="0.5"/>
<circle cx="292.25" cy="458.06" r="1.75" fill="#7b2b22" stroke="none" stroke-width="0.5"/>
<circle cx="297.94" cy="417.30" r="1.75" fill="#7b2b22" stroke="none" stroke-width="0.5"/>
<circle cx="306.79" cy="399.26" r="1.75" fill="#7b2b22" stroke="none" stroke-width="0.5"/>
<polyline points="189.80,430.11 200.76,431.15 208.35,430.11 219.94,414.80 274.96,421.76 284.66,425.40 289.30,423.50 292.25,420.16 297.94,411.55 306.79,405.56" fill="none" stroke="#7b2b22" stroke-width="0.85" stroke-linejoin="round" />
<circle cx="189.80" cy="430.11" r="1.75" fill="#7b2b22" stroke="none" stroke-width="0.5"/>
<circle cx="200.76" cy="431.15" r="1.75" fill="#7b2b22" stroke="none" stroke-width="0.5"/>
<circle cx="208.35" cy="430.11" r="1.75" fill="#7b2b22" stroke="none" stroke-width="0.5"/>
<circle cx="219.94" cy="414.80" r="1.75" fill="#7b2b22" stroke="none" stroke-width="0.5"/>
<circle cx="274.96" cy="421.76" r="1.75" fill="#7b2b22" stroke="none" stroke-width="0.5"/>
<circle cx="284.66" cy="425.40" r="1.75" fill="#7b2b22" stroke="none" stroke-width="0.5"/>
<circle cx="289.30" cy="423.50" r="1.75" fill="#7b2b22" stroke="none" stroke-width="0.5"/>
<circle cx="292.25" cy="420.16" r="1.75" fill="#7b2b22" stroke="none" stroke-width="0.5"/>
<circle cx="297.94" cy="411.55" r="1.75" fill="#7b2b22" stroke="none" stroke-width="0.5"/>
<circle cx="306.79" cy="405.56" r="1.75" fill="#7b2b22" stroke="none" stroke-width="0.5"/>
<polyline points="191.91,412.90 213.41,393.65 222.47,379.40 230.91,398.21 278.34,418.68 286.77,421.76 292.25,427.95 298.57,402.16 303.00,390.28 310.59,363.02" fill="none" stroke="#c9454d" stroke-width="0.85" stroke-linejoin="round" />
<circle cx="191.91" cy="412.90" r="1.75" fill="#c9454d" stroke="none" stroke-width="0.5"/>
<circle cx="213.41" cy="393.65" r="1.75" fill="#c9454d" stroke="none" stroke-width="0.5"/>
<circle cx="222.47" cy="379.40" r="1.75" fill="#c9454d" stroke="none" stroke-width="0.5"/>
<circle cx="230.91" cy="398.21" r="1.75" fill="#c9454d" stroke="none" stroke-width="0.5"/>
<circle cx="278.34" cy="418.68" r="1.75" fill="#c9454d" stroke="none" stroke-width="0.5"/>
<circle cx="286.77" cy="421.76" r="1.75" fill="#c9454d" stroke="none" stroke-width="0.5"/>
<circle cx="292.25" cy="427.95" r="1.75" fill="#c9454d" stroke="none" stroke-width="0.5"/>
<circle cx="298.57" cy="402.16" r="1.75" fill="#c9454d" stroke="none" stroke-width="0.5"/>
<circle cx="303.00" cy="390.28" r="1.75" fill="#c9454d" stroke="none" stroke-width="0.5"/>
<circle cx="310.59" cy="363.02" r="1.75" fill="#c9454d" stroke="none" stroke-width="0.5"/>
<polyline points="191.91,426.85 213.41,395.80 222.47,392.08 230.91,411.55 278.34,420.16 286.77,423.50 292.25,423.50 298.57,407.09 303.00,391.34 310.59,371.84" fill="none" stroke="#c9454d" stroke-width="0.85" stroke-linejoin="round" />
<circle cx="191.91" cy="426.85" r="1.75" fill="#c9454d" stroke="none" stroke-width="0.5"/>
<circle cx="213.41" cy="395.80" r="1.75" fill="#c9454d" stroke="none" stroke-width="0.5"/>
<circle cx="222.47" cy="392.08" r="1.75" fill="#c9454d" stroke="none" stroke-width="0.5"/>
<circle cx="230.91" cy="411.55" r="1.75" fill="#c9454d" stroke="none" stroke-width="0.5"/>
<circle cx="278.34" cy="420.16" r="1.75" fill="#c9454d" stroke="none" stroke-width="0.5"/>
<circle cx="286.77" cy="423.50" r="1.75" fill="#c9454d" stroke="none" stroke-width="0.5"/>
<circle cx="292.25" cy="423.50" r="1.75" fill="#c9454d" stroke="none" stroke-width="0.5"/>
<circle cx="298.57" cy="407.09" r="1.75" fill="#c9454d" stroke="none" stroke-width="0.5"/>
<circle cx="303.00" cy="391.34" r="1.75" fill="#c9454d" stroke="none" stroke-width="0.5"/>
<circle cx="310.59" cy="371.84" r="1.75" fill="#c9454d" stroke="none" stroke-width="0.5"/>
<polyline points="191.91,425.40 213.41,406.31 222.47,411.55 230.91,413.66 278.34,421.76 286.77,425.40 292.25,420.16 298.57,403.45 303.00,402.16 310.59,374.16" fill="none" stroke="#c9454d" stroke-width="0.85" stroke-linejoin="round" />
<circle cx="191.91" cy="425.40" r="1.75" fill="#c9454d" stroke="none" stroke-width="0.5"/>
<circle cx="213.41" cy="406.31" r="1.75" fill="#c9454d" stroke="none" stroke-width="0.5"/>
<circle cx="222.47" cy="411.55" r="1.75" fill="#c9454d" stroke="none" stroke-width="0.5"/>
<circle cx="230.91" cy="413.66" r="1.75" fill="#c9454d" stroke="none" stroke-width="0.5"/>
<circle cx="278.34" cy="421.76" r="1.75" fill="#c9454d" stroke="none" stroke-width="0.5"/>
<circle cx="286.77" cy="425.40" r="1.75" fill="#c9454d" stroke="none" stroke-width="0.5"/>
<circle cx="292.25" cy="420.16" r="1.75" fill="#c9454d" stroke="none" stroke-width="0.5"/>
<circle cx="298.57" cy="403.45" r="1.75" fill="#c9454d" stroke="none" stroke-width="0.5"/>
<circle cx="303.00" cy="402.16" r="1.75" fill="#c9454d" stroke="none" stroke-width="0.5"/>
<circle cx="310.59" cy="374.16" r="1.75" fill="#c9454d" stroke="none" stroke-width="0.5"/>
<text x="248.80" y="482.10" font-size="6.5" text-anchor="middle" fill="#231f20" stroke="#231f20" stroke-width="0.2" dominant-baseline="central">Perturbed pH</text>
<text x="9.00" y="411.00" font-size="6.5" text-anchor="middle" fill="#231f20" stroke="#231f20" stroke-width="0.2" dominant-baseline="central" transform="rotate(-90 9.00 411.00)">Growth folds</text>
<line x1="53.40" y1="500.90" x2="66.60" y2="500.90" stroke="#7b2b22" stroke-width="0.7" />
<circle cx="60.00" cy="500.90" r="2.60" fill="#7b2b22" stroke="none" stroke-width="0.5"/>
<text x="71.20" y="501.40" font-size="6.5" text-anchor="start" fill="#231f20" stroke="#231f20" stroke-width="0.2" dominant-baseline="central">LaBagh</text>
<line x1="111.90" y1="500.90" x2="125.10" y2="500.90" stroke="#c9454d" stroke-width="0.7" />
<circle cx="118.50" cy="500.90" r="2.60" fill="#c9454d" stroke="none" stroke-width="0.5"/>
<text x="129.70" y="501.40" font-size="6.5" text-anchor="start" fill="#231f20" stroke="#231f20" stroke-width="0.2" dominant-baseline="central">Pinhook</text>
<line x1="172.10" y1="500.90" x2="185.30" y2="500.90" stroke="#a27b27" stroke-width="0.7" />
<circle cx="178.70" cy="500.90" r="2.60" fill="#a27b27" stroke="none" stroke-width="0.5"/>
<text x="189.90" y="501.40" font-size="6.5" text-anchor="start" fill="#231f20" stroke="#231f20" stroke-width="0.2" dominant-baseline="central">CLG13</text>
<line x1="232.30" y1="500.90" x2="245.50" y2="500.90" stroke="#b49c55" stroke-width="0.7" />
<circle cx="238.90" cy="500.90" r="2.60" fill="#b49c55" stroke="none" stroke-width="0.5"/>
<text x="250.10" y="501.40" font-size="6.5" text-anchor="start" fill="#231f20" stroke="#231f20" stroke-width="0.2" dominant-baseline="central">ELG13</text>
<text x="359.40" y="326.90" font-size="10.8" text-anchor="start" fill="#000" stroke="#000" stroke-width="0.2" font-weight="bold">e</text>
<path d="M377.00,355.60 L377.00,347.80 Q377.00,345.30 379.50,345.30 L664.50,345.30 Q667.00,345.30 667.00,347.80 L667.00,355.60" fill="none" stroke="#8f8f8f" stroke-width="0.7"/>
<text x="521.50" y="339.70" font-size="6.5" text-anchor="middle" fill="#8a8a8a" stroke="#8a8a8a" stroke-width="0.2" dominant-baseline="central">Anderson et al., 2018</text>
<rect x="386.20" y="449.49" width="9.30" height="11.91" fill="#7d3b97" stroke="#3a3a3a" stroke-width="0.35" />
<rect x="386.20" y="430.90" width="9.30" height="18.58" fill="#1ca57c" stroke="#3a3a3a" stroke-width="0.35" />
<rect x="386.20" y="425.38" width="9.30" height="5.53" fill="#3c68b1" stroke="#3a3a3a" stroke-width="0.35" />
<rect x="386.20" y="421.37" width="9.30" height="4.00" fill="#f3b500" stroke="#3a3a3a" stroke-width="0.35" />
<rect x="386.20" y="417.32" width="9.30" height="4.05" fill="#e9517c" stroke="#3a3a3a" stroke-width="0.35" />
<rect x="386.20" y="380.87" width="9.30" height="36.45" fill="#7ebf5d" stroke="#3a3a3a" stroke-width="0.35" />
<rect x="386.20" y="374.92" width="9.30" height="5.96" fill="#d5259a" stroke="#3a3a3a" stroke-width="0.35" />
<rect x="386.20" y="366.10" width="9.30" height="8.82" fill="#d3d3d3" stroke="#3a3a3a" stroke-width="0.35" />
<text x="390.85" y="468.30" font-size="6.5" text-anchor="middle" fill="#231f20" stroke="#231f20" stroke-width="0.2" dominant-baseline="central">16</text>
<rect x="397.50" y="450.44" width="9.30" height="10.96" fill="#7d3b97" stroke="#3a3a3a" stroke-width="0.35" />
<rect x="397.50" y="431.62" width="9.30" height="18.82" fill="#1ca57c" stroke="#3a3a3a" stroke-width="0.35" />
<rect x="397.50" y="425.38" width="9.30" height="6.24" fill="#3c68b1" stroke="#3a3a3a" stroke-width="0.35" />
<rect x="397.50" y="421.37" width="9.30" height="4.00" fill="#f3b500" stroke="#3a3a3a" stroke-width="0.35" />
<rect x="397.50" y="417.80" width="9.30" height="3.57" fill="#e9517c" stroke="#3a3a3a" stroke-width="0.35" />
<rect x="397.50" y="379.68" width="9.30" height="38.12" fill="#7ebf5d" stroke="#3a3a3a" stroke-width="0.35" />
<rect x="397.50" y="374.92" width="9.30" height="4.76" fill="#d5259a" stroke="#3a3a3a" stroke-width="0.35" />
<rect x="397.50" y="366.10" width="9.30" height="8.82" fill="#d3d3d3" stroke="#3a3a3a" stroke-width="0.35" />
<text x="402.15" y="468.30" font-size="6.5" text-anchor="middle" fill="#231f20" stroke="#231f20" stroke-width="0.2" dominant-baseline="central">24</text>
<rect x="408.80" y="455.92" width="9.30" height="5.48" fill="#7d3b97" stroke="#3a3a3a" stroke-width="0.35" />
<rect x="408.80" y="435.19" width="9.30" height="20.73" fill="#1ca57c" stroke="#3a3a3a" stroke-width="0.35" />
<rect x="408.80" y="424.95" width="9.30" height="10.24" fill="#3c68b1" stroke="#3a3a3a" stroke-width="0.35" />
<rect x="408.80" y="422.57" width="9.30" height="2.38" fill="#f3b500" stroke="#3a3a3a" stroke-width="0.35" />
<rect x="408.80" y="419.47" width="9.30" height="3.10" fill="#e9517c" stroke="#3a3a3a" stroke-width="0.35" />
<rect x="408.80" y="382.78" width="9.30" height="36.69" fill="#7ebf5d" stroke="#3a3a3a" stroke-width="0.35" />
<rect x="408.80" y="374.44" width="9.30" height="8.34" fill="#d5259a" stroke="#3a3a3a" stroke-width="0.35" />
<rect x="408.80" y="366.10" width="9.30" height="8.34" fill="#d3d3d3" stroke="#3a3a3a" stroke-width="0.35" />
<text x="413.45" y="468.30" font-size="6.5" text-anchor="middle" fill="#231f20" stroke="#231f20" stroke-width="0.2" dominant-baseline="central">32</text>
<rect x="420.10" y="455.21" width="9.30" height="6.19" fill="#7d3b97" stroke="#3a3a3a" stroke-width="0.35" />
<rect x="420.10" y="435.67" width="9.30" height="19.54" fill="#1ca57c" stroke="#3a3a3a" stroke-width="0.35" />
<rect x="420.10" y="427.33" width="9.30" height="8.34" fill="#3c68b1" stroke="#3a3a3a" stroke-width="0.35" />
<rect x="420.10" y="424.23" width="9.30" height="3.10" fill="#f3b500" stroke="#3a3a3a" stroke-width="0.35" />
<rect x="420.10" y="421.37" width="9.30" height="2.86" fill="#e9517c" stroke="#3a3a3a" stroke-width="0.35" />
<rect x="420.10" y="385.64" width="9.30" height="35.74" fill="#7ebf5d" stroke="#3a3a3a" stroke-width="0.35" />
<rect x="420.10" y="375.63" width="9.30" height="10.01" fill="#d5259a" stroke="#3a3a3a" stroke-width="0.35" />
<rect x="420.10" y="366.10" width="9.30" height="9.53" fill="#d3d3d3" stroke="#3a3a3a" stroke-width="0.35" />
<text x="424.75" y="468.30" font-size="6.5" text-anchor="middle" fill="#231f20" stroke="#231f20" stroke-width="0.2" dominant-baseline="central">40</text>
<rect x="431.40" y="454.25" width="9.30" height="7.15" fill="#7d3b97" stroke="#3a3a3a" stroke-width="0.35" />
<rect x="431.40" y="437.34" width="9.30" height="16.92" fill="#1ca57c" stroke="#3a3a3a" stroke-width="0.35" />
<rect x="431.40" y="427.33" width="9.30" height="10.01" fill="#3c68b1" stroke="#3a3a3a" stroke-width="0.35" />
<rect x="431.40" y="423.76" width="9.30" height="3.57" fill="#f3b500" stroke="#3a3a3a" stroke-width="0.35" />
<rect x="431.40" y="420.18" width="9.30" height="3.57" fill="#e9517c" stroke="#3a3a3a" stroke-width="0.35" />
<rect x="431.40" y="385.64" width="9.30" height="34.55" fill="#7ebf5d" stroke="#3a3a3a" stroke-width="0.35" />
<rect x="431.40" y="375.63" width="9.30" height="10.01" fill="#d5259a" stroke="#3a3a3a" stroke-width="0.35" />
<rect x="431.40" y="366.10" width="9.30" height="9.53" fill="#d3d3d3" stroke="#3a3a3a" stroke-width="0.35" />
<text x="436.05" y="468.30" font-size="6.5" text-anchor="middle" fill="#231f20" stroke="#231f20" stroke-width="0.2" dominant-baseline="central">48</text>
<text x="413.20" y="361.40" font-size="6.5" text-anchor="middle" fill="#231f20" stroke="#231f20" stroke-width="0.2" dominant-baseline="central">pH = 4.7</text>
<rect x="458.60" y="452.35" width="9.30" height="9.05" fill="#7d3b97" stroke="#3a3a3a" stroke-width="0.35" />
<rect x="458.60" y="436.62" width="9.30" height="15.72" fill="#1ca57c" stroke="#3a3a3a" stroke-width="0.35" />
<rect x="458.60" y="432.14" width="9.30" height="4.48" fill="#3c68b1" stroke="#3a3a3a" stroke-width="0.35" />
<rect x="458.60" y="410.89" width="9.30" height="21.25" fill="#f3b500" stroke="#3a3a3a" stroke-width="0.35" />
<rect x="458.60" y="407.46" width="9.30" height="3.43" fill="#e9517c" stroke="#3a3a3a" stroke-width="0.35" />
<rect x="458.60" y="378.58" width="9.30" height="28.88" fill="#7ebf5d" stroke="#3a3a3a" stroke-width="0.35" />
<rect x="458.60" y="372.58" width="9.30" height="6.00" fill="#d5259a" stroke="#3a3a3a" stroke-width="0.35" />
<rect x="458.60" y="366.10" width="9.30" height="6.48" fill="#d3d3d3" stroke="#3a3a3a" stroke-width="0.35" />
<text x="463.25" y="468.30" font-size="6.5" text-anchor="middle" fill="#231f20" stroke="#231f20" stroke-width="0.2" dominant-baseline="central">16</text>
<rect x="469.90" y="451.30" width="9.30" height="10.10" fill="#7d3b97" stroke="#3a3a3a" stroke-width="0.35" />
<rect x="469.90" y="435.76" width="9.30" height="15.53" fill="#1ca57c" stroke="#3a3a3a" stroke-width="0.35" />
<rect x="469.90" y="430.14" width="9.30" height="5.62" fill="#3c68b1" stroke="#3a3a3a" stroke-width="0.35" />
<rect x="469.90" y="412.51" width="9.30" height="17.63" fill="#f3b500" stroke="#3a3a3a" stroke-width="0.35" />
<rect x="469.90" y="409.08" width="9.30" height="3.43" fill="#e9517c" stroke="#3a3a3a" stroke-width="0.35" />
<rect x="469.90" y="377.63" width="9.30" height="31.45" fill="#7ebf5d" stroke="#3a3a3a" stroke-width="0.35" />
<rect x="469.90" y="372.58" width="9.30" height="5.05" fill="#d5259a" stroke="#3a3a3a" stroke-width="0.35" />
<rect x="469.90" y="366.10" width="9.30" height="6.48" fill="#d3d3d3" stroke="#3a3a3a" stroke-width="0.35" />
<text x="474.55" y="468.30" font-size="6.5" text-anchor="middle" fill="#231f20" stroke="#231f20" stroke-width="0.2" dominant-baseline="central">24</text>
<rect x="481.20" y="456.73" width="9.30" height="4.67" fill="#7d3b97" stroke="#3a3a3a" stroke-width="0.35" />
<rect x="481.20" y="438.62" width="9.30" height="18.11" fill="#1ca57c" stroke="#3a3a3a" stroke-width="0.35" />
<rect x="481.20" y="430.14" width="9.30" height="8.48" fill="#3c68b1" stroke="#3a3a3a" stroke-width="0.35" />
<rect x="481.20" y="411.56" width="9.30" height="18.58" fill="#f3b500" stroke="#3a3a3a" stroke-width="0.35" />
<rect x="481.20" y="408.70" width="9.30" height="2.86" fill="#e9517c" stroke="#3a3a3a" stroke-width="0.35" />
<rect x="481.20" y="381.63" width="9.30" height="27.07" fill="#7ebf5d" stroke="#3a3a3a" stroke-width="0.35" />
<rect x="481.20" y="372.58" width="9.30" height="9.05" fill="#d5259a" stroke="#3a3a3a" stroke-width="0.35" />
<rect x="481.20" y="366.10" width="9.30" height="6.48" fill="#d3d3d3" stroke="#3a3a3a" stroke-width="0.35" />
<text x="485.85" y="468.30" font-size="6.5" text-anchor="middle" fill="#231f20" stroke="#231f20" stroke-width="0.2" dominant-baseline="central">32</text>
<rect x="492.50" y="457.40" width="9.30" height="4.00" fill="#7d3b97" stroke="#3a3a3a" stroke-width="0.35" />
<rect x="492.50" y="444.25" width="9.30" height="13.15" fill="#1ca57c" stroke="#3a3a3a" stroke-width="0.35" />
<rect x="492.50" y="438.62" width="9.30" height="5.62" fill="#3c68b1" stroke="#3a3a3a" stroke-width="0.35" />
<rect x="492.50" y="428.52" width="9.30" height="10.10" fill="#f3b500" stroke="#3a3a3a" stroke-width="0.35" />
<rect x="492.50" y="426.04" width="9.30" height="2.48" fill="#e9517c" stroke="#3a3a3a" stroke-width="0.35" />
<rect x="492.50" y="403.27" width="9.30" height="22.78" fill="#7ebf5d" stroke="#3a3a3a" stroke-width="0.35" />
<rect x="492.50" y="371.91" width="9.30" height="31.35" fill="#d5259a" stroke="#3a3a3a" stroke-width="0.35" />
<rect x="492.50" y="366.10" width="9.30" height="5.81" fill="#d3d3d3" stroke="#3a3a3a" stroke-width="0.35" />
<text x="497.15" y="468.30" font-size="6.5" text-anchor="middle" fill="#231f20" stroke="#231f20" stroke-width="0.2" dominant-baseline="central">40</text>
<rect x="503.80" y="457.40" width="9.30" height="4.00" fill="#7d3b97" stroke="#3a3a3a" stroke-width="0.35" />
<rect x="503.80" y="443.67" width="9.30" height="13.72" fill="#1ca57c" stroke="#3a3a3a" stroke-width="0.35" />
<rect x="503.80" y="437.19" width="9.30" height="6.48" fill="#3c68b1" stroke="#3a3a3a" stroke-width="0.35" />
<rect x="503.80" y="425.47" width="9.30" height="11.72" fill="#f3b500" stroke="#3a3a3a" stroke-width="0.35" />
<rect x="503.80" y="422.61" width="9.30" height="2.86" fill="#e9517c" stroke="#3a3a3a" stroke-width="0.35" />
<rect x="503.80" y="393.74" width="9.30" height="28.88" fill="#7ebf5d" stroke="#3a3a3a" stroke-width="0.35" />
<rect x="503.80" y="371.53" width="9.30" height="22.20" fill="#d5259a" stroke="#3a3a3a" stroke-width="0.35" />
<rect x="503.80" y="366.10" width="9.30" height="5.43" fill="#d3d3d3" stroke="#3a3a3a" stroke-width="0.35" />
<text x="508.45" y="468.30" font-size="6.5" text-anchor="middle" fill="#231f20" stroke="#231f20" stroke-width="0.2" dominant-baseline="central">48</text>
<text x="485.60" y="361.40" font-size="6.5" text-anchor="middle" fill="#231f20" stroke="#231f20" stroke-width="0.2" dominant-baseline="central">pH = 6.7</text>
<rect x="531.00" y="449.87" width="9.30" height="11.53" fill="#7d3b97" stroke="#3a3a3a" stroke-width="0.35" />
<rect x="531.00" y="435.57" width="9.30" height="14.30" fill="#1ca57c" stroke="#3a3a3a" stroke-width="0.35" />
<rect x="531.00" y="432.71" width="9.30" height="2.86" fill="#3c68b1" stroke="#3a3a3a" stroke-width="0.35" />
<rect x="531.00" y="397.36" width="9.30" height="35.36" fill="#f3b500" stroke="#3a3a3a" stroke-width="0.35" />
<rect x="531.00" y="393.74" width="9.30" height="3.62" fill="#e9517c" stroke="#3a3a3a" stroke-width="0.35" />
<rect x="531.00" y="372.96" width="9.30" height="20.78" fill="#7ebf5d" stroke="#3a3a3a" stroke-width="0.35" />
<rect x="531.00" y="371.53" width="9.30" height="1.43" fill="#d5259a" stroke="#3a3a3a" stroke-width="0.35" />
<rect x="531.00" y="366.10" width="9.30" height="5.43" fill="#d3d3d3" stroke="#3a3a3a" stroke-width="0.35" />
<text x="535.65" y="468.30" font-size="6.5" text-anchor="middle" fill="#231f20" stroke="#231f20" stroke-width="0.2" dominant-baseline="central">16</text>
<rect x="542.30" y="457.40" width="9.30" height="4.00" fill="#7d3b97" stroke="#3a3a3a" stroke-width="0.35" />
<rect x="542.30" y="445.29" width="9.30" height="12.10" fill="#1ca57c" stroke="#3a3a3a" stroke-width="0.35" />
<rect x="542.30" y="442.24" width="9.30" height="3.05" fill="#3c68b1" stroke="#3a3a3a" stroke-width="0.35" />
<rect x="542.30" y="386.68" width="9.30" height="55.56" fill="#f3b500" stroke="#3a3a3a" stroke-width="0.35" />
<rect x="542.30" y="383.64" width="9.30" height="3.05" fill="#e9517c" stroke="#3a3a3a" stroke-width="0.35" />
<rect x="542.30" y="371.91" width="9.30" height="11.72" fill="#7ebf5d" stroke="#3a3a3a" stroke-width="0.35" />
<rect x="542.30" y="370.10" width="9.30" height="1.81" fill="#d5259a" stroke="#3a3a3a" stroke-width="0.35" />
<rect x="542.30" y="366.10" width="9.30" height="4.00" fill="#d3d3d3" stroke="#3a3a3a" stroke-width="0.35" />
<text x="546.95" y="468.30" font-size="6.5" text-anchor="middle" fill="#231f20" stroke="#231f20" stroke-width="0.2" dominant-baseline="central">24</text>
<rect x="553.60" y="459.97" width="9.30" height="1.43" fill="#7d3b97" stroke="#3a3a3a" stroke-width="0.35" />
<rect x="553.60" y="442.24" width="9.30" height="17.73" fill="#1ca57c" stroke="#3a3a3a" stroke-width="0.35" />
<rect x="553.60" y="440.62" width="9.30" height="1.62" fill="#3c68b1" stroke="#3a3a3a" stroke-width="0.35" />
<rect x="553.60" y="377.63" width="9.30" height="62.99" fill="#f3b500" stroke="#3a3a3a" stroke-width="0.35" />
<rect x="553.60" y="376.58" width="9.30" height="1.05" fill="#e9517c" stroke="#3a3a3a" stroke-width="0.35" />
<rect x="553.60" y="369.91" width="9.30" height="6.67" fill="#7ebf5d" stroke="#3a3a3a" stroke-width="0.35" />
<rect x="553.60" y="368.48" width="9.30" height="1.43" fill="#d5259a" stroke="#3a3a3a" stroke-width="0.35" />
<rect x="553.60" y="366.10" width="9.30" height="2.38" fill="#d3d3d3" stroke="#3a3a3a" stroke-width="0.35" />
<text x="558.25" y="468.30" font-size="6.5" text-anchor="middle" fill="#231f20" stroke="#231f20" stroke-width="0.2" dominant-baseline="central">32</text>
<rect x="564.90" y="458.35" width="9.30" height="3.05" fill="#7d3b97" stroke="#3a3a3a" stroke-width="0.35" />
<rect x="564.90" y="448.25" width="9.30" height="10.10" fill="#1ca57c" stroke="#3a3a3a" stroke-width="0.35" />
<rect x="564.90" y="445.87" width="9.30" height="2.38" fill="#3c68b1" stroke="#3a3a3a" stroke-width="0.35" />
<rect x="564.90" y="382.68" width="9.30" height="63.18" fill="#f3b500" stroke="#3a3a3a" stroke-width="0.35" />
<rect x="564.90" y="380.68" width="9.30" height="2.00" fill="#e9517c" stroke="#3a3a3a" stroke-width="0.35" />
<rect x="564.90" y="369.91" width="9.30" height="10.77" fill="#7ebf5d" stroke="#3a3a3a" stroke-width="0.35" />
<rect x="564.90" y="368.48" width="9.30" height="1.43" fill="#d5259a" stroke="#3a3a3a" stroke-width="0.35" />
<rect x="564.90" y="366.10" width="9.30" height="2.38" fill="#d3d3d3" stroke="#3a3a3a" stroke-width="0.35" />
<text x="569.55" y="468.30" font-size="6.5" text-anchor="middle" fill="#231f20" stroke="#231f20" stroke-width="0.2" dominant-baseline="central">40</text>
<rect x="576.20" y="458.35" width="9.30" height="3.05" fill="#7d3b97" stroke="#3a3a3a" stroke-width="0.35" />
<rect x="576.20" y="445.29" width="9.30" height="13.06" fill="#1ca57c" stroke="#3a3a3a" stroke-width="0.35" />
<rect x="576.20" y="443.29" width="9.30" height="2.00" fill="#3c68b1" stroke="#3a3a3a" stroke-width="0.35" />
<rect x="576.20" y="383.64" width="9.30" height="59.66" fill="#f3b500" stroke="#3a3a3a" stroke-width="0.35" />
<rect x="576.20" y="381.63" width="9.30" height="2.00" fill="#e9517c" stroke="#3a3a3a" stroke-width="0.35" />
<rect x="576.20" y="370.58" width="9.30" height="11.05" fill="#7ebf5d" stroke="#3a3a3a" stroke-width="0.35" />
<rect x="576.20" y="368.48" width="9.30" height="2.10" fill="#d5259a" stroke="#3a3a3a" stroke-width="0.35" />
<rect x="576.20" y="366.10" width="9.30" height="2.38" fill="#d3d3d3" stroke="#3a3a3a" stroke-width="0.35" />
<text x="580.85" y="468.30" font-size="6.5" text-anchor="middle" fill="#231f20" stroke="#231f20" stroke-width="0.2" dominant-baseline="central">48</text>
<text x="558.00" y="361.40" font-size="6.5" text-anchor="middle" fill="#231f20" stroke="#231f20" stroke-width="0.2" dominant-baseline="central">pH = 8.3</text>
<rect x="603.40" y="448.25" width="9.30" height="13.15" fill="#7d3b97" stroke="#3a3a3a" stroke-width="0.35" />
<rect x="603.40" y="426.04" width="9.30" height="22.20" fill="#1ca57c" stroke="#3a3a3a" stroke-width="0.35" />
<rect x="603.40" y="420.04" width="9.30" height="6.00" fill="#3c68b1" stroke="#3a3a3a" stroke-width="0.35" />
<rect x="603.40" y="411.56" width="9.30" height="8.48" fill="#f3b500" stroke="#3a3a3a" stroke-width="0.35" />
<rect x="603.40" y="406.89" width="9.30" height="4.67" fill="#e9517c" stroke="#3a3a3a" stroke-width="0.35" />
<rect x="603.40" y="376.58" width="9.30" height="30.31" fill="#7ebf5d" stroke="#3a3a3a" stroke-width="0.35" />
<rect x="603.40" y="372.96" width="9.30" height="3.62" fill="#d5259a" stroke="#3a3a3a" stroke-width="0.35" />
<rect x="603.40" y="366.10" width="9.30" height="6.86" fill="#d3d3d3" stroke="#3a3a3a" stroke-width="0.35" />
<text x="608.05" y="468.30" font-size="6.5" text-anchor="middle" fill="#231f20" stroke="#231f20" stroke-width="0.2" dominant-baseline="central">16</text>
<rect x="614.70" y="454.35" width="9.30" height="7.05" fill="#7d3b97" stroke="#3a3a3a" stroke-width="0.35" />
<rect x="614.70" y="431.76" width="9.30" height="22.59" fill="#1ca57c" stroke="#3a3a3a" stroke-width="0.35" />
<rect x="614.70" y="422.99" width="9.30" height="8.77" fill="#3c68b1" stroke="#3a3a3a" stroke-width="0.35" />
<rect x="614.70" y="414.51" width="9.30" height="8.48" fill="#f3b500" stroke="#3a3a3a" stroke-width="0.35" />
<rect x="614.70" y="409.94" width="9.30" height="4.57" fill="#e9517c" stroke="#3a3a3a" stroke-width="0.35" />
<rect x="614.70" y="379.06" width="9.30" height="30.88" fill="#7ebf5d" stroke="#3a3a3a" stroke-width="0.35" />
<rect x="614.70" y="373.53" width="9.30" height="5.53" fill="#d5259a" stroke="#3a3a3a" stroke-width="0.35" />
<rect x="614.70" y="366.10" width="9.30" height="7.43" fill="#d3d3d3" stroke="#3a3a3a" stroke-width="0.35" />
<text x="619.35" y="468.30" font-size="6.5" text-anchor="middle" fill="#231f20" stroke="#231f20" stroke-width="0.2" dominant-baseline="central">24</text>
<rect x="626.00" y="456.92" width="9.30" height="4.48" fill="#7d3b97" stroke="#3a3a3a" stroke-width="0.35" />
<rect x="626.00" y="441.20" width="9.30" height="15.72" fill="#1ca57c" stroke="#3a3a3a" stroke-width="0.35" />
<rect x="626.00" y="434.72" width="9.30" height="6.48" fill="#3c68b1" stroke="#3a3a3a" stroke-width="0.35" />
<rect x="626.00" y="399.84" width="9.30" height="34.88" fill="#f3b500" stroke="#3a3a3a" stroke-width="0.35" />
<rect x="626.00" y="396.41" width="9.30" height="3.43" fill="#e9517c" stroke="#3a3a3a" stroke-width="0.35" />
<rect x="626.00" y="374.96" width="9.30" height="21.44" fill="#7ebf5d" stroke="#3a3a3a" stroke-width="0.35" />
<rect x="626.00" y="372.20" width="9.30" height="2.76" fill="#d5259a" stroke="#3a3a3a" stroke-width="0.35" />
<rect x="626.00" y="366.10" width="9.30" height="6.10" fill="#d3d3d3" stroke="#3a3a3a" stroke-width="0.35" />
<text x="630.65" y="468.30" font-size="6.5" text-anchor="middle" fill="#231f20" stroke="#231f20" stroke-width="0.2" dominant-baseline="central">32</text>
<rect x="637.30" y="455.30" width="9.30" height="6.10" fill="#7d3b97" stroke="#3a3a3a" stroke-width="0.35" />
<rect x="637.30" y="441.20" width="9.30" height="14.10" fill="#1ca57c" stroke="#3a3a3a" stroke-width="0.35" />
<rect x="637.30" y="435.19" width="9.30" height="6.00" fill="#3c68b1" stroke="#3a3a3a" stroke-width="0.35" />
<rect x="637.30" y="400.41" width="9.30" height="34.78" fill="#f3b500" stroke="#3a3a3a" stroke-width="0.35" />
<rect x="637.30" y="396.79" width="9.30" height="3.62" fill="#e9517c" stroke="#3a3a3a" stroke-width="0.35" />
<rect x="637.30" y="374.58" width="9.30" height="22.20" fill="#7ebf5d" stroke="#3a3a3a" stroke-width="0.35" />
<rect x="637.30" y="371.91" width="9.30" height="2.67" fill="#d5259a" stroke="#3a3a3a" stroke-width="0.35" />
<rect x="637.30" y="366.10" width="9.30" height="5.81" fill="#d3d3d3" stroke="#3a3a3a" stroke-width="0.35" />
<text x="641.95" y="468.30" font-size="6.5" text-anchor="middle" fill="#231f20" stroke="#231f20" stroke-width="0.2" dominant-baseline="central">40</text>
<rect x="648.60" y="457.97" width="9.30" height="3.43" fill="#7d3b97" stroke="#3a3a3a" stroke-width="0.35" />
<rect x="648.60" y="448.25" width="9.30" height="9.72" fill="#1ca57c" stroke="#3a3a3a" stroke-width="0.35" />
<rect x="648.60" y="444.25" width="9.30" height="4.00" fill="#3c68b1" stroke="#3a3a3a" stroke-width="0.35" />
<rect x="648.60" y="387.73" width="9.30" height="56.51" fill="#f3b500" stroke="#3a3a3a" stroke-width="0.35" />
<rect x="648.60" y="385.16" width="9.30" height="2.57" fill="#e9517c" stroke="#3a3a3a" stroke-width="0.35" />
<rect x="648.60" y="371.91" width="9.30" height="13.25" fill="#7ebf5d" stroke="#3a3a3a" stroke-width="0.35" />
<rect x="648.60" y="370.58" width="9.30" height="1.33" fill="#d5259a" stroke="#3a3a3a" stroke-width="0.35" />
<rect x="648.60" y="366.10" width="9.30" height="4.48" fill="#d3d3d3" stroke="#3a3a3a" stroke-width="0.35" />
<text x="653.25" y="468.30" font-size="6.5" text-anchor="middle" fill="#231f20" stroke="#231f20" stroke-width="0.2" dominant-baseline="central">48</text>
<text x="630.40" y="361.40" font-size="6.5" text-anchor="middle" fill="#231f20" stroke="#231f20" stroke-width="0.2" dominant-baseline="central">pH = 8.7</text>
<rect x="377.00" y="366.10" width="290.00" height="95.30" fill="none" stroke="#666" stroke-width="0.6" />
<line x1="449.60" y1="366.10" x2="449.60" y2="461.40" stroke="#666" stroke-width="0.6" />
<line x1="522.00" y1="366.10" x2="522.00" y2="461.40" stroke="#666" stroke-width="0.6" />
<line x1="594.40" y1="366.10" x2="594.40" y2="461.40" stroke="#666" stroke-width="0.6" />
<line x1="377.00" y1="366.10" x2="667.00" y2="366.10" stroke="#aaa" stroke-width="0.9" />
<text x="373.40" y="367.00" font-size="6.5" text-anchor="end" fill="#231f20" stroke="#231f20" stroke-width="0.2" dominant-baseline="central">1</text>
<text x="373.40" y="462.30" font-size="6.5" text-anchor="end" fill="#231f20" stroke="#231f20" stroke-width="0.2" dominant-baseline="central">0</text>
<text x="363.20" y="412.80" font-size="6.5" text-anchor="middle" fill="#231f20" stroke="#231f20" stroke-width="0.2" dominant-baseline="central" transform="rotate(-90 363.20 412.80)">Relative abundance</text>
<text x="521.30" y="479.20" font-size="6.5" text-anchor="middle" fill="#231f20" stroke="#231f20" stroke-width="0.2" dominant-baseline="central">Time (h)</text>
<text x="353.70" y="501.50" font-size="6.5" text-anchor="start" fill="#231f20" stroke="#231f20" stroke-width="0.2" dominant-baseline="central">Phylum</text>
<rect x="380.50" y="493.30" width="15.80" height="6.40" fill="#7d3b97" stroke="#666" stroke-width="0.5" />
<text x="400.90" y="497.20" font-size="6.5" text-anchor="start" fill="#231f20" stroke="#231f20" stroke-width="0.2" dominant-baseline="central">Actinomycetota</text>
<rect x="380.50" y="503.40" width="15.80" height="6.40" fill="#1ca57c" stroke="#666" stroke-width="0.5" />
<text x="400.90" y="507.30" font-size="6.5" text-anchor="start" fill="#231f20" stroke="#231f20" stroke-width="0.2" dominant-baseline="central">Pseudomonadota</text>
<rect x="463.30" y="493.30" width="15.80" height="6.40" fill="#3c68b1" stroke="#666" stroke-width="0.5" />
<text x="483.70" y="497.20" font-size="6.5" text-anchor="start" fill="#231f20" stroke="#231f20" stroke-width="0.2" dominant-baseline="central">Acidobacteriota</text>
<rect x="463.30" y="503.40" width="15.80" height="6.40" fill="#f3b500" stroke="#666" stroke-width="0.5" />
<text x="483.70" y="507.30" font-size="6.5" text-anchor="start" fill="#231f20" stroke="#231f20" stroke-width="0.2" dominant-baseline="central">Bacillota</text>
<rect x="538.20" y="493.30" width="15.80" height="6.40" fill="#e9517c" stroke="#666" stroke-width="0.5" />
<text x="558.60" y="497.20" font-size="6.5" text-anchor="start" fill="#231f20" stroke="#231f20" stroke-width="0.2" dominant-baseline="central">Planctomycetota</text>
<rect x="538.20" y="503.40" width="15.80" height="6.40" fill="#7ebf5d" stroke="#666" stroke-width="0.5" />
<text x="558.60" y="507.30" font-size="6.5" text-anchor="start" fill="#231f20" stroke="#231f20" stroke-width="0.2" dominant-baseline="central">Unidentified</text>
<rect x="617.30" y="493.30" width="15.80" height="6.40" fill="#d5259a" stroke="#666" stroke-width="0.5" />
<text x="637.70" y="497.20" font-size="6.5" text-anchor="start" fill="#231f20" stroke="#231f20" stroke-width="0.2" dominant-baseline="central">Bacteroidota</text>
<rect x="617.30" y="503.40" width="15.80" height="6.40" fill="#d3d3d3" stroke="#666" stroke-width="0.5" />
<text x="637.70" y="507.30" font-size="6.5" text-anchor="start" fill="#231f20" stroke="#231f20" stroke-width="0.2" dominant-baseline="central">Less than 5%</text>
<text x="0.30" y="531.30" font-size="10.8" text-anchor="start" fill="#000" stroke="#000" stroke-width="0.2" font-weight="bold">f</text>
<text x="63.80" y="532.70" font-size="6.5" text-anchor="middle" fill="#8a8a8a" stroke="#8a8a8a" stroke-width="0.2" dominant-baseline="central">Parkin et al.,</text>
<text x="63.80" y="541.00" font-size="6.5" text-anchor="middle" fill="#8a8a8a" stroke="#8a8a8a" stroke-width="0.2" dominant-baseline="central">1985</text>
<line x1="27.50" y1="546.30" x2="100.60" y2="546.30" stroke="#5a5a5a" stroke-width="0.6" />
<line x1="27.50" y1="546.30" x2="27.50" y2="632.40" stroke="#5a5a5a" stroke-width="0.6" />
<line x1="100.60" y1="546.30" x2="100.60" y2="632.40" stroke="#9b30ee" stroke-width="0.6" />
<line x1="27.50" y1="632.40" x2="30.10" y2="632.40" stroke="#5a5a5a" stroke-width="0.5" />
<text x="25.30" y="632.90" font-size="6.5" text-anchor="end" fill="#231f20" stroke="#231f20" stroke-width="0.2" dominant-baseline="central">0</text>
<line x1="27.50" y1="610.88" x2="30.10" y2="610.88" stroke="#5a5a5a" stroke-width="0.5" />
<text x="25.30" y="611.38" font-size="6.5" text-anchor="end" fill="#231f20" stroke="#231f20" stroke-width="0.2" dominant-baseline="central">0.5</text>
<line x1="27.50" y1="589.35" x2="30.10" y2="589.35" stroke="#5a5a5a" stroke-width="0.5" />
<text x="25.30" y="589.85" font-size="6.5" text-anchor="end" fill="#231f20" stroke="#231f20" stroke-width="0.2" dominant-baseline="central">1.0</text>
<line x1="27.50" y1="567.82" x2="30.10" y2="567.82" stroke="#5a5a5a" stroke-width="0.5" />
<text x="25.30" y="568.32" font-size="6.5" text-anchor="end" fill="#231f20" stroke="#231f20" stroke-width="0.2" dominant-baseline="central">1.5</text>
<line x1="27.50" y1="546.30" x2="30.10" y2="546.30" stroke="#5a5a5a" stroke-width="0.5" />
<text x="25.30" y="546.80" font-size="6.5" text-anchor="end" fill="#231f20" stroke="#231f20" stroke-width="0.2" dominant-baseline="central">2.0</text>
<line x1="100.60" y1="632.40" x2="98.00" y2="632.40" stroke="#9b30ee" stroke-width="0.5" />
<text x="103.00" y="632.90" font-size="6.5" text-anchor="start" fill="#9b30ee" stroke="#9b30ee" stroke-width="0.2" dominant-baseline="central">0</text>
<line x1="100.60" y1="610.88" x2="98.00" y2="610.88" stroke="#9b30ee" stroke-width="0.5" />
<text x="103.00" y="611.38" font-size="6.5" text-anchor="start" fill="#9b30ee" stroke="#9b30ee" stroke-width="0.2" dominant-baseline="central">2</text>
<line x1="100.60" y1="589.35" x2="98.00" y2="589.35" stroke="#9b30ee" stroke-width="0.5" />
<text x="103.00" y="589.85" font-size="6.5" text-anchor="start" fill="#9b30ee" stroke="#9b30ee" stroke-width="0.2" dominant-baseline="central">4</text>
<line x1="100.60" y1="567.82" x2="98.00" y2="567.82" stroke="#9b30ee" stroke-width="0.5" />
<text x="103.00" y="568.32" font-size="6.5" text-anchor="start" fill="#9b30ee" stroke="#9b30ee" stroke-width="0.2" dominant-baseline="central">6</text>
<line x1="100.60" y1="546.30" x2="98.00" y2="546.30" stroke="#9b30ee" stroke-width="0.5" />
<text x="103.00" y="546.80" font-size="6.5" text-anchor="start" fill="#9b30ee" stroke="#9b30ee" stroke-width="0.2" dominant-baseline="central">8</text>
<line x1="27.50" y1="632.40" x2="27.50" y2="629.80" stroke="#5a5a5a" stroke-width="0.5" />
<text x="27.50" y="639.70" font-size="6.5" text-anchor="middle" fill="#231f20" stroke="#231f20" stroke-width="0.2" dominant-baseline="central">1</text>
<line x1="51.87" y1="632.40" x2="51.87" y2="629.80" stroke="#5a5a5a" stroke-width="0.5" />
<text x="51.87" y="639.70" font-size="6.5" text-anchor="middle" fill="#231f20" stroke="#231f20" stroke-width="0.2" dominant-baseline="central">4</text>
<line x1="76.23" y1="632.40" x2="76.23" y2="629.80" stroke="#5a5a5a" stroke-width="0.5" />
<text x="76.23" y="639.70" font-size="6.5" text-anchor="middle" fill="#231f20" stroke="#231f20" stroke-width="0.2" dominant-baseline="central">7</text>
<line x1="100.60" y1="632.40" x2="100.60" y2="629.80" stroke="#5a5a5a" stroke-width="0.5" />
<text x="100.60" y="639.70" font-size="6.5" text-anchor="middle" fill="#231f20" stroke="#231f20" stroke-width="0.2" dominant-baseline="central">10</text>
<line x1="27.50" y1="632.40" x2="100.60" y2="632.40" stroke="#c4c4c4" stroke-width="1.0" />
<polyline points="31.16,632.40 37.25,608.72 42.04,571.70 46.18,564.60 50.81,563.30 54.30,565.89 58.20,570.41 62.91,595.38 69.74,612.17 74.20,625.51 77.05,631.54" fill="none" stroke="#111" stroke-width="0.8" stroke-linejoin="round" />
<polygon points="31.16,634.29 32.95,631.05 29.36,631.05" fill="#111" stroke="none" stroke-width="0.4" stroke-linejoin="round" />
<polygon points="37.25,610.61 39.05,607.37 35.45,607.37" fill="#111" stroke="none" stroke-width="0.4" stroke-linejoin="round" />
<polygon points="42.04,573.59 43.84,570.35 40.24,570.35" fill="#111" stroke="none" stroke-width="0.4" stroke-linejoin="round" />
<polygon points="46.18,566.49 47.98,563.25 44.38,563.25" fill="#111" stroke="none" stroke-width="0.4" stroke-linejoin="round" />
<polygon points="50.81,565.19 52.61,561.95 49.01,561.95" fill="#111" stroke="none" stroke-width="0.4" stroke-linejoin="round" />
<polygon points="54.30,567.78 56.10,564.54 52.50,564.54" fill="#111" stroke="none" stroke-width="0.4" stroke-linejoin="round" />
<polygon points="58.20,572.30 60.00,569.06 56.40,569.06" fill="#111" stroke="none" stroke-width="0.4" stroke-linejoin="round" />
<polygon points="62.91,597.27 64.71,594.03 61.11,594.03" fill="#111" stroke="none" stroke-width="0.4" stroke-linejoin="round" />
<polygon points="69.74,614.06 71.54,610.82 67.94,610.82" fill="#111" stroke="none" stroke-width="0.4" stroke-linejoin="round" />
<polygon points="74.20,627.40 76.00,624.16 72.40,624.16" fill="#111" stroke="none" stroke-width="0.4" stroke-linejoin="round" />
<polygon points="77.05,633.43 78.85,630.19 75.25,630.19" fill="#111" stroke="none" stroke-width="0.4" stroke-linejoin="round" />
<polyline points="51.05,627.88 53.49,623.57 56.74,616.79 60.64,594.84 64.29,572.99 66.97,571.16 70.71,568.04 75.66,582.57 81.92,604.42 84.76,612.49" fill="none" stroke="#9b30ee" stroke-width="0.9" stroke-linejoin="round" />
<polygon points="51.05,629.77 52.85,626.53 49.25,626.53" fill="#9b30ee" stroke="none" stroke-width="0.4" stroke-linejoin="round" />
<polygon points="53.49,625.46 55.29,622.22 51.69,622.22" fill="#9b30ee" stroke="none" stroke-width="0.4" stroke-linejoin="round" />
<polygon points="56.74,618.68 58.54,615.44 54.94,615.44" fill="#9b30ee" stroke="none" stroke-width="0.4" stroke-linejoin="round" />
<polygon points="60.64,596.73 62.44,593.49 58.84,593.49" fill="#9b30ee" stroke="none" stroke-width="0.4" stroke-linejoin="round" />
<polygon points="64.29,574.88 66.09,571.64 62.49,571.64" fill="#9b30ee" stroke="none" stroke-width="0.4" stroke-linejoin="round" />
<polygon points="66.97,573.05 68.77,569.81 65.17,569.81" fill="#9b30ee" stroke="none" stroke-width="0.4" stroke-linejoin="round" />
<polygon points="70.71,569.93 72.51,566.69 68.91,566.69" fill="#9b30ee" stroke="none" stroke-width="0.4" stroke-linejoin="round" />
<polygon points="75.66,584.46 77.46,581.22 73.86,581.22" fill="#9b30ee" stroke="none" stroke-width="0.4" stroke-linejoin="round" />
<polygon points="81.92,606.31 83.72,603.07 80.12,603.07" fill="#9b30ee" stroke="none" stroke-width="0.4" stroke-linejoin="round" />
<polygon points="84.76,614.38 86.56,611.14 82.96,611.14" fill="#9b30ee" stroke="none" stroke-width="0.4" stroke-linejoin="round" />
<text x="59.90" y="650.50" font-size="6.5" text-anchor="middle" fill="#231f20" stroke="#231f20" stroke-width="0.2" dominant-baseline="central">pH</text>
<text x="167.90" y="532.70" font-size="6.5" text-anchor="middle" fill="#8a8a8a" stroke="#8a8a8a" stroke-width="0.2" dominant-baseline="central">Šimek &amp; Hopkins,</text>
<text x="167.90" y="541.00" font-size="6.5" text-anchor="middle" fill="#8a8a8a" stroke="#8a8a8a" stroke-width="0.2" dominant-baseline="central">1999</text>
<line x1="131.00" y1="546.30" x2="204.80" y2="546.30" stroke="#5a5a5a" stroke-width="0.6" />
<line x1="131.00" y1="546.30" x2="131.00" y2="632.40" stroke="#5a5a5a" stroke-width="0.6" />
<line x1="204.80" y1="546.30" x2="204.80" y2="632.40" stroke="#5a5a5a" stroke-width="0.6" />
<line x1="131.00" y1="632.40" x2="133.60" y2="632.40" stroke="#5a5a5a" stroke-width="0.5" />
<line x1="204.80" y1="632.40" x2="202.20" y2="632.40" stroke="#5a5a5a" stroke-width="0.5" />
<text x="128.80" y="632.90" font-size="6.5" text-anchor="end" fill="#231f20" stroke="#231f20" stroke-width="0.2" dominant-baseline="central">0</text>
<line x1="131.00" y1="610.88" x2="133.60" y2="610.88" stroke="#5a5a5a" stroke-width="0.5" />
<line x1="204.80" y1="610.88" x2="202.20" y2="610.88" stroke="#5a5a5a" stroke-width="0.5" />
<text x="128.80" y="611.38" font-size="6.5" text-anchor="end" fill="#231f20" stroke="#231f20" stroke-width="0.2" dominant-baseline="central">50</text>
<line x1="131.00" y1="589.35" x2="133.60" y2="589.35" stroke="#5a5a5a" stroke-width="0.5" />
<line x1="204.80" y1="589.35" x2="202.20" y2="589.35" stroke="#5a5a5a" stroke-width="0.5" />
<text x="128.80" y="589.85" font-size="6.5" text-anchor="end" fill="#231f20" stroke="#231f20" stroke-width="0.2" dominant-baseline="central">100</text>
<line x1="131.00" y1="567.82" x2="133.60" y2="567.82" stroke="#5a5a5a" stroke-width="0.5" />
<line x1="204.80" y1="567.82" x2="202.20" y2="567.82" stroke="#5a5a5a" stroke-width="0.5" />
<text x="128.80" y="568.32" font-size="6.5" text-anchor="end" fill="#231f20" stroke="#231f20" stroke-width="0.2" dominant-baseline="central">150</text>
<line x1="131.00" y1="546.30" x2="133.60" y2="546.30" stroke="#5a5a5a" stroke-width="0.5" />
<line x1="204.80" y1="546.30" x2="202.20" y2="546.30" stroke="#5a5a5a" stroke-width="0.5" />
<text x="128.80" y="546.80" font-size="6.5" text-anchor="end" fill="#231f20" stroke="#231f20" stroke-width="0.2" dominant-baseline="central">200</text>
<line x1="145.40" y1="632.40" x2="145.40" y2="629.80" stroke="#5a5a5a" stroke-width="0.5" />
<text x="145.40" y="639.70" font-size="6.5" text-anchor="middle" fill="#231f20" stroke="#231f20" stroke-width="0.2" dominant-baseline="central">4</text>
<line x1="167.90" y1="632.40" x2="167.90" y2="629.80" stroke="#5a5a5a" stroke-width="0.5" />
<text x="167.90" y="639.70" font-size="6.5" text-anchor="middle" fill="#231f20" stroke="#231f20" stroke-width="0.2" dominant-baseline="central">7</text>
<line x1="190.40" y1="632.40" x2="190.40" y2="629.80" stroke="#5a5a5a" stroke-width="0.5" />
<text x="190.40" y="639.70" font-size="6.5" text-anchor="middle" fill="#231f20" stroke="#231f20" stroke-width="0.2" dominant-baseline="central">10</text>
<line x1="131.00" y1="632.40" x2="204.80" y2="632.40" stroke="#c4c4c4" stroke-width="1.0" />
<polyline points="136.33,632.40 139.18,632.40 142.10,632.01 144.50,630.89 146.53,629.30 148.40,628.70 149.98,628.01 153.73,624.01 157.03,613.80 164.90,589.52 168.88,570.32 169.78,574.20 172.18,572.90 174.80,574.02 176.07,577.90 177.20,589.09 179.00,577.90 182.00,588.19 185.60,623.79 200.07,632.40" fill="none" stroke="#111" stroke-width="0.8" stroke-linejoin="round" />
<polygon points="136.33,630.20 135.78,631.65 134.23,631.72 135.45,632.69 135.03,634.18 136.33,633.32 137.62,634.18 137.20,632.69 138.42,631.72 136.87,631.65" fill="#111" stroke="none" stroke-width="0.6" stroke-linejoin="round" />
<polygon points="139.18,630.20 138.63,631.65 137.08,631.72 138.30,632.69 137.88,634.18 139.18,633.32 140.47,634.18 140.05,632.69 141.27,631.72 139.72,631.65" fill="#111" stroke="none" stroke-width="0.6" stroke-linejoin="round" />
<polygon points="142.10,629.81 141.56,631.27 140.01,631.33 141.22,632.30 140.81,633.79 142.10,632.94 143.39,633.79 142.98,632.30 144.19,631.33 142.64,631.27" fill="#111" stroke="none" stroke-width="0.6" stroke-linejoin="round" />
<polygon points="144.50,628.69 143.96,630.15 142.41,630.21 143.62,631.18 143.21,632.67 144.50,631.82 145.79,632.67 145.38,631.18 146.59,630.21 145.04,630.15" fill="#111" stroke="none" stroke-width="0.6" stroke-linejoin="round" />
<polygon points="146.53,627.10 145.98,628.55 144.43,628.62 145.65,629.59 145.23,631.08 146.53,630.22 147.82,631.08 147.40,629.59 148.62,628.62 147.07,628.55" fill="#111" stroke="none" stroke-width="0.6" stroke-linejoin="round" />
<polygon points="148.40,626.50 147.86,627.95 146.31,628.02 147.52,628.98 147.11,630.48 148.40,629.62 149.69,630.48 149.28,628.98 150.49,628.02 148.94,627.95" fill="#111" stroke="none" stroke-width="0.6" stroke-linejoin="round" />
<polygon points="149.98,625.81 149.43,627.26 147.88,627.33 149.10,628.29 148.68,629.79 149.98,628.93 151.27,629.79 150.85,628.29 152.07,627.33 150.52,627.26" fill="#111" stroke="none" stroke-width="0.6" stroke-linejoin="round" />
<polygon points="153.73,621.81 153.18,623.26 151.63,623.33 152.85,624.29 152.43,625.79 153.73,624.93 155.02,625.79 154.60,624.29 155.82,623.33 154.27,623.26" fill="#111" stroke="none" stroke-width="0.6" stroke-linejoin="round" />
<polygon points="157.03,611.60 156.48,613.05 154.93,613.12 156.15,614.09 155.73,615.58 157.03,614.73 158.32,615.58 157.90,614.09 159.12,613.12 157.57,613.05" fill="#111" stroke="none" stroke-width="0.6" stroke-linejoin="round" />
<polygon points="164.90,587.32 164.36,588.77 162.81,588.84 164.02,589.81 163.61,591.30 164.90,590.45 166.19,591.30 165.78,589.81 166.99,588.84 165.44,588.77" fill="#111" stroke="none" stroke-width="0.6" stroke-linejoin="round" />
<polygon points="168.88,568.12 168.33,569.57 166.78,569.64 168.00,570.61 167.58,572.10 168.88,571.25 170.17,572.10 169.75,570.61 170.97,569.64 169.42,569.57" fill="#111" stroke="none" stroke-width="0.6" stroke-linejoin="round" />
<polygon points="169.78,572.00 169.23,573.45 167.68,573.52 168.90,574.48 168.48,575.98 169.78,575.12 171.07,575.98 170.65,574.48 171.87,573.52 170.32,573.45" fill="#111" stroke="none" stroke-width="0.6" stroke-linejoin="round" />
<polygon points="172.18,570.70 171.63,572.16 170.08,572.23 171.30,573.19 170.88,574.68 172.18,573.83 173.47,574.68 173.05,573.19 174.27,572.23 172.72,572.16" fill="#111" stroke="none" stroke-width="0.6" stroke-linejoin="round" />
<polygon points="174.80,571.82 174.26,573.28 172.71,573.34 173.92,574.31 173.51,575.80 174.80,574.95 176.09,575.80 175.68,574.31 176.89,573.34 175.34,573.28" fill="#111" stroke="none" stroke-width="0.6" stroke-linejoin="round" />
<polygon points="176.07,575.70 175.53,577.15 173.98,577.22 175.20,578.18 174.78,579.68 176.07,578.82 177.37,579.68 176.95,578.18 178.17,577.22 176.62,577.15" fill="#111" stroke="none" stroke-width="0.6" stroke-linejoin="round" />
<polygon points="177.20,586.89 176.66,588.34 175.11,588.41 176.32,589.38 175.91,590.87 177.20,590.02 178.49,590.87 178.08,589.38 179.29,588.41 177.74,588.34" fill="#111" stroke="none" stroke-width="0.6" stroke-linejoin="round" />
<polygon points="179.00,575.70 178.46,577.15 176.91,577.22 178.12,578.18 177.71,579.68 179.00,578.82 180.29,579.68 179.88,578.18 181.09,577.22 179.54,577.15" fill="#111" stroke="none" stroke-width="0.6" stroke-linejoin="round" />
<polygon points="182.00,585.99 181.46,587.44 179.91,587.51 181.12,588.47 180.71,589.97 182.00,589.11 183.29,589.97 182.88,588.47 184.09,587.51 182.54,587.44" fill="#111" stroke="none" stroke-width="0.6" stroke-linejoin="round" />
<polygon points="185.60,621.59 185.06,623.04 183.51,623.11 184.72,624.08 184.31,625.57 185.60,624.71 186.89,625.57 186.48,624.08 187.69,623.11 186.14,623.04" fill="#111" stroke="none" stroke-width="0.6" stroke-linejoin="round" />
<polygon points="200.07,630.20 199.53,631.65 197.98,631.72 199.20,632.69 198.78,634.18 200.07,633.32 201.37,634.18 200.95,632.69 202.17,631.72 200.62,631.65" fill="#111" stroke="none" stroke-width="0.6" stroke-linejoin="round" />
<text x="163.90" y="650.50" font-size="6.5" text-anchor="middle" fill="#231f20" stroke="#231f20" stroke-width="0.2" dominant-baseline="central">pH</text>
<text x="266.00" y="532.70" font-size="6.5" text-anchor="middle" fill="#8a8a8a" stroke="#8a8a8a" stroke-width="0.2" dominant-baseline="central">Šimek et al.,</text>
<text x="266.00" y="541.00" font-size="6.5" text-anchor="middle" fill="#8a8a8a" stroke="#8a8a8a" stroke-width="0.2" dominant-baseline="central">2002</text>
<line x1="230.00" y1="546.30" x2="303.90" y2="546.30" stroke="#5a5a5a" stroke-width="0.6" />
<line x1="230.00" y1="546.30" x2="230.00" y2="632.40" stroke="#c8c8c8" stroke-width="1.3" />
<line x1="303.90" y1="546.30" x2="303.90" y2="632.40" stroke="#9b30ee" stroke-width="0.6" />
<line x1="230.00" y1="632.40" x2="232.60" y2="632.40" stroke="#5a5a5a" stroke-width="0.5" />
<text x="227.80" y="632.90" font-size="6.5" text-anchor="end" fill="#231f20" stroke="#231f20" stroke-width="0.2" dominant-baseline="central">0</text>
<line x1="230.00" y1="610.88" x2="232.60" y2="610.88" stroke="#5a5a5a" stroke-width="0.5" />
<text x="227.80" y="611.38" font-size="6.5" text-anchor="end" fill="#231f20" stroke="#231f20" stroke-width="0.2" dominant-baseline="central">3</text>
<line x1="230.00" y1="589.35" x2="232.60" y2="589.35" stroke="#5a5a5a" stroke-width="0.5" />
<text x="227.80" y="589.85" font-size="6.5" text-anchor="end" fill="#231f20" stroke="#231f20" stroke-width="0.2" dominant-baseline="central">6</text>
<line x1="230.00" y1="567.82" x2="232.60" y2="567.82" stroke="#5a5a5a" stroke-width="0.5" />
<text x="227.80" y="568.32" font-size="6.5" text-anchor="end" fill="#231f20" stroke="#231f20" stroke-width="0.2" dominant-baseline="central">9</text>
<line x1="230.00" y1="546.30" x2="232.60" y2="546.30" stroke="#5a5a5a" stroke-width="0.5" />
<text x="227.80" y="546.80" font-size="6.5" text-anchor="end" fill="#231f20" stroke="#231f20" stroke-width="0.2" dominant-baseline="central">12</text>
<line x1="303.90" y1="632.40" x2="301.30" y2="632.40" stroke="#9b30ee" stroke-width="0.5" />
<text x="306.30" y="632.90" font-size="6.5" text-anchor="start" fill="#9b30ee" stroke="#9b30ee" stroke-width="0.2" dominant-baseline="central">0</text>
<line x1="303.90" y1="610.88" x2="301.30" y2="610.88" stroke="#9b30ee" stroke-width="0.5" />
<text x="306.30" y="611.38" font-size="6.5" text-anchor="start" fill="#9b30ee" stroke="#9b30ee" stroke-width="0.2" dominant-baseline="central">0.4</text>
<line x1="303.90" y1="589.35" x2="301.30" y2="589.35" stroke="#9b30ee" stroke-width="0.5" />
<text x="306.30" y="589.85" font-size="6.5" text-anchor="start" fill="#9b30ee" stroke="#9b30ee" stroke-width="0.2" dominant-baseline="central">0.8</text>
<line x1="303.90" y1="567.82" x2="301.30" y2="567.82" stroke="#9b30ee" stroke-width="0.5" />
<text x="306.30" y="568.32" font-size="6.5" text-anchor="start" fill="#9b30ee" stroke="#9b30ee" stroke-width="0.2" dominant-baseline="central">1.2</text>
<line x1="303.90" y1="546.30" x2="301.30" y2="546.30" stroke="#9b30ee" stroke-width="0.5" />
<text x="306.30" y="546.80" font-size="6.5" text-anchor="start" fill="#9b30ee" stroke="#9b30ee" stroke-width="0.2" dominant-baseline="central">1.6</text>
<line x1="238.00" y1="632.40" x2="238.00" y2="629.80" stroke="#5a5a5a" stroke-width="0.5" />
<text x="238.00" y="639.70" font-size="6.5" text-anchor="middle" fill="#231f20" stroke="#231f20" stroke-width="0.2" dominant-baseline="central">4</text>
<line x1="262.21" y1="632.40" x2="262.21" y2="629.80" stroke="#5a5a5a" stroke-width="0.5" />
<text x="262.21" y="639.70" font-size="6.5" text-anchor="middle" fill="#231f20" stroke="#231f20" stroke-width="0.2" dominant-baseline="central">7</text>
<line x1="286.42" y1="632.40" x2="286.42" y2="629.80" stroke="#5a5a5a" stroke-width="0.5" />
<text x="286.42" y="639.70" font-size="6.5" text-anchor="middle" fill="#231f20" stroke="#231f20" stroke-width="0.2" dominant-baseline="central">10</text>
<line x1="230.00" y1="632.40" x2="303.90" y2="632.40" stroke="#c4c4c4" stroke-width="1.0" />
<polyline points="241.07,602.70 244.54,585.19 247.20,576.87 249.78,594.37 255.67,598.39 265.20,614.82 269.23,615.47 273.83,618.12" fill="none" stroke="#111" stroke-width="0.8" stroke-linejoin="round" />
<polygon points="241.07,600.81 242.87,604.05 239.27,604.05" fill="#111" stroke="none" stroke-width="0.4" stroke-linejoin="round" />
<polygon points="244.54,583.30 246.34,586.54 242.74,586.54" fill="#111" stroke="none" stroke-width="0.4" stroke-linejoin="round" />
<polygon points="247.20,574.98 249.00,578.22 245.40,578.22" fill="#111" stroke="none" stroke-width="0.4" stroke-linejoin="round" />
<polygon points="249.78,592.48 251.58,595.72 247.98,595.72" fill="#111" stroke="none" stroke-width="0.4" stroke-linejoin="round" />
<polygon points="255.67,596.50 257.47,599.74 253.87,599.74" fill="#111" stroke="none" stroke-width="0.4" stroke-linejoin="round" />
<polygon points="265.20,612.93 267.00,616.17 263.40,616.17" fill="#111" stroke="none" stroke-width="0.4" stroke-linejoin="round" />
<polygon points="269.23,613.58 271.03,616.82 267.43,616.82" fill="#111" stroke="none" stroke-width="0.4" stroke-linejoin="round" />
<polygon points="273.83,616.23 275.63,619.47 272.03,619.47" fill="#111" stroke="none" stroke-width="0.4" stroke-linejoin="round" />
<polyline points="241.07,626.01 248.49,609.80 255.43,589.78 258.58,581.17 268.83,577.30 276.41,583.90 283.68,614.61 288.28,628.31 300.46,631.97" fill="none" stroke="#111" stroke-width="0.8" stroke-dasharray="2.6 1.2 0.6 1.2" stroke-linejoin="round" />
<polygon points="241.07,624.12 242.87,627.36 239.27,627.36" fill="#111" stroke="none" stroke-width="0.4" stroke-linejoin="round" />
<polygon points="248.49,607.91 250.29,611.15 246.69,611.15" fill="#111" stroke="none" stroke-width="0.4" stroke-linejoin="round" />
<polygon points="255.43,587.89 257.23,591.13 253.63,591.13" fill="#111" stroke="none" stroke-width="0.4" stroke-linejoin="round" />
<polygon points="258.58,579.28 260.38,582.52 256.78,582.52" fill="#111" stroke="none" stroke-width="0.4" stroke-linejoin="round" />
<polygon points="268.83,575.41 270.63,578.65 267.03,578.65" fill="#111" stroke="none" stroke-width="0.4" stroke-linejoin="round" />
<polygon points="276.41,582.01 278.21,585.25 274.61,585.25" fill="#111" stroke="none" stroke-width="0.4" stroke-linejoin="round" />
<polygon points="283.68,612.72 285.48,615.96 281.88,615.96" fill="#111" stroke="none" stroke-width="0.4" stroke-linejoin="round" />
<polygon points="288.28,626.42 290.08,629.66 286.48,629.66" fill="#111" stroke="none" stroke-width="0.4" stroke-linejoin="round" />
<polygon points="300.46,630.08 302.26,633.32 298.66,633.32" fill="#111" stroke="none" stroke-width="0.4" stroke-linejoin="round" />
<polyline points="238.00,620.08 242.76,603.99 253.41,578.21 256.88,592.69 264.79,601.73 268.83,604.31 270.52,612.49 274.48,615.88 280.13,619.81 286.98,624.01" fill="none" stroke="#9b30ee" stroke-width="0.9" stroke-linejoin="round" />
<polygon points="238.00,618.19 239.80,621.43 236.20,621.43" fill="#9b30ee" stroke="none" stroke-width="0.4" stroke-linejoin="round" />
<polygon points="242.76,602.10 244.56,605.34 240.96,605.34" fill="#9b30ee" stroke="none" stroke-width="0.4" stroke-linejoin="round" />
<polygon points="253.41,576.32 255.21,579.56 251.61,579.56" fill="#9b30ee" stroke="none" stroke-width="0.4" stroke-linejoin="round" />
<polygon points="256.88,590.80 258.68,594.04 255.08,594.04" fill="#9b30ee" stroke="none" stroke-width="0.4" stroke-linejoin="round" />
<polygon points="264.79,599.84 266.59,603.08 262.99,603.08" fill="#9b30ee" stroke="none" stroke-width="0.4" stroke-linejoin="round" />
<polygon points="268.83,602.42 270.63,605.66 267.03,605.66" fill="#9b30ee" stroke="none" stroke-width="0.4" stroke-linejoin="round" />
<polygon points="270.52,610.60 272.32,613.84 268.72,613.84" fill="#9b30ee" stroke="none" stroke-width="0.4" stroke-linejoin="round" />
<polygon points="274.48,613.99 276.28,617.23 272.68,617.23" fill="#9b30ee" stroke="none" stroke-width="0.4" stroke-linejoin="round" />
<polygon points="280.13,617.92 281.93,621.16 278.33,621.16" fill="#9b30ee" stroke="none" stroke-width="0.4" stroke-linejoin="round" />
<polygon points="286.98,622.12 288.78,625.36 285.18,625.36" fill="#9b30ee" stroke="none" stroke-width="0.4" stroke-linejoin="round" />
<text x="261.90" y="650.50" font-size="6.5" text-anchor="middle" fill="#231f20" stroke="#231f20" stroke-width="0.2" dominant-baseline="central">pH</text>
<text x="370.00" y="532.70" font-size="6.5" text-anchor="middle" fill="#8a8a8a" stroke="#8a8a8a" stroke-width="0.2" dominant-baseline="central">Khalifah &amp; Folz,</text>
<text x="370.00" y="541.00" font-size="6.5" text-anchor="middle" fill="#8a8a8a" stroke="#8a8a8a" stroke-width="0.2" dominant-baseline="central">2024</text>
<line x1="333.30" y1="546.30" x2="406.20" y2="546.30" stroke="#5a5a5a" stroke-width="0.6" />
<line x1="333.30" y1="546.30" x2="333.30" y2="632.40" stroke="#5a5a5a" stroke-width="0.6" />
<line x1="406.20" y1="546.30" x2="406.20" y2="632.40" stroke="#9b30ee" stroke-width="0.6" />
<line x1="333.30" y1="632.40" x2="335.90" y2="632.40" stroke="#5a5a5a" stroke-width="0.5" />
<text x="331.10" y="632.90" font-size="6.5" text-anchor="end" fill="#231f20" stroke="#231f20" stroke-width="0.2" dominant-baseline="central">0</text>
<line x1="333.30" y1="610.88" x2="335.90" y2="610.88" stroke="#5a5a5a" stroke-width="0.5" />
<text x="331.10" y="611.38" font-size="6.5" text-anchor="end" fill="#231f20" stroke="#231f20" stroke-width="0.2" dominant-baseline="central">1.5</text>
<line x1="333.30" y1="589.35" x2="335.90" y2="589.35" stroke="#5a5a5a" stroke-width="0.5" />
<text x="331.10" y="589.85" font-size="6.5" text-anchor="end" fill="#231f20" stroke="#231f20" stroke-width="0.2" dominant-baseline="central">3.0</text>
<line x1="333.30" y1="567.82" x2="335.90" y2="567.82" stroke="#5a5a5a" stroke-width="0.5" />
<text x="331.10" y="568.32" font-size="6.5" text-anchor="end" fill="#231f20" stroke="#231f20" stroke-width="0.2" dominant-baseline="central">4.5</text>
<line x1="333.30" y1="546.30" x2="335.90" y2="546.30" stroke="#5a5a5a" stroke-width="0.5" />
<text x="331.10" y="546.80" font-size="6.5" text-anchor="end" fill="#231f20" stroke="#231f20" stroke-width="0.2" dominant-baseline="central">6.0</text>
<line x1="406.20" y1="632.40" x2="403.60" y2="632.40" stroke="#9b30ee" stroke-width="0.5" />
<text x="408.60" y="632.90" font-size="6.5" text-anchor="start" fill="#9b30ee" stroke="#9b30ee" stroke-width="0.2" dominant-baseline="central">0</text>
<line x1="406.20" y1="610.88" x2="403.60" y2="610.88" stroke="#9b30ee" stroke-width="0.5" />
<text x="408.60" y="611.38" font-size="6.5" text-anchor="start" fill="#9b30ee" stroke="#9b30ee" stroke-width="0.2" dominant-baseline="central">5</text>
<line x1="406.20" y1="589.35" x2="403.60" y2="589.35" stroke="#9b30ee" stroke-width="0.5" />
<text x="408.60" y="589.85" font-size="6.5" text-anchor="start" fill="#9b30ee" stroke="#9b30ee" stroke-width="0.2" dominant-baseline="central">10</text>
<line x1="406.20" y1="567.82" x2="403.60" y2="567.82" stroke="#9b30ee" stroke-width="0.5" />
<text x="408.60" y="568.32" font-size="6.5" text-anchor="start" fill="#9b30ee" stroke="#9b30ee" stroke-width="0.2" dominant-baseline="central">15</text>
<line x1="406.20" y1="546.30" x2="403.60" y2="546.30" stroke="#9b30ee" stroke-width="0.5" />
<text x="408.60" y="546.80" font-size="6.5" text-anchor="start" fill="#9b30ee" stroke="#9b30ee" stroke-width="0.2" dominant-baseline="central">20</text>
<line x1="333.30" y1="632.40" x2="333.30" y2="629.80" stroke="#5a5a5a" stroke-width="0.5" />
<text x="333.30" y="639.70" font-size="6.5" text-anchor="middle" fill="#231f20" stroke="#231f20" stroke-width="0.2" dominant-baseline="central">1</text>
<line x1="355.29" y1="632.40" x2="355.29" y2="629.80" stroke="#5a5a5a" stroke-width="0.5" />
<text x="355.29" y="639.70" font-size="6.5" text-anchor="middle" fill="#231f20" stroke="#231f20" stroke-width="0.2" dominant-baseline="central">4</text>
<line x1="377.28" y1="632.40" x2="377.28" y2="629.80" stroke="#5a5a5a" stroke-width="0.5" />
<text x="377.28" y="639.70" font-size="6.5" text-anchor="middle" fill="#231f20" stroke="#231f20" stroke-width="0.2" dominant-baseline="central">7</text>
<line x1="399.27" y1="632.40" x2="399.27" y2="629.80" stroke="#5a5a5a" stroke-width="0.5" />
<text x="399.27" y="639.70" font-size="6.5" text-anchor="middle" fill="#231f20" stroke="#231f20" stroke-width="0.2" dominant-baseline="central">10</text>
<line x1="333.30" y1="632.40" x2="406.20" y2="632.40" stroke="#c4c4c4" stroke-width="1.0" />
<polyline points="340.63,631.68 347.96,631.25 355.29,630.39 362.62,622.64 369.95,586.91 377.28,581.60 384.61,622.64 391.94,627.66 399.27,631.25" fill="none" stroke="#111" stroke-width="0.8" stroke-linejoin="round" />
<polygon points="340.63,629.63 342.17,631.68 340.63,633.73 339.09,631.68" fill="#111" stroke="none" stroke-width="0.6" stroke-linejoin="round" />
<polygon points="347.96,629.20 349.50,631.25 347.96,633.30 346.42,631.25" fill="#111" stroke="none" stroke-width="0.6" stroke-linejoin="round" />
<polygon points="355.29,628.34 356.83,630.39 355.29,632.44 353.75,630.39" fill="#111" stroke="none" stroke-width="0.6" stroke-linejoin="round" />
<polygon points="362.62,620.59 364.16,622.64 362.62,624.69 361.08,622.64" fill="#111" stroke="none" stroke-width="0.6" stroke-linejoin="round" />
<polygon points="369.95,584.86 371.49,586.91 369.95,588.96 368.41,586.91" fill="#111" stroke="none" stroke-width="0.6" stroke-linejoin="round" />
<polygon points="377.28,579.55 378.82,581.60 377.28,583.65 375.74,581.60" fill="#111" stroke="none" stroke-width="0.6" stroke-linejoin="round" />
<polygon points="384.61,620.59 386.15,622.64 384.61,624.69 383.07,622.64" fill="#111" stroke="none" stroke-width="0.6" stroke-linejoin="round" />
<polygon points="391.94,625.61 393.48,627.66 391.94,629.71 390.40,627.66" fill="#111" stroke="none" stroke-width="0.6" stroke-linejoin="round" />
<polygon points="399.27,629.20 400.81,631.25 399.27,633.30 397.73,631.25" fill="#111" stroke="none" stroke-width="0.6" stroke-linejoin="round" />
<polyline points="340.63,631.68 347.96,630.97 355.29,628.10 362.62,616.04 369.95,590.50 377.28,591.79 384.61,625.37 391.94,628.81 399.27,630.97" fill="none" stroke="#111" stroke-width="0.8" stroke-dasharray="2.6 1.2 0.6 1.2" stroke-linejoin="round" />
<polygon points="340.63,629.63 342.17,631.68 340.63,633.73 339.09,631.68" fill="#111" stroke="none" stroke-width="0.6" stroke-linejoin="round" />
<polygon points="347.96,628.92 349.50,630.97 347.96,633.01 346.42,630.97" fill="#111" stroke="none" stroke-width="0.6" stroke-linejoin="round" />
<polygon points="355.29,626.05 356.83,628.10 355.29,630.14 353.75,628.10" fill="#111" stroke="none" stroke-width="0.6" stroke-linejoin="round" />
<polygon points="362.62,613.99 364.16,616.04 362.62,618.09 361.08,616.04" fill="#111" stroke="none" stroke-width="0.6" stroke-linejoin="round" />
<polygon points="369.95,588.45 371.49,590.50 369.95,592.55 368.41,590.50" fill="#111" stroke="none" stroke-width="0.6" stroke-linejoin="round" />
<polygon points="377.28,589.74 378.82,591.79 377.28,593.84 375.74,591.79" fill="#111" stroke="none" stroke-width="0.6" stroke-linejoin="round" />
<polygon points="384.61,623.32 386.15,625.37 384.61,627.42 383.07,625.37" fill="#111" stroke="none" stroke-width="0.6" stroke-linejoin="round" />
<polygon points="391.94,626.76 393.48,628.81 391.94,630.86 390.40,628.81" fill="#111" stroke="none" stroke-width="0.6" stroke-linejoin="round" />
<polygon points="399.27,628.92 400.81,630.97 399.27,633.01 397.73,630.97" fill="#111" stroke="none" stroke-width="0.6" stroke-linejoin="round" />
<polyline points="340.63,617.48 347.96,624.65 355.29,620.35 362.62,612.17 369.95,595.66 377.28,616.04 384.61,627.23 391.94,630.39 399.27,631.25" fill="none" stroke="#111" stroke-width="0.8" stroke-dasharray="2.2 1.4" stroke-linejoin="round" />
<polygon points="340.63,615.43 342.17,617.48 340.63,619.53 339.09,617.48" fill="#111" stroke="none" stroke-width="0.6" stroke-linejoin="round" />
<polygon points="347.96,622.60 349.50,624.65 347.96,626.70 346.42,624.65" fill="#111" stroke="none" stroke-width="0.6" stroke-linejoin="round" />
<polygon points="355.29,618.30 356.83,620.35 355.29,622.40 353.75,620.35" fill="#111" stroke="none" stroke-width="0.6" stroke-linejoin="round" />
<polygon points="362.62,610.12 364.16,612.17 362.62,614.22 361.08,612.17" fill="#111" stroke="none" stroke-width="0.6" stroke-linejoin="round" />
<polygon points="369.95,593.61 371.49,595.66 369.95,597.71 368.41,595.66" fill="#111" stroke="none" stroke-width="0.6" stroke-linejoin="round" />
<polygon points="377.28,613.99 378.82,616.04 377.28,618.09 375.74,616.04" fill="#111" stroke="none" stroke-width="0.6" stroke-linejoin="round" />
<polygon points="384.61,625.18 386.15,627.23 384.61,629.28 383.07,627.23" fill="#111" stroke="none" stroke-width="0.6" stroke-linejoin="round" />
<polygon points="391.94,628.34 393.48,630.39 391.94,632.44 390.40,630.39" fill="#111" stroke="none" stroke-width="0.6" stroke-linejoin="round" />
<polygon points="399.27,629.20 400.81,631.25 399.27,633.30 397.73,631.25" fill="#111" stroke="none" stroke-width="0.6" stroke-linejoin="round" />
<polyline points="347.96,625.08 355.29,614.79 362.62,603.00 369.95,580.31 377.28,566.32 384.61,566.32 391.94,566.32 399.27,618.49" fill="none" stroke="#9b30ee" stroke-width="0.9" stroke-linejoin="round" />
<polygon points="347.96,623.03 349.50,625.08 347.96,627.13 346.42,625.08" fill="#9b30ee" stroke="none" stroke-width="0.6" stroke-linejoin="round" />
<polygon points="355.29,612.74 356.83,614.79 355.29,616.84 353.75,614.79" fill="#9b30ee" stroke="none" stroke-width="0.6" stroke-linejoin="round" />
<polygon points="362.62,600.95 364.16,603.00 362.62,605.05 361.08,603.00" fill="#9b30ee" stroke="none" stroke-width="0.6" stroke-linejoin="round" />
<polygon points="369.95,578.26 371.49,580.31 369.95,582.36 368.41,580.31" fill="#9b30ee" stroke="none" stroke-width="0.6" stroke-linejoin="round" />
<polygon points="377.28,564.27 378.82,566.32 377.28,568.37 375.74,566.32" fill="#9b30ee" stroke="none" stroke-width="0.6" stroke-linejoin="round" />
<polygon points="384.61,564.27 386.15,566.32 384.61,568.37 383.07,566.32" fill="#9b30ee" stroke="none" stroke-width="0.6" stroke-linejoin="round" />
<polygon points="391.94,564.27 393.48,566.32 391.94,568.37 390.40,566.32" fill="#9b30ee" stroke="none" stroke-width="0.6" stroke-linejoin="round" />
<polygon points="399.27,616.44 400.81,618.49 399.27,620.54 397.73,618.49" fill="#9b30ee" stroke="none" stroke-width="0.6" stroke-linejoin="round" />
<text x="366.60" y="650.50" font-size="6.5" text-anchor="middle" fill="#231f20" stroke="#231f20" stroke-width="0.2" dominant-baseline="central">pH</text>
<text x="5.40" y="589.20" font-size="6.5" text-anchor="middle" fill="#231f20" stroke="#231f20" stroke-width="0.2" dominant-baseline="central" transform="rotate(-90 5.40 589.20)">— DEA (μgN g<tspan dy="-2" font-size="4.3">−1</tspan><tspan dy="2"> day</tspan><tspan dy="-2" font-size="4.3">−1</tspan><tspan dy="2">)</tspan></text>
<text x="427.30" y="590.50" font-size="6.5" text-anchor="middle" fill="#9b30ee" stroke="#9b30ee" stroke-width="0.2" dominant-baseline="central" transform="rotate(-90 427.30 590.50)">— DEA (μgN g<tspan dy="-2" font-size="4.3">−1</tspan><tspan dy="2"> day</tspan><tspan dy="-2" font-size="4.3">−1</tspan><tspan dy="2">)</tspan></text>
<text x="0.60" y="674.90" font-size="6.5" text-anchor="start" fill="#231f20" stroke="#231f20" stroke-width="0.2" dominant-baseline="central">Native</text>
<text x="0.60" y="681.50" font-size="6.5" text-anchor="start" fill="#231f20" stroke="#231f20" stroke-width="0.2" dominant-baseline="central">pH</text>
<line x1="23.50" y1="678.00" x2="37.90" y2="678.00" stroke="#111" stroke-width="0.7" />
<polygon points="30.70,679.73 32.35,676.76 29.05,676.76" fill="#111" stroke="none" stroke-width="0.4" stroke-linejoin="round" />
<text x="41.50" y="678.50" font-size="6.5" text-anchor="start" fill="#231f20" stroke="#231f20" stroke-width="0.2" dominant-baseline="central">pH 4.1</text>
<line x1="68.00" y1="678.00" x2="82.40" y2="678.00" stroke="#9b30ee" stroke-width="0.7" />
<polygon points="75.20,679.73 76.85,676.76 73.55,676.76" fill="#9b30ee" stroke="none" stroke-width="0.4" stroke-linejoin="round" />
<text x="86.00" y="678.50" font-size="6.5" text-anchor="start" fill="#231f20" stroke="#231f20" stroke-width="0.2" dominant-baseline="central">pH 6.0</text>
<line x1="147.70" y1="677.50" x2="162.10" y2="677.50" stroke="#111" stroke-width="0.7" />
<polygon points="154.90,675.15 154.32,676.70 152.67,676.77 153.96,677.80 153.52,679.40 154.90,678.49 156.28,679.40 155.84,677.80 157.13,676.77 155.48,676.70" fill="#111" stroke="none" stroke-width="0.6" stroke-linejoin="round" />
<text x="165.70" y="678.00" font-size="6.5" text-anchor="start" fill="#231f20" stroke="#231f20" stroke-width="0.2" dominant-baseline="central">pH 6.0</text>
<line x1="225.80" y1="674.20" x2="240.20" y2="674.20" stroke="#111" stroke-width="0.7" />
<polygon points="233.00,672.47 234.65,675.44 231.35,675.44" fill="#111" stroke="none" stroke-width="0.4" stroke-linejoin="round" />
<text x="243.80" y="674.70" font-size="6.5" text-anchor="start" fill="#231f20" stroke="#231f20" stroke-width="0.2" dominant-baseline="central">pH 4.8</text>
<line x1="225.80" y1="682.60" x2="240.20" y2="682.60" stroke="#111" stroke-width="0.7" stroke-dasharray="2.6 1.2 0.6 1.2" />
<polygon points="233.00,680.87 234.65,683.84 231.35,683.84" fill="#111" stroke="none" stroke-width="0.4" stroke-linejoin="round" />
<text x="243.80" y="683.10" font-size="6.5" text-anchor="start" fill="#231f20" stroke="#231f20" stroke-width="0.2" dominant-baseline="central">pH 7.8</text>
<line x1="271.30" y1="674.20" x2="285.70" y2="674.20" stroke="#9b30ee" stroke-width="0.7" />
<polygon points="278.50,672.47 280.15,675.44 276.85,675.44" fill="#9b30ee" stroke="none" stroke-width="0.4" stroke-linejoin="round" />
<text x="289.30" y="674.70" font-size="6.5" text-anchor="start" fill="#231f20" stroke="#231f20" stroke-width="0.2" dominant-baseline="central">pH 6.4</text>
<line x1="325.60" y1="674.20" x2="340.00" y2="674.20" stroke="#111" stroke-width="0.7" />
<polygon points="332.80,672.25 334.26,674.20 332.80,676.15 331.34,674.20" fill="#111" stroke="none" stroke-width="0.6" stroke-linejoin="round" />
<text x="343.60" y="674.70" font-size="6.5" text-anchor="start" fill="#231f20" stroke="#231f20" stroke-width="0.2" dominant-baseline="central">pH 5.4</text>
<line x1="325.60" y1="682.60" x2="340.00" y2="682.60" stroke="#111" stroke-width="0.7" stroke-dasharray="2.6 1.2 0.6 1.2" />
<polygon points="332.80,680.65 334.26,682.60 332.80,684.55 331.34,682.60" fill="#111" stroke="none" stroke-width="0.6" stroke-linejoin="round" />
<text x="343.60" y="683.10" font-size="6.5" text-anchor="start" fill="#231f20" stroke="#231f20" stroke-width="0.2" dominant-baseline="central">pH 6.3</text>
<line x1="370.60" y1="674.20" x2="385.00" y2="674.20" stroke="#111" stroke-width="0.7" stroke-dasharray="2.2 1.4" />
<polygon points="377.80,672.25 379.26,674.20 377.80,676.15 376.34,674.20" fill="#111" stroke="none" stroke-width="0.6" stroke-linejoin="round" />
<text x="388.60" y="674.70" font-size="6.5" text-anchor="start" fill="#231f20" stroke="#231f20" stroke-width="0.2" dominant-baseline="central">pH 7.8</text>
<line x1="370.60" y1="682.60" x2="385.00" y2="682.60" stroke="#9b30ee" stroke-width="0.7" />
<polygon points="377.80,680.65 379.26,682.60 377.80,684.55 376.34,682.60" fill="#9b30ee" stroke="none" stroke-width="0.6" stroke-linejoin="round" />
<text x="388.60" y="683.10" font-size="6.5" text-anchor="start" fill="#231f20" stroke="#231f20" stroke-width="0.2" dominant-baseline="central">pH 7.7</text>
<text x="447.60" y="530.10" font-size="10.8" text-anchor="start" fill="#000" stroke="#000" stroke-width="0.2" font-weight="bold">g</text>
<text x="514.40" y="532.80" font-size="6.5" text-anchor="middle" fill="#8a8a8a" stroke="#8a8a8a" stroke-width="0.2" dominant-baseline="central">Bremner &amp; Shaw,</text>
<text x="514.40" y="541.10" font-size="6.5" text-anchor="middle" fill="#8a8a8a" stroke="#8a8a8a" stroke-width="0.2" dominant-baseline="central">1958</text>
<line x1="473.30" y1="546.20" x2="555.80" y2="546.20" stroke="#5a5a5a" stroke-width="0.6" />
<line x1="473.30" y1="546.20" x2="473.30" y2="632.70" stroke="#5a5a5a" stroke-width="0.6" />
<line x1="555.80" y1="546.20" x2="555.80" y2="632.70" stroke="#5a5a5a" stroke-width="0.6" />
<line x1="473.30" y1="632.70" x2="475.90" y2="632.70" stroke="#5a5a5a" stroke-width="0.5" />
<line x1="555.80" y1="632.70" x2="553.20" y2="632.70" stroke="#5a5a5a" stroke-width="0.5" />
<text x="471.10" y="633.20" font-size="6.5" text-anchor="end" fill="#231f20" stroke="#231f20" stroke-width="0.2" dominant-baseline="central">0</text>
<line x1="473.30" y1="615.40" x2="475.90" y2="615.40" stroke="#5a5a5a" stroke-width="0.5" />
<line x1="555.80" y1="615.40" x2="553.20" y2="615.40" stroke="#5a5a5a" stroke-width="0.5" />
<text x="471.10" y="615.90" font-size="6.5" text-anchor="end" fill="#231f20" stroke="#231f20" stroke-width="0.2" dominant-baseline="central">20</text>
<line x1="473.30" y1="598.10" x2="475.90" y2="598.10" stroke="#5a5a5a" stroke-width="0.5" />
<line x1="555.80" y1="598.10" x2="553.20" y2="598.10" stroke="#5a5a5a" stroke-width="0.5" />
<text x="471.10" y="598.60" font-size="6.5" text-anchor="end" fill="#231f20" stroke="#231f20" stroke-width="0.2" dominant-baseline="central">40</text>
<line x1="473.30" y1="580.80" x2="475.90" y2="580.80" stroke="#5a5a5a" stroke-width="0.5" />
<line x1="555.80" y1="580.80" x2="553.20" y2="580.80" stroke="#5a5a5a" stroke-width="0.5" />
<text x="471.10" y="581.30" font-size="6.5" text-anchor="end" fill="#231f20" stroke="#231f20" stroke-width="0.2" dominant-baseline="central">60</text>
<line x1="473.30" y1="563.50" x2="475.90" y2="563.50" stroke="#5a5a5a" stroke-width="0.5" />
<line x1="555.80" y1="563.50" x2="553.20" y2="563.50" stroke="#5a5a5a" stroke-width="0.5" />
<text x="471.10" y="564.00" font-size="6.5" text-anchor="end" fill="#231f20" stroke="#231f20" stroke-width="0.2" dominant-baseline="central">80</text>
<line x1="473.30" y1="546.20" x2="475.90" y2="546.20" stroke="#5a5a5a" stroke-width="0.5" />
<line x1="555.80" y1="546.20" x2="553.20" y2="546.20" stroke="#5a5a5a" stroke-width="0.5" />
<text x="471.10" y="546.70" font-size="6.5" text-anchor="end" fill="#231f20" stroke="#231f20" stroke-width="0.2" dominant-baseline="central">100</text>
<line x1="473.30" y1="632.70" x2="473.30" y2="630.10" stroke="#5a5a5a" stroke-width="0.5" />
<text x="473.30" y="640.00" font-size="6.5" text-anchor="middle" fill="#231f20" stroke="#231f20" stroke-width="0.2" dominant-baseline="central">0</text>
<line x1="500.80" y1="632.70" x2="500.80" y2="630.10" stroke="#5a5a5a" stroke-width="0.5" />
<text x="500.80" y="640.00" font-size="6.5" text-anchor="middle" fill="#231f20" stroke="#231f20" stroke-width="0.2" dominant-baseline="central">10</text>
<line x1="528.30" y1="632.70" x2="528.30" y2="630.10" stroke="#5a5a5a" stroke-width="0.5" />
<text x="528.30" y="640.00" font-size="6.5" text-anchor="middle" fill="#231f20" stroke="#231f20" stroke-width="0.2" dominant-baseline="central">20</text>
<line x1="555.80" y1="632.70" x2="555.80" y2="630.10" stroke="#5a5a5a" stroke-width="0.5" />
<text x="555.80" y="640.00" font-size="6.5" text-anchor="middle" fill="#231f20" stroke="#231f20" stroke-width="0.2" dominant-baseline="central">30</text>
<line x1="473.30" y1="632.70" x2="555.80" y2="632.70" stroke="#5a5a5a" stroke-width="0.6" />
<polyline points="473.30,546.20 484.30,552.69 500.80,557.45 528.30,559.61 555.80,561.77" fill="none" stroke="#5a40c4" stroke-width="0.8" stroke-linejoin="round" />
<polyline points="473.30,546.20 484.30,560.04 500.80,570.42 528.30,575.61 555.80,577.77" fill="none" stroke="#4d56e6" stroke-width="0.8" stroke-linejoin="round" />
<polyline points="473.30,546.20 484.30,563.50 500.80,582.96 528.30,594.64 555.80,618.43" fill="none" stroke="#3c90ee" stroke-width="0.8" stroke-linejoin="round" />
<polyline points="473.30,546.20 484.30,587.72 500.80,617.56 528.30,613.67 555.80,611.94" fill="none" stroke="#24c2c6" stroke-width="0.8" stroke-linejoin="round" />
<polyline points="473.30,546.20 484.30,628.38 500.80,626.21 528.30,616.70 555.80,603.29" fill="none" stroke="#6cc24a" stroke-width="0.8" stroke-linejoin="round" />
<polyline points="473.30,546.20 484.30,625.78 500.80,620.59 528.30,600.70 555.80,589.02" fill="none" stroke="#f5b04c" stroke-width="0.8" stroke-linejoin="round" />
<circle cx="473.30" cy="546.20" r="1.25" fill="#111" stroke="none" stroke-width="0.5"/>
<circle cx="484.30" cy="552.69" r="1.25" fill="#111" stroke="none" stroke-width="0.5"/>
<circle cx="500.80" cy="557.45" r="1.25" fill="#111" stroke="none" stroke-width="0.5"/>
<circle cx="528.30" cy="559.61" r="1.25" fill="#111" stroke="none" stroke-width="0.5"/>
<circle cx="555.80" cy="561.77" r="1.25" fill="#111" stroke="none" stroke-width="0.5"/>
<circle cx="473.30" cy="546.20" r="1.25" fill="#111" stroke="none" stroke-width="0.5"/>
<circle cx="484.30" cy="560.04" r="1.25" fill="#111" stroke="none" stroke-width="0.5"/>
<circle cx="500.80" cy="570.42" r="1.25" fill="#111" stroke="none" stroke-width="0.5"/>
<circle cx="528.30" cy="575.61" r="1.25" fill="#111" stroke="none" stroke-width="0.5"/>
<circle cx="555.80" cy="577.77" r="1.25" fill="#111" stroke="none" stroke-width="0.5"/>
<circle cx="473.30" cy="546.20" r="1.25" fill="#111" stroke="none" stroke-width="0.5"/>
<circle cx="484.30" cy="563.50" r="1.25" fill="#111" stroke="none" stroke-width="0.5"/>
<circle cx="500.80" cy="582.96" r="1.25" fill="#111" stroke="none" stroke-width="0.5"/>
<circle cx="528.30" cy="594.64" r="1.25" fill="#111" stroke="none" stroke-width="0.5"/>
<circle cx="555.80" cy="618.43" r="1.25" fill="#111" stroke="none" stroke-width="0.5"/>
<circle cx="473.30" cy="546.20" r="1.25" fill="#111" stroke="none" stroke-width="0.5"/>
<circle cx="484.30" cy="587.72" r="1.25" fill="#111" stroke="none" stroke-width="0.5"/>
<circle cx="500.80" cy="617.56" r="1.25" fill="#111" stroke="none" stroke-width="0.5"/>
<circle cx="528.30" cy="613.67" r="1.25" fill="#111" stroke="none" stroke-width="0.5"/>
<circle cx="555.80" cy="611.94" r="1.25" fill="#111" stroke="none" stroke-width="0.5"/>
<circle cx="473.30" cy="546.20" r="1.25" fill="#111" stroke="none" stroke-width="0.5"/>
<circle cx="484.30" cy="628.38" r="1.25" fill="#111" stroke="none" stroke-width="0.5"/>
<circle cx="500.80" cy="626.21" r="1.25" fill="#111" stroke="none" stroke-width="0.5"/>
<circle cx="528.30" cy="616.70" r="1.25" fill="#111" stroke="none" stroke-width="0.5"/>
<circle cx="555.80" cy="603.29" r="1.25" fill="#111" stroke="none" stroke-width="0.5"/>
<circle cx="473.30" cy="546.20" r="1.25" fill="#111" stroke="none" stroke-width="0.5"/>
<circle cx="484.30" cy="625.78" r="1.25" fill="#111" stroke="none" stroke-width="0.5"/>
<circle cx="500.80" cy="620.59" r="1.25" fill="#111" stroke="none" stroke-width="0.5"/>
<circle cx="528.30" cy="600.70" r="1.25" fill="#111" stroke="none" stroke-width="0.5"/>
<circle cx="555.80" cy="589.02" r="1.25" fill="#111" stroke="none" stroke-width="0.5"/>
<text x="514.40" y="650.30" font-size="6.5" text-anchor="middle" fill="#231f20" stroke="#231f20" stroke-width="0.2" dominant-baseline="central">Time (day)</text>
<text x="456.20" y="589.50" font-size="6.5" text-anchor="middle" fill="#231f20" stroke="#231f20" stroke-width="0.2" dominant-baseline="central" transform="rotate(-90 456.20 589.50)">N remaining (%)</text>
<text x="612.70" y="532.80" font-size="6.5" text-anchor="middle" fill="#8a8a8a" stroke="#8a8a8a" stroke-width="0.2" dominant-baseline="central">Nömmik,</text>
<text x="612.70" y="541.10" font-size="6.5" text-anchor="middle" fill="#8a8a8a" stroke="#8a8a8a" stroke-width="0.2" dominant-baseline="central">1956</text>
<line x1="571.70" y1="546.40" x2="654.70" y2="546.40" stroke="#5a5a5a" stroke-width="0.6" />
<line x1="571.70" y1="546.40" x2="571.70" y2="632.50" stroke="#5a5a5a" stroke-width="0.6" />
<line x1="654.70" y1="546.40" x2="654.70" y2="632.50" stroke="#5a5a5a" stroke-width="0.6" />
<line x1="654.70" y1="629.00" x2="652.10" y2="629.00" stroke="#5a5a5a" stroke-width="0.5" />
<line x1="571.70" y1="629.00" x2="574.30" y2="629.00" stroke="#5a5a5a" stroke-width="0.5" />
<text x="657.10" y="629.50" font-size="6.5" text-anchor="start" fill="#231f20" stroke="#231f20" stroke-width="0.2" dominant-baseline="central">0</text>
<line x1="654.70" y1="612.50" x2="652.10" y2="612.50" stroke="#5a5a5a" stroke-width="0.5" />
<line x1="571.70" y1="612.50" x2="574.30" y2="612.50" stroke="#5a5a5a" stroke-width="0.5" />
<text x="657.10" y="613.00" font-size="6.5" text-anchor="start" fill="#231f20" stroke="#231f20" stroke-width="0.2" dominant-baseline="central">2</text>
<line x1="654.70" y1="596.00" x2="652.10" y2="596.00" stroke="#5a5a5a" stroke-width="0.5" />
<line x1="571.70" y1="596.00" x2="574.30" y2="596.00" stroke="#5a5a5a" stroke-width="0.5" />
<text x="657.10" y="596.50" font-size="6.5" text-anchor="start" fill="#231f20" stroke="#231f20" stroke-width="0.2" dominant-baseline="central">4</text>
<line x1="654.70" y1="579.50" x2="652.10" y2="579.50" stroke="#5a5a5a" stroke-width="0.5" />
<line x1="571.70" y1="579.50" x2="574.30" y2="579.50" stroke="#5a5a5a" stroke-width="0.5" />
<text x="657.10" y="580.00" font-size="6.5" text-anchor="start" fill="#231f20" stroke="#231f20" stroke-width="0.2" dominant-baseline="central">6</text>
<line x1="654.70" y1="563.00" x2="652.10" y2="563.00" stroke="#5a5a5a" stroke-width="0.5" />
<line x1="571.70" y1="563.00" x2="574.30" y2="563.00" stroke="#5a5a5a" stroke-width="0.5" />
<text x="657.10" y="563.50" font-size="6.5" text-anchor="start" fill="#231f20" stroke="#231f20" stroke-width="0.2" dominant-baseline="central">8</text>
<line x1="654.70" y1="546.50" x2="652.10" y2="546.50" stroke="#5a5a5a" stroke-width="0.5" />
<line x1="571.70" y1="546.50" x2="574.30" y2="546.50" stroke="#5a5a5a" stroke-width="0.5" />
<text x="657.10" y="547.00" font-size="6.5" text-anchor="start" fill="#231f20" stroke="#231f20" stroke-width="0.2" dominant-baseline="central">10</text>
<line x1="571.70" y1="632.50" x2="571.70" y2="629.90" stroke="#5a5a5a" stroke-width="0.5" />
<text x="571.70" y="639.80" font-size="6.5" text-anchor="middle" fill="#231f20" stroke="#231f20" stroke-width="0.2" dominant-baseline="central">0</text>
<line x1="599.37" y1="632.50" x2="599.37" y2="629.90" stroke="#5a5a5a" stroke-width="0.5" />
<text x="599.37" y="639.80" font-size="6.5" text-anchor="middle" fill="#231f20" stroke="#231f20" stroke-width="0.2" dominant-baseline="central">4</text>
<line x1="627.03" y1="632.50" x2="627.03" y2="629.90" stroke="#5a5a5a" stroke-width="0.5" />
<text x="627.03" y="639.80" font-size="6.5" text-anchor="middle" fill="#231f20" stroke="#231f20" stroke-width="0.2" dominant-baseline="central">8</text>
<line x1="654.70" y1="632.50" x2="654.70" y2="629.90" stroke="#5a5a5a" stroke-width="0.5" />
<text x="654.70" y="639.80" font-size="6.5" text-anchor="middle" fill="#231f20" stroke="#231f20" stroke-width="0.2" dominant-baseline="central">12</text>
<line x1="571.70" y1="632.50" x2="654.70" y2="632.50" stroke="#5a5a5a" stroke-width="0.6" />
<polyline points="571.70,552.27 585.53,577.85 599.37,612.09 613.20,626.52 627.03,625.29 640.87,627.76 654.70,628.17" fill="none" stroke="#f6a356" stroke-width="0.8" stroke-linejoin="round" />
<polyline points="571.70,552.27 585.53,577.02 599.37,599.71 613.20,614.98 627.03,626.11 640.87,629.83 654.70,629.83" fill="none" stroke="#f540c8" stroke-width="0.8" stroke-linejoin="round" />
<polyline points="571.70,552.27 585.53,568.77 599.37,591.88 613.20,610.85 627.03,620.75 640.87,626.94 654.70,626.94" fill="none" stroke="#f030f0" stroke-width="0.8" stroke-linejoin="round" />
<circle cx="571.70" cy="552.27" r="1.45" fill="#111" stroke="none" stroke-width="0.5"/>
<circle cx="585.53" cy="577.85" r="1.45" fill="#111" stroke="none" stroke-width="0.5"/>
<circle cx="599.37" cy="612.09" r="1.45" fill="#111" stroke="none" stroke-width="0.5"/>
<circle cx="613.20" cy="626.52" r="1.45" fill="#111" stroke="none" stroke-width="0.5"/>
<circle cx="627.03" cy="625.29" r="1.45" fill="#111" stroke="none" stroke-width="0.5"/>
<circle cx="640.87" cy="627.76" r="1.45" fill="#111" stroke="none" stroke-width="0.5"/>
<circle cx="654.70" cy="628.17" r="1.45" fill="#111" stroke="none" stroke-width="0.5"/>
<circle cx="571.70" cy="552.27" r="1.45" fill="#111" stroke="none" stroke-width="0.5"/>
<circle cx="585.53" cy="577.02" r="1.45" fill="#111" stroke="none" stroke-width="0.5"/>
<circle cx="599.37" cy="599.71" r="1.45" fill="#111" stroke="none" stroke-width="0.5"/>
<circle cx="613.20" cy="614.98" r="1.45" fill="#111" stroke="none" stroke-width="0.5"/>
<circle cx="627.03" cy="626.11" r="1.45" fill="#111" stroke="none" stroke-width="0.5"/>
<circle cx="640.87" cy="629.83" r="1.45" fill="#111" stroke="none" stroke-width="0.5"/>
<circle cx="654.70" cy="629.83" r="1.45" fill="#111" stroke="none" stroke-width="0.5"/>
<circle cx="571.70" cy="552.27" r="1.45" fill="#111" stroke="none" stroke-width="0.5"/>
<circle cx="585.53" cy="568.77" r="1.45" fill="#111" stroke="none" stroke-width="0.5"/>
<circle cx="599.37" cy="591.88" r="1.45" fill="#111" stroke="none" stroke-width="0.5"/>
<circle cx="613.20" cy="610.85" r="1.45" fill="#111" stroke="none" stroke-width="0.5"/>
<circle cx="627.03" cy="620.75" r="1.45" fill="#111" stroke="none" stroke-width="0.5"/>
<circle cx="640.87" cy="626.94" r="1.45" fill="#111" stroke="none" stroke-width="0.5"/>
<circle cx="654.70" cy="626.94" r="1.45" fill="#111" stroke="none" stroke-width="0.5"/>
<text x="613.20" y="650.90" font-size="6.5" text-anchor="middle" fill="#231f20" stroke="#231f20" stroke-width="0.2" dominant-baseline="central">Time (day)</text>
<text x="672.70" y="589.40" font-size="6.5" text-anchor="middle" fill="#231f20" stroke="#231f20" stroke-width="0.2" dominant-baseline="central" transform="rotate(-90 672.70 589.40)">N remaining [mM]</text>
<text x="471.00" y="670.00" font-size="6.5" text-anchor="end" fill="#231f20" stroke="#231f20" stroke-width="0.2" dominant-baseline="central">Wheat</text>
<text x="471.00" y="679.00" font-size="6.5" text-anchor="end" fill="#231f20" stroke="#231f20" stroke-width="0.2" dominant-baseline="central">straw</text>
<text x="471.00" y="687.10" font-size="6.5" text-anchor="end" fill="#231f20" stroke="#231f20" stroke-width="0.2" dominant-baseline="central">(mg g<tspan dy="-2" font-size="4.3">−1</tspan><tspan dy="2"> soil)</tspan></text>
<line x1="475.00" y1="669.50" x2="488.30" y2="669.50" stroke="#5a40c4" stroke-width="0.8" />
<circle cx="481.65" cy="669.50" r="1.20" fill="#111" stroke="none" stroke-width="0.5"/>
<text x="493.00" y="670.00" font-size="6.5" text-anchor="start" fill="#231f20" stroke="#231f20" stroke-width="0.2" dominant-baseline="central">50</text>
<line x1="475.00" y1="678.50" x2="488.30" y2="678.50" stroke="#4d56e6" stroke-width="0.8" />
<circle cx="481.65" cy="678.50" r="1.20" fill="#111" stroke="none" stroke-width="0.5"/>
<text x="493.00" y="679.00" font-size="6.5" text-anchor="start" fill="#231f20" stroke="#231f20" stroke-width="0.2" dominant-baseline="central">100</text>
<line x1="475.00" y1="687.50" x2="488.30" y2="687.50" stroke="#3c90ee" stroke-width="0.8" />
<circle cx="481.65" cy="687.50" r="1.20" fill="#111" stroke="none" stroke-width="0.5"/>
<text x="493.00" y="688.00" font-size="6.5" text-anchor="start" fill="#231f20" stroke="#231f20" stroke-width="0.2" dominant-baseline="central">200</text>
<line x1="520.50" y1="669.50" x2="533.80" y2="669.50" stroke="#24c2c6" stroke-width="0.8" />
<circle cx="527.15" cy="669.50" r="1.20" fill="#111" stroke="none" stroke-width="0.5"/>
<text x="538.50" y="670.00" font-size="6.5" text-anchor="start" fill="#231f20" stroke="#231f20" stroke-width="0.2" dominant-baseline="central">400</text>
<line x1="520.50" y1="678.50" x2="533.80" y2="678.50" stroke="#6cc24a" stroke-width="0.8" />
<circle cx="527.15" cy="678.50" r="1.20" fill="#111" stroke="none" stroke-width="0.5"/>
<text x="538.50" y="679.00" font-size="6.5" text-anchor="start" fill="#231f20" stroke="#231f20" stroke-width="0.2" dominant-baseline="central">800</text>
<line x1="520.50" y1="687.50" x2="533.80" y2="687.50" stroke="#f5b04c" stroke-width="0.8" />
<circle cx="527.15" cy="687.50" r="1.20" fill="#111" stroke="none" stroke-width="0.5"/>
<text x="538.50" y="688.00" font-size="6.5" text-anchor="start" fill="#231f20" stroke="#231f20" stroke-width="0.2" dominant-baseline="central">1,600</text>
<text x="599.60" y="671.80" font-size="6.5" text-anchor="end" fill="#231f20" stroke="#231f20" stroke-width="0.2" dominant-baseline="central">Carbon</text>
<text x="599.60" y="681.50" font-size="6.5" text-anchor="end" fill="#231f20" stroke="#231f20" stroke-width="0.2" dominant-baseline="central">type</text>
<line x1="602.70" y1="669.50" x2="617.00" y2="669.50" stroke="#f030f0" stroke-width="0.8" />
<circle cx="609.90" cy="669.50" r="1.45" fill="#111" stroke="none" stroke-width="0.5"/>
<text x="621.30" y="670.00" font-size="6.5" text-anchor="start" fill="#231f20" stroke="#231f20" stroke-width="0.2" dominant-baseline="central">Untreated</text>
<line x1="602.70" y1="678.50" x2="617.00" y2="678.50" stroke="#f540c8" stroke-width="0.8" />
<circle cx="609.90" cy="678.50" r="1.45" fill="#111" stroke="none" stroke-width="0.5"/>
<text x="621.30" y="679.00" font-size="6.5" text-anchor="start" fill="#231f20" stroke="#231f20" stroke-width="0.2" dominant-baseline="central">+1 g wheat straw</text>
<line x1="602.70" y1="687.50" x2="617.00" y2="687.50" stroke="#f6a356" stroke-width="0.8" />
<circle cx="609.90" cy="687.50" r="1.45" fill="#111" stroke="none" stroke-width="0.5"/>
<text x="621.30" y="688.00" font-size="6.5" text-anchor="start" fill="#231f20" stroke="#231f20" stroke-width="0.2" dominant-baseline="central">+1 g glucose</text></svg></body></html>
